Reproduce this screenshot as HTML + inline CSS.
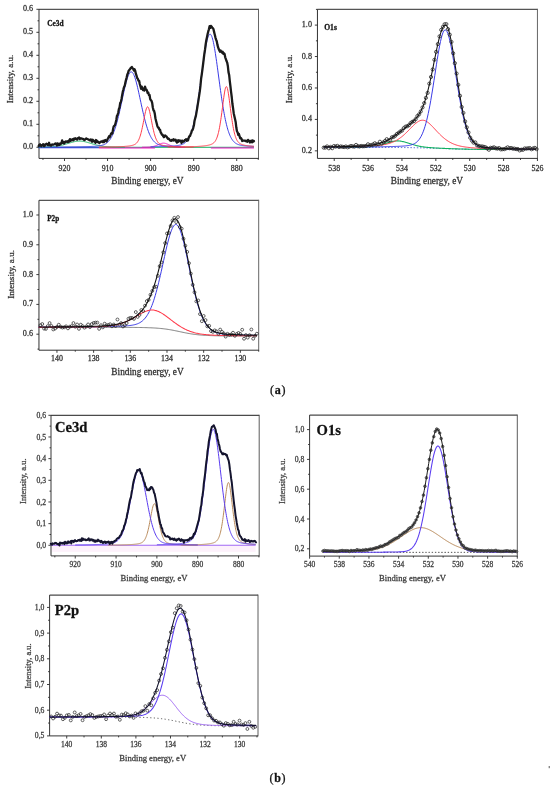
<!DOCTYPE html>
<html><head><meta charset="utf-8"><title>XPS spectra</title>
<style>html,body{margin:0;padding:0;background:#fff}svg{display:block;font-family:"Liberation Serif",serif;filter:blur(0.3px)}text{stroke-width:0.26px;paint-order:stroke}</style></head><body>
<svg width="550" height="791" viewBox="0 0 550 791">
<rect width="550" height="791" fill="#fff"/>
<path d="M39 9.3 H258.5" fill="none" stroke="#555" stroke-width="1.15"/>
<path d="M258.5 8.8 V158.9" fill="none" stroke="#555" stroke-width="0.8999999999999999"/>
<path d="M39 9.3 V158.4 H258.5" fill="none" stroke="#262626" stroke-width="0.95"/>
<text x="64.49" y="170.7" font-size="7.9" fill="#303030" stroke="#303030" text-anchor="middle">920</text>
<text x="107.55" y="170.7" font-size="7.9" fill="#303030" stroke="#303030" text-anchor="middle">910</text>
<text x="150.6" y="170.7" font-size="7.9" fill="#303030" stroke="#303030" text-anchor="middle">900</text>
<text x="193.66" y="170.7" font-size="7.9" fill="#303030" stroke="#303030" text-anchor="middle">890</text>
<text x="236.71" y="170.7" font-size="7.9" fill="#303030" stroke="#303030" text-anchor="middle">880</text>
<path d="M64.49 158.4v2.6M107.55 158.4v2.6M150.6 158.4v2.6M193.66 158.4v2.6M236.71 158.4v2.6M42.96 158.4v1.5M86.02 158.4v1.5M129.07 158.4v1.5M172.13 158.4v1.5M215.19 158.4v1.5M258.24 158.4v1.5" stroke="#262626" stroke-width="0.9" fill="none"/>
<text x="33" y="149.36" font-size="8.1" fill="#303030" stroke="#303030" text-anchor="end">0.0</text>
<text x="33" y="126.37" font-size="8.1" fill="#303030" stroke="#303030" text-anchor="end">0.1</text>
<text x="33" y="103.37" font-size="8.1" fill="#303030" stroke="#303030" text-anchor="end">0.2</text>
<text x="33" y="80.37" font-size="8.1" fill="#303030" stroke="#303030" text-anchor="end">0.3</text>
<text x="33" y="57.37" font-size="8.1" fill="#303030" stroke="#303030" text-anchor="end">0.4</text>
<text x="33" y="34.37" font-size="8.1" fill="#303030" stroke="#303030" text-anchor="end">0.5</text>
<text x="33" y="11.37" font-size="8.1" fill="#303030" stroke="#303030" text-anchor="end">0.6</text>
<path d="M39 147.29h-2.6M39 124.29h-2.6M39 101.29h-2.6M39 78.3h-2.6M39 55.3h-2.6M39 32.3h-2.6M39 9.3h-2.6M39 135.79h-1.5M39 112.79h-1.5M39 89.8h-1.5M39 66.8h-1.5M39 43.8h-1.5M39 20.8h-1.5" stroke="#262626" stroke-width="0.9" fill="none"/>
<path d="M38.66 147.29H253.94" stroke="#10b060" stroke-width="1"/>
<path d="M38.66 147.75H98.93" stroke="#3a3ae6" stroke-width="1"/>
<path d="M98.93 147.98H154.91" stroke="#f010c0" stroke-width="1"/>
<path d="M210.88 147.98H253.94" stroke="#f010c0" stroke-width="1"/>
<path d="M38.66 147.15 L38.99 147.15 L39.32 147.14 L39.65 147.14 L39.98 147.13 L40.31 147.13 L40.64 147.13 L40.97 147.12 L41.31 147.12 L41.64 147.11 L41.97 147.11 L42.3 147.1 L42.63 147.1 L42.96 147.09 L43.29 147.08 L43.62 147.08 L43.95 147.07 L44.29 147.06 L44.62 147.05 L44.95 147.05 L45.28 147.04 L45.61 147.03 L45.94 147.02 L46.27 147.01 L46.6 147 L46.94 146.98 L47.27 146.97 L47.6 146.96 L47.93 146.94 L48.26 146.93 L48.59 146.91 L48.92 146.9 L49.25 146.88 L49.59 146.86 L49.92 146.84 L50.25 146.82 L50.58 146.8 L50.91 146.78 L51.24 146.76 L51.57 146.73 L51.9 146.71 L52.23 146.68 L52.57 146.65 L52.9 146.62 L53.23 146.59 L53.56 146.56 L53.89 146.52 L54.22 146.49 L54.55 146.45 L54.88 146.41 L55.22 146.37 L55.55 146.33 L55.88 146.29 L56.21 146.24 L56.54 146.2 L56.87 146.15 L57.2 146.1 L57.53 146.04 L57.87 145.99 L58.2 145.93 L58.53 145.87 L58.86 145.81 L59.19 145.75 L59.52 145.69 L59.85 145.62 L60.18 145.55 L60.51 145.48 L60.85 145.41 L61.18 145.33 L61.51 145.26 L61.84 145.18 L62.17 145.1 L62.5 145.02 L62.83 144.93 L63.16 144.85 L63.5 144.76 L63.83 144.67 L64.16 144.58 L64.49 144.49 L64.82 144.4 L65.15 144.31 L65.48 144.21 L65.81 144.11 L66.15 144.02 L66.48 143.92 L66.81 143.82 L67.14 143.72 L67.47 143.62 L67.8 143.52 L68.13 143.42 L68.46 143.32 L68.79 143.22 L69.13 143.11 L69.46 143.01 L69.79 142.91 L70.12 142.81 L70.45 142.72 L70.78 142.62 L71.11 142.52 L71.44 142.43 L71.78 142.33 L72.11 142.24 L72.44 142.15 L72.77 142.07 L73.1 141.98 L73.43 141.9 L73.76 141.82 L74.09 141.74 L74.43 141.67 L74.76 141.6 L75.09 141.54 L75.42 141.47 L75.75 141.42 L76.08 141.36 L76.41 141.31 L76.74 141.27 L77.07 141.23 L77.41 141.19 L77.74 141.16 L78.07 141.13 L78.4 141.11 L78.73 141.1 L79.06 141.09 L79.39 141.08 L79.72 141.08 L80.06 141.09 L80.39 141.1 L80.72 141.11 L81.05 141.13 L81.38 141.16 L81.71 141.19 L82.04 141.23 L82.37 141.27 L82.71 141.31 L83.04 141.36 L83.37 141.42 L83.7 141.47 L84.03 141.54 L84.36 141.6 L84.69 141.67 L85.02 141.74 L85.35 141.82 L85.69 141.9 L86.02 141.98 L86.35 142.07 L86.68 142.15 L87.01 142.24 L87.34 142.33 L87.67 142.43 L88 142.52 L88.34 142.62 L88.67 142.72 L89 142.81 L89.33 142.91 L89.66 143.01 L89.99 143.11 L90.32 143.22 L90.65 143.32 L90.99 143.42 L91.32 143.52 L91.65 143.62 L91.98 143.72 L92.31 143.82 L92.64 143.92 L92.97 144.02 L93.3 144.11 L93.63 144.21 L93.97 144.31 L94.3 144.4 L94.63 144.49 L94.96 144.58 L95.29 144.67 L95.62 144.76 L95.95 144.85 L96.28 144.93 L96.62 145.02 L96.95 145.1 L97.28 145.18 L97.61 145.26 L97.94 145.33 L98.27 145.41 L98.6 145.48 L98.93 145.55 L99.27 145.62 L99.6 145.69 L99.93 145.75 L100.26 145.81 L100.59 145.87 L100.92 145.93 L101.25 145.99 L101.58 146.04 L101.91 146.1 L102.25 146.15 L102.58 146.2 L102.91 146.24 L103.24 146.29 L103.57 146.33 L103.9 146.37 L104.23 146.41 L104.56 146.45 L104.9 146.49 L105.23 146.52 L105.56 146.56 L105.89 146.59 L106.22 146.62 L106.55 146.65 L106.88 146.68 L107.21 146.71 L107.55 146.73 L107.88 146.76 L108.21 146.78 L108.54 146.8 L108.87 146.82 L109.2 146.84 L109.53 146.86 L109.86 146.88 L110.19 146.9 L110.53 146.91 L110.86 146.93 L111.19 146.94 L111.52 146.96 L111.85 146.97 L112.18 146.98 L112.51 147 L112.84 147.01 L113.18 147.02 L113.51 147.03 L113.84 147.04 L114.17 147.05 L114.5 147.05 L114.83 147.06 L115.16 147.07 L115.49 147.08 L115.83 147.08 L116.16 147.09 L116.49 147.1 L116.82 147.1 L117.15 147.11 L117.48 147.11 L117.81 147.12 L118.14 147.12 L118.47 147.13 L118.81 147.13 L119.14 147.13 L119.47 147.14 L119.8 147.14 L120.13 147.15 L120.46 147.15 L120.79 147.15 L121.12 147.15 L121.46 147.16 L121.79 147.16 L122.12 147.16 L122.45 147.16 L122.78 147.17 L123.11 147.17 L123.44 147.17 L123.77 147.17 L124.11 147.18 L124.44 147.18 L124.77 147.18" fill="none" stroke="#10b060" stroke-width="1" stroke-linejoin="round" />
<path d="M141.99 147.22 L142.16 147.22 L142.32 147.22 L142.49 147.22 L142.65 147.22 L142.82 147.22 L142.98 147.21 L143.15 147.21 L143.31 147.21 L143.48 147.21 L143.65 147.21 L143.81 147.21 L143.98 147.2 L144.14 147.2 L144.31 147.2 L144.47 147.2 L144.64 147.2 L144.81 147.19 L144.97 147.19 L145.14 147.19 L145.3 147.19 L145.47 147.18 L145.63 147.18 L145.8 147.18 L145.96 147.17 L146.13 147.17 L146.3 147.17 L146.46 147.16 L146.63 147.16 L146.79 147.15 L146.96 147.15 L147.12 147.14 L147.29 147.14 L147.46 147.13 L147.62 147.12 L147.79 147.12 L147.95 147.11 L148.12 147.1 L148.28 147.1 L148.45 147.09 L148.61 147.08 L148.78 147.07 L148.95 147.06 L149.11 147.05 L149.28 147.04 L149.44 147.02 L149.61 147.01 L149.77 147 L149.94 146.98 L150.1 146.97 L150.27 146.95 L150.44 146.94 L150.6 146.92 L150.77 146.9 L150.93 146.88 L151.1 146.86 L151.26 146.84 L151.43 146.82 L151.6 146.79 L151.76 146.77 L151.93 146.74 L152.09 146.71 L152.26 146.68 L152.42 146.65 L152.59 146.62 L152.75 146.59 L152.92 146.56 L153.09 146.52 L153.25 146.48 L153.42 146.44 L153.58 146.4 L153.75 146.36 L153.91 146.32 L154.08 146.27 L154.24 146.23 L154.41 146.18 L154.58 146.13 L154.74 146.08 L154.91 146.03 L155.07 145.97 L155.24 145.92 L155.4 145.86 L155.57 145.8 L155.74 145.74 L155.9 145.68 L156.07 145.62 L156.23 145.56 L156.4 145.49 L156.56 145.43 L156.73 145.36 L156.89 145.29 L157.06 145.22 L157.23 145.15 L157.39 145.08 L157.56 145.01 L157.72 144.94 L157.89 144.87 L158.05 144.79 L158.22 144.72 L158.38 144.65 L158.55 144.57 L158.72 144.5 L158.88 144.43 L159.05 144.36 L159.21 144.28 L159.38 144.21 L159.54 144.14 L159.71 144.08 L159.88 144.01 L160.04 143.94 L160.21 143.88 L160.37 143.81 L160.54 143.75 L160.7 143.69 L160.87 143.64 L161.03 143.58 L161.2 143.53 L161.37 143.48 L161.53 143.43 L161.7 143.39 L161.86 143.35 L162.03 143.31 L162.19 143.28 L162.36 143.25 L162.52 143.22 L162.69 143.2 L162.86 143.18 L163.02 143.17 L163.19 143.16 L163.35 143.15 L163.52 143.15 L163.68 143.15 L163.85 143.16 L164.02 143.17 L164.18 143.18 L164.35 143.2 L164.51 143.22 L164.68 143.25 L164.84 143.28 L165.01 143.31 L165.17 143.35 L165.34 143.39 L165.51 143.43 L165.67 143.48 L165.84 143.53 L166 143.58 L166.17 143.64 L166.33 143.69 L166.5 143.75 L166.66 143.81 L166.83 143.88 L167 143.94 L167.16 144.01 L167.33 144.08 L167.49 144.14 L167.66 144.21 L167.82 144.28 L167.99 144.36 L168.16 144.43 L168.32 144.5 L168.49 144.57 L168.65 144.65 L168.82 144.72 L168.98 144.79 L169.15 144.87 L169.31 144.94 L169.48 145.01 L169.65 145.08 L169.81 145.15 L169.98 145.22 L170.14 145.29 L170.31 145.36 L170.47 145.43 L170.64 145.49 L170.8 145.56 L170.97 145.62 L171.14 145.68 L171.3 145.74 L171.47 145.8 L171.63 145.86 L171.8 145.92 L171.96 145.97 L172.13 146.03 L172.3 146.08 L172.46 146.13 L172.63 146.18 L172.79 146.23 L172.96 146.27 L173.12 146.32 L173.29 146.36 L173.45 146.4 L173.62 146.44 L173.79 146.48 L173.95 146.52 L174.12 146.56 L174.28 146.59 L174.45 146.62 L174.61 146.65 L174.78 146.68 L174.94 146.71 L175.11 146.74 L175.28 146.77 L175.44 146.79 L175.61 146.82 L175.77 146.84 L175.94 146.86 L176.1 146.88 L176.27 146.9 L176.44 146.92 L176.6 146.94 L176.77 146.95 L176.93 146.97 L177.1 146.98 L177.26 147 L177.43 147.01 L177.59 147.02 L177.76 147.04 L177.93 147.05 L178.09 147.06 L178.26 147.07 L178.42 147.08 L178.59 147.09 L178.75 147.1 L178.92 147.1 L179.08 147.11 L179.25 147.12 L179.42 147.12 L179.58 147.13 L179.75 147.14 L179.91 147.14 L180.08 147.15 L180.24 147.15 L180.41 147.16 L180.58 147.16 L180.74 147.17 L180.91 147.17 L181.07 147.17 L181.24 147.18 L181.4 147.18 L181.57 147.18 L181.73 147.19 L181.9 147.19 L182.07 147.19 L182.23 147.19 L182.4 147.2 L182.56 147.2 L182.73 147.2 L182.89 147.2 L183.06 147.2 L183.22 147.21 L183.39 147.21 L183.56 147.21 L183.72 147.21 L183.89 147.21 L184.05 147.21 L184.22 147.22 L184.38 147.22 L184.55 147.22 L184.72 147.22 L184.88 147.22 L185.05 147.22" fill="none" stroke="#f010c0" stroke-width="1" stroke-linejoin="round" />
<path d="M38.66 147.13 L39.2 147.13 L39.75 147.12 L40.29 147.12 L40.84 147.12 L41.39 147.12 L41.93 147.12 L42.48 147.11 L43.03 147.11 L43.57 147.11 L44.12 147.11 L44.67 147.11 L45.21 147.1 L45.76 147.1 L46.31 147.1 L46.85 147.1 L47.4 147.09 L47.95 147.09 L48.49 147.09 L49.04 147.09 L49.59 147.08 L50.13 147.08 L50.68 147.08 L51.22 147.07 L51.77 147.07 L52.32 147.07 L52.86 147.07 L53.41 147.06 L53.96 147.06 L54.5 147.06 L55.05 147.05 L55.6 147.05 L56.14 147.05 L56.69 147.04 L57.24 147.04 L57.78 147.03 L58.33 147.03 L58.88 147.03 L59.42 147.02 L59.97 147.02 L60.51 147.02 L61.06 147.01 L61.61 147.01 L62.15 147 L62.7 147 L63.25 146.99 L63.79 146.99 L64.34 146.98 L64.89 146.98 L65.43 146.97 L65.98 146.97 L66.53 146.96 L67.07 146.96 L67.62 146.95 L68.17 146.95 L68.71 146.94 L69.26 146.93 L69.8 146.93 L70.35 146.92 L70.9 146.92 L71.44 146.91 L71.99 146.9 L72.54 146.89 L73.08 146.89 L73.63 146.88 L74.18 146.87 L74.72 146.86 L75.27 146.86 L75.82 146.85 L76.36 146.84 L76.91 146.83 L77.46 146.82 L78 146.81 L78.55 146.8 L79.1 146.79 L79.64 146.78 L80.19 146.77 L80.73 146.76 L81.28 146.75 L81.83 146.74 L82.37 146.73 L82.92 146.71 L83.47 146.7 L84.01 146.69 L84.56 146.68 L85.11 146.66 L85.65 146.65 L86.2 146.63 L86.75 146.62 L87.29 146.6 L87.84 146.58 L88.39 146.57 L88.93 146.55 L89.48 146.53 L90.02 146.51 L90.57 146.49 L91.12 146.47 L91.66 146.44 L92.21 146.42 L92.76 146.39 L93.3 146.36 L93.85 146.33 L94.4 146.3 L94.94 146.26 L95.49 146.23 L96.04 146.18 L96.58 146.14 L97.13 146.09 L97.68 146.03 L98.22 145.97 L98.77 145.9 L99.31 145.82 L99.86 145.74 L100.41 145.64 L100.95 145.53 L101.5 145.4 L102.05 145.26 L102.59 145.1 L103.14 144.92 L103.69 144.72 L104.23 144.49 L104.78 144.23 L105.33 143.94 L105.87 143.61 L106.42 143.25 L106.97 142.83 L107.51 142.37 L108.06 141.86 L108.61 141.28 L109.15 140.65 L109.7 139.94 L110.24 139.17 L110.79 138.31 L111.34 137.38 L111.88 136.36 L112.43 135.24 L112.98 134.04 L113.52 132.73 L114.07 131.32 L114.62 129.82 L115.16 128.2 L115.71 126.49 L116.26 124.67 L116.8 122.75 L117.35 120.73 L117.9 118.62 L118.44 116.42 L118.99 114.13 L119.53 111.77 L120.08 109.35 L120.63 106.88 L121.17 104.36 L121.72 101.82 L122.27 99.26 L122.81 96.71 L123.36 94.18 L123.91 91.69 L124.45 89.26 L125 86.91 L125.55 84.65 L126.09 82.52 L126.64 80.53 L127.19 78.7 L127.73 77.05 L128.28 75.6 L128.82 74.37 L129.37 73.37 L129.92 72.61 L130.46 72.11 L131.01 71.88 L131.56 71.91 L132.1 72.2 L132.65 72.75 L133.2 73.56 L133.74 74.61 L134.29 75.89 L134.84 77.38 L135.38 79.07 L135.93 80.94 L136.48 82.96 L137.02 85.12 L137.57 87.4 L138.12 89.77 L138.66 92.21 L139.21 94.71 L139.75 97.25 L140.3 99.8 L140.85 102.36 L141.39 104.9 L141.94 107.4 L142.49 109.87 L143.03 112.28 L143.58 114.62 L144.13 116.89 L144.67 119.07 L145.22 121.17 L145.77 123.17 L146.31 125.06 L146.86 126.86 L147.41 128.56 L147.95 130.14 L148.5 131.63 L149.04 133.02 L149.59 134.3 L150.14 135.49 L150.68 136.58 L151.23 137.58 L151.78 138.5 L152.32 139.34 L152.87 140.1 L153.42 140.79 L153.96 141.41 L154.51 141.97 L155.06 142.47 L155.6 142.92 L156.15 143.33 L156.7 143.69 L157.24 144.01 L157.79 144.29 L158.33 144.54 L158.88 144.77 L159.43 144.96 L159.97 145.14 L160.52 145.29 L161.07 145.43 L161.61 145.55 L162.16 145.66 L162.71 145.75 L163.25 145.84 L163.8 145.92 L164.35 145.98 L164.89 146.04 L165.44 146.1 L165.99 146.15 L166.53 146.19 L167.08 146.23 L167.63 146.27 L168.17 146.31 L168.72 146.34 L169.26 146.37 L169.81 146.4 L170.36 146.42 L170.9 146.45 L171.45 146.47 L172 146.49 L172.54 146.51 L173.09 146.53 L173.64 146.55 L174.18 146.57 L174.73 146.59 L175.28 146.6 L175.82 146.62 L176.37 146.64 L176.92 146.65 L177.46 146.66 L178.01 146.68 L178.55 146.69 L179.1 146.7 L179.65 146.72 L180.19 146.73 L180.74 146.74" fill="none" stroke="#3a3ae6" stroke-width="1" stroke-linejoin="round" />
<path d="M150.6 146.77 L151 146.77 L151.4 146.76 L151.79 146.75 L152.19 146.75 L152.59 146.74 L152.99 146.73 L153.38 146.72 L153.78 146.71 L154.18 146.71 L154.58 146.7 L154.97 146.69 L155.37 146.68 L155.77 146.67 L156.17 146.66 L156.56 146.66 L156.96 146.65 L157.36 146.64 L157.76 146.63 L158.15 146.62 L158.55 146.61 L158.95 146.6 L159.35 146.59 L159.74 146.58 L160.14 146.57 L160.54 146.55 L160.93 146.54 L161.33 146.53 L161.73 146.52 L162.13 146.51 L162.52 146.49 L162.92 146.48 L163.32 146.47 L163.72 146.45 L164.11 146.44 L164.51 146.43 L164.91 146.41 L165.31 146.4 L165.7 146.38 L166.1 146.37 L166.5 146.35 L166.9 146.33 L167.29 146.32 L167.69 146.3 L168.09 146.28 L168.49 146.26 L168.88 146.24 L169.28 146.22 L169.68 146.2 L170.08 146.18 L170.47 146.16 L170.87 146.14 L171.27 146.11 L171.67 146.09 L172.06 146.06 L172.46 146.04 L172.86 146.01 L173.26 145.98 L173.65 145.95 L174.05 145.92 L174.45 145.88 L174.85 145.85 L175.24 145.81 L175.64 145.77 L176.04 145.73 L176.44 145.68 L176.83 145.63 L177.23 145.58 L177.63 145.52 L178.02 145.46 L178.42 145.4 L178.82 145.33 L179.22 145.25 L179.61 145.16 L180.01 145.07 L180.41 144.97 L180.81 144.86 L181.2 144.74 L181.6 144.61 L182 144.46 L182.4 144.3 L182.79 144.13 L183.19 143.93 L183.59 143.72 L183.99 143.49 L184.38 143.23 L184.78 142.95 L185.18 142.64 L185.58 142.3 L185.97 141.93 L186.37 141.52 L186.77 141.08 L187.17 140.59 L187.56 140.06 L187.96 139.49 L188.36 138.86 L188.76 138.19 L189.15 137.45 L189.55 136.65 L189.95 135.8 L190.35 134.87 L190.74 133.88 L191.14 132.81 L191.54 131.66 L191.94 130.44 L192.33 129.13 L192.73 127.74 L193.13 126.26 L193.53 124.7 L193.92 123.04 L194.32 121.29 L194.72 119.45 L195.11 117.52 L195.51 115.49 L195.91 113.37 L196.31 111.16 L196.7 108.87 L197.1 106.48 L197.5 104.01 L197.9 101.47 L198.29 98.85 L198.69 96.16 L199.09 93.41 L199.49 90.6 L199.88 87.74 L200.28 84.84 L200.68 81.92 L201.08 78.97 L201.47 76.01 L201.87 73.05 L202.27 70.11 L202.67 67.19 L203.06 64.3 L203.46 61.47 L203.86 58.7 L204.26 56.01 L204.65 53.42 L205.05 50.93 L205.45 48.56 L205.85 46.32 L206.24 44.24 L206.64 42.32 L207.04 40.57 L207.44 39.02 L207.83 37.66 L208.23 36.51 L208.63 35.58 L209.03 34.88 L209.42 34.41 L209.82 34.17 L210.22 34.17 L210.61 34.41 L211.01 34.88 L211.41 35.58 L211.81 36.51 L212.2 37.66 L212.6 39.02 L213 40.57 L213.4 42.32 L213.79 44.24 L214.19 46.32 L214.59 48.56 L214.99 50.93 L215.38 53.42 L215.78 56.01 L216.18 58.7 L216.58 61.47 L216.97 64.3 L217.37 67.19 L217.77 70.11 L218.17 73.05 L218.56 76.01 L218.96 78.97 L219.36 81.92 L219.76 84.84 L220.15 87.74 L220.55 90.6 L220.95 93.41 L221.35 96.16 L221.74 98.85 L222.14 101.47 L222.54 104.01 L222.94 106.48 L223.33 108.87 L223.73 111.16 L224.13 113.37 L224.53 115.49 L224.92 117.52 L225.32 119.45 L225.72 121.29 L226.12 123.04 L226.51 124.7 L226.91 126.26 L227.31 127.74 L227.7 129.13 L228.1 130.44 L228.5 131.66 L228.9 132.81 L229.29 133.88 L229.69 134.87 L230.09 135.8 L230.49 136.65 L230.88 137.45 L231.28 138.19 L231.68 138.86 L232.08 139.49 L232.47 140.06 L232.87 140.59 L233.27 141.08 L233.67 141.52 L234.06 141.93 L234.46 142.3 L234.86 142.64 L235.26 142.95 L235.65 143.23 L236.05 143.49 L236.45 143.72 L236.85 143.93 L237.24 144.13 L237.64 144.3 L238.04 144.46 L238.44 144.61 L238.83 144.74 L239.23 144.86 L239.63 144.97 L240.03 145.07 L240.42 145.16 L240.82 145.25 L241.22 145.33 L241.62 145.4 L242.01 145.46 L242.41 145.52 L242.81 145.58 L243.21 145.63 L243.6 145.68 L244 145.73 L244.4 145.77 L244.79 145.81 L245.19 145.85 L245.59 145.88 L245.99 145.92 L246.38 145.95 L246.78 145.98 L247.18 146.01 L247.58 146.04 L247.97 146.06 L248.37 146.09 L248.77 146.11 L249.17 146.14 L249.56 146.16 L249.96 146.18 L250.36 146.2 L250.76 146.22 L251.15 146.24 L251.55 146.26 L251.95 146.28 L252.35 146.3 L252.74 146.32 L253.14 146.33 L253.54 146.35 L253.94 146.37" fill="none" stroke="#3a3ae6" stroke-width="1" stroke-linejoin="round" />
<path d="M98.93 147.09 L99.3 147.09 L99.66 147.08 L100.03 147.08 L100.39 147.08 L100.76 147.07 L101.12 147.07 L101.48 147.07 L101.85 147.06 L102.21 147.06 L102.58 147.05 L102.94 147.05 L103.31 147.05 L103.67 147.04 L104.03 147.04 L104.4 147.03 L104.76 147.03 L105.13 147.03 L105.49 147.02 L105.86 147.02 L106.22 147.01 L106.58 147.01 L106.95 147 L107.31 147 L107.68 146.99 L108.04 146.99 L108.41 146.98 L108.77 146.97 L109.14 146.97 L109.5 146.96 L109.86 146.96 L110.23 146.95 L110.59 146.94 L110.96 146.94 L111.32 146.93 L111.69 146.92 L112.05 146.91 L112.41 146.91 L112.78 146.9 L113.14 146.89 L113.51 146.88 L113.87 146.87 L114.24 146.86 L114.6 146.86 L114.96 146.85 L115.33 146.84 L115.69 146.83 L116.06 146.82 L116.42 146.8 L116.79 146.79 L117.15 146.78 L117.51 146.77 L117.88 146.76 L118.24 146.74 L118.61 146.73 L118.97 146.72 L119.34 146.7 L119.7 146.69 L120.06 146.67 L120.43 146.66 L120.79 146.64 L121.16 146.62 L121.52 146.6 L121.89 146.58 L122.25 146.56 L122.61 146.54 L122.98 146.52 L123.34 146.5 L123.71 146.48 L124.07 146.45 L124.44 146.43 L124.8 146.4 L125.17 146.37 L125.53 146.34 L125.89 146.31 L126.26 146.28 L126.62 146.25 L126.99 146.21 L127.35 146.18 L127.72 146.14 L128.08 146.1 L128.44 146.05 L128.81 146.01 L129.17 145.96 L129.54 145.91 L129.9 145.85 L130.27 145.79 L130.63 145.73 L130.99 145.66 L131.36 145.59 L131.72 145.51 L132.09 145.43 L132.45 145.33 L132.82 145.23 L133.18 145.11 L133.54 144.99 L133.91 144.84 L134.27 144.68 L134.64 144.5 L135 144.3 L135.37 144.07 L135.73 143.81 L136.09 143.51 L136.46 143.17 L136.82 142.78 L137.19 142.34 L137.55 141.85 L137.92 141.28 L138.28 140.65 L138.65 139.94 L139.01 139.15 L139.37 138.27 L139.74 137.29 L140.1 136.22 L140.47 135.04 L140.83 133.77 L141.2 132.39 L141.56 130.91 L141.92 129.34 L142.29 127.68 L142.65 125.94 L143.02 124.13 L143.38 122.27 L143.75 120.39 L144.11 118.49 L144.47 116.62 L144.84 114.8 L145.2 113.07 L145.57 111.47 L145.93 110.04 L146.3 108.83 L146.66 107.87 L147.02 107.21 L147.39 106.86 L147.75 106.85 L148.12 107.17 L148.48 107.8 L148.85 108.73 L149.21 109.92 L149.57 111.33 L149.94 112.92 L150.3 114.64 L150.67 116.45 L151.03 118.32 L151.4 120.21 L151.76 122.1 L152.12 123.96 L152.49 125.78 L152.85 127.52 L153.22 129.19 L153.58 130.77 L153.95 132.26 L154.31 133.64 L154.68 134.93 L155.04 136.11 L155.4 137.2 L155.77 138.18 L156.13 139.07 L156.5 139.87 L156.86 140.59 L157.23 141.23 L157.59 141.8 L157.95 142.3 L158.32 142.74 L158.68 143.13 L159.05 143.48 L159.41 143.78 L159.78 144.05 L160.14 144.28 L160.5 144.49 L160.87 144.67 L161.23 144.83 L161.6 144.97 L161.96 145.1 L162.33 145.22 L162.69 145.32 L163.05 145.42 L163.42 145.51 L163.78 145.58 L164.15 145.66 L164.51 145.73 L164.88 145.79 L165.24 145.85 L165.6 145.9 L165.97 145.95 L166.33 146 L166.7 146.05 L167.06 146.09 L167.43 146.13 L167.79 146.17 L168.16 146.21 L168.52 146.25 L168.88 146.28 L169.25 146.31 L169.61 146.34 L169.98 146.37 L170.34 146.4 L170.71 146.43 L171.07 146.45 L171.43 146.47 L171.8 146.5 L172.16 146.52 L172.53 146.54 L172.89 146.56 L173.26 146.58 L173.62 146.6 L173.98 146.62 L174.35 146.64 L174.71 146.65 L175.08 146.67 L175.44 146.69 L175.81 146.7 L176.17 146.72 L176.53 146.73 L176.9 146.74 L177.26 146.76 L177.63 146.77 L177.99 146.78 L178.36 146.79 L178.72 146.8 L179.08 146.81 L179.45 146.82 L179.81 146.84 L180.18 146.85 L180.54 146.85 L180.91 146.86 L181.27 146.87 L181.63 146.88 L182 146.89 L182.36 146.9 L182.73 146.91 L183.09 146.91 L183.46 146.92 L183.82 146.93 L184.19 146.94 L184.55 146.94 L184.91 146.95 L185.28 146.96 L185.64 146.96 L186.01 146.97 L186.37 146.97 L186.74 146.98 L187.1 146.99 L187.46 146.99 L187.83 147 L188.19 147 L188.56 147.01 L188.92 147.01 L189.29 147.02 L189.65 147.02 L190.01 147.03 L190.38 147.03 L190.74 147.03 L191.11 147.04 L191.47 147.04 L191.84 147.05 L192.2 147.05 L192.56 147.05 L192.93 147.06 L193.29 147.06 L193.66 147.07" fill="none" stroke="#ff3a4a" stroke-width="1" stroke-linejoin="round" />
<path d="M167.82 147.08 L168.16 147.08 L168.49 147.08 L168.82 147.07 L169.15 147.07 L169.48 147.07 L169.81 147.07 L170.14 147.06 L170.47 147.06 L170.8 147.06 L171.14 147.05 L171.47 147.05 L171.8 147.05 L172.13 147.05 L172.46 147.04 L172.79 147.04 L173.12 147.04 L173.45 147.03 L173.79 147.03 L174.12 147.03 L174.45 147.02 L174.78 147.02 L175.11 147.02 L175.44 147.01 L175.77 147.01 L176.1 147.01 L176.44 147 L176.77 147 L177.1 146.99 L177.43 146.99 L177.76 146.99 L178.09 146.98 L178.42 146.98 L178.75 146.97 L179.08 146.97 L179.42 146.96 L179.75 146.96 L180.08 146.96 L180.41 146.95 L180.74 146.95 L181.07 146.94 L181.4 146.94 L181.73 146.93 L182.07 146.93 L182.4 146.92 L182.73 146.91 L183.06 146.91 L183.39 146.9 L183.72 146.9 L184.05 146.89 L184.38 146.88 L184.72 146.88 L185.05 146.87 L185.38 146.86 L185.71 146.86 L186.04 146.85 L186.37 146.84 L186.7 146.84 L187.03 146.83 L187.36 146.82 L187.7 146.81 L188.03 146.8 L188.36 146.8 L188.69 146.79 L189.02 146.78 L189.35 146.77 L189.68 146.76 L190.01 146.75 L190.35 146.74 L190.68 146.73 L191.01 146.72 L191.34 146.71 L191.67 146.7 L192 146.69 L192.33 146.68 L192.66 146.66 L193 146.65 L193.33 146.64 L193.66 146.63 L193.99 146.61 L194.32 146.6 L194.65 146.59 L194.98 146.57 L195.31 146.56 L195.64 146.54 L195.98 146.52 L196.31 146.51 L196.64 146.49 L196.97 146.47 L197.3 146.46 L197.63 146.44 L197.96 146.42 L198.29 146.4 L198.63 146.38 L198.96 146.36 L199.29 146.33 L199.62 146.31 L199.95 146.29 L200.28 146.26 L200.61 146.24 L200.94 146.21 L201.28 146.18 L201.61 146.15 L201.94 146.12 L202.27 146.09 L202.6 146.06 L202.93 146.03 L203.26 145.99 L203.59 145.96 L203.92 145.92 L204.26 145.88 L204.59 145.84 L204.92 145.79 L205.25 145.75 L205.58 145.7 L205.91 145.65 L206.24 145.6 L206.57 145.55 L206.91 145.49 L207.24 145.43 L207.57 145.37 L207.9 145.31 L208.23 145.24 L208.56 145.16 L208.89 145.09 L209.22 145 L209.56 144.92 L209.89 144.82 L210.22 144.72 L210.55 144.61 L210.88 144.49 L211.21 144.37 L211.54 144.23 L211.87 144.07 L212.2 143.91 L212.54 143.72 L212.87 143.52 L213.2 143.29 L213.53 143.03 L213.86 142.74 L214.19 142.42 L214.52 142.06 L214.85 141.66 L215.19 141.2 L215.52 140.69 L215.85 140.12 L216.18 139.47 L216.51 138.75 L216.84 137.95 L217.17 137.05 L217.5 136.06 L217.84 134.96 L218.17 133.75 L218.5 132.43 L218.83 130.98 L219.16 129.41 L219.49 127.72 L219.82 125.89 L220.15 123.95 L220.48 121.88 L220.82 119.69 L221.15 117.4 L221.48 115.02 L221.81 112.55 L222.14 110.02 L222.47 107.45 L222.8 104.87 L223.13 102.3 L223.47 99.78 L223.8 97.35 L224.13 95.06 L224.46 92.94 L224.79 91.06 L225.12 89.45 L225.45 88.17 L225.78 87.24 L226.12 86.71 L226.45 86.58 L226.78 86.87 L227.11 87.57 L227.44 88.64 L227.77 90.06 L228.1 91.78 L228.43 93.77 L228.76 95.96 L229.1 98.31 L229.43 100.78 L229.76 103.32 L230.09 105.9 L230.42 108.48 L230.75 111.04 L231.08 113.55 L231.41 115.98 L231.75 118.33 L232.08 120.58 L232.41 122.72 L232.74 124.74 L233.07 126.64 L233.4 128.41 L233.73 130.06 L234.06 131.58 L234.4 132.97 L234.73 134.25 L235.06 135.41 L235.39 136.47 L235.72 137.42 L236.05 138.28 L236.38 139.05 L236.71 139.74 L237.04 140.36 L237.38 140.9 L237.71 141.39 L238.04 141.83 L238.37 142.21 L238.7 142.56 L239.03 142.86 L239.36 143.14 L239.69 143.38 L240.03 143.6 L240.36 143.8 L240.69 143.98 L241.02 144.14 L241.35 144.28 L241.68 144.42 L242.01 144.54 L242.34 144.66 L242.68 144.76 L243.01 144.86 L243.34 144.95 L243.67 145.04 L244 145.12 L244.33 145.19 L244.66 145.27 L244.99 145.33 L245.32 145.4 L245.66 145.46 L245.99 145.52 L246.32 145.57 L246.65 145.62 L246.98 145.67 L247.31 145.72 L247.64 145.77 L247.97 145.81 L248.31 145.85 L248.64 145.89 L248.97 145.93 L249.3 145.97 L249.63 146.01 L249.96 146.04 L250.29 146.07 L250.62 146.1 L250.96 146.14 L251.29 146.16 L251.62 146.19 L251.95 146.22 L252.28 146.25 L252.61 146.27 L252.94 146.3 L253.27 146.32 L253.6 146.34 L253.94 146.36" fill="none" stroke="#ff3a4a" stroke-width="1" stroke-linejoin="round" />
<path d="M38.66 146.12 L39.31 144.82 L39.96 144.32 L40.61 145.52 L41.27 146.17 L41.92 145.14 L42.57 144.69 L43.22 144.17 L43.87 146.02 L44.53 146.06 L45.18 144.44 L45.83 144.6 L46.48 143.72 L47.14 144.14 L47.79 144.99 L48.44 145.09 L49.09 142.77 L49.75 145.03 L50.4 145.39 L51.05 145.63 L51.7 144.58 L52.36 144.49 L53.01 144.82 L53.66 144.52 L54.31 144.18 L54.96 143.77 L55.62 143.35 L56.27 143.98 L56.92 145.49 L57.57 143.37 L58.23 144.97 L58.88 143.84 L59.53 144.76 L60.18 143.44 L60.84 143.92 L61.49 142.97 L62.14 140.32 L62.79 142.85 L63.45 141.96 L64.1 143.53 L64.75 142.51 L65.4 141.55 L66.05 141.96 L66.71 141.39 L67.36 141.4 L68.01 142.09 L68.66 140.62 L69.32 141.52 L69.97 139.16 L70.62 140.87 L71.27 139.72 L71.93 140.08 L72.58 139.13 L73.23 140.21 L73.88 138.76 L74.54 139.51 L75.19 138.25 L75.84 138.64 L76.49 138.92 L77.15 139.57 L77.8 138.25 L78.45 138.44 L79.1 137.46 L79.75 139.07 L80.41 138.33 L81.06 138.39 L81.71 138.62 L82.36 138.74 L83.02 138.84 L83.67 139.57 L84.32 140.02 L84.97 139.64 L85.63 138.99 L86.28 138.39 L86.93 138.98 L87.58 139.08 L88.24 139.48 L88.89 139.71 L89.54 140.3 L90.19 140.01 L90.84 139.37 L91.5 141.24 L92.15 141.7 L92.8 139.73 L93.45 141.27 L94.11 140.83 L94.76 141.05 L95.41 142.8 L96.06 140.04 L96.72 140.67 L97.37 142.04 L98.02 141.64 L98.67 142.19 L99.33 143.03 L99.98 142.4 L100.63 141.98 L101.28 141.32 L101.93 141.55 L102.59 141.93 L103.24 140.71 L103.89 142.18 L104.54 140.65 L105.2 140.05 L105.85 140.77 L106.5 141.5 L107.15 140.24 L107.81 138.68 L108.46 137.72 L109.11 136.07 L109.76 137.2 L110.42 135.35 L111.07 133.67 L111.72 133.05 L112.37 133.42 L113.03 129.32 L113.68 126.44 L114.33 125.68 L114.98 125.27 L115.63 122.78 L116.29 120.05 L116.94 115.87 L117.59 114.9 L118.24 112.72 L118.9 108.87 L119.55 107.41 L120.2 102.99 L120.85 102.13 L121.51 99.02 L122.16 95.11 L122.81 91.6 L123.46 89.31 L124.12 86.75 L124.77 85.71 L125.42 82.19 L126.07 79.62 L126.72 77.26 L127.38 74.26 L128.03 73.14 L128.68 70.63 L129.33 69.88 L129.99 69.19 L130.64 68.11 L131.29 67.47 L131.94 67.06 L132.6 68.39 L133.25 68.76 L133.9 70.53 L134.55 69.28 L135.21 70.78 L135.86 73.67 L136.51 75.64 L137.16 78.07 L137.82 78.81 L138.47 80.63 L139.12 80.8 L139.77 83.98 L140.42 86.23 L141.08 88.77 L141.73 86.61 L142.38 88.28 L143.03 90.19 L143.69 89.02 L144.34 90.62 L144.99 86.64 L145.64 88.7 L146.3 89.45 L146.95 90.57 L147.6 92.95 L148.25 92.44 L148.91 95 L149.56 94.97 L150.21 99.11 L150.86 100.24 L151.51 100.79 L152.17 102.81 L152.82 107.52 L153.47 110.32 L154.12 110.95 L154.78 113.62 L155.43 118.27 L156.08 120.98 L156.73 123.54 L157.39 126.15 L158.04 127.62 L158.69 127.68 L159.34 129.51 L160 129.58 L160.65 132.32 L161.3 133.24 L161.95 134.69 L162.6 134.68 L163.26 136.24 L163.91 137.17 L164.56 135.67 L165.21 135.53 L165.87 136.44 L166.52 136.43 L167.17 137.66 L167.82 138.78 L168.48 138.44 L169.13 139.1 L169.78 139.96 L170.43 140.68 L171.09 140.75 L171.74 139.78 L172.39 139.86 L173.04 140.55 L173.7 139.2 L174.35 140.37 L175 140.19 L175.65 139.82 L176.3 141.59 L176.96 142.62 L177.61 140.53 L178.26 141.77 L178.91 140.23 L179.57 141.06 L180.22 140.55 L180.87 140.75 L181.52 143.02 L182.18 140.71 L182.83 141.75 L183.48 141.69 L184.13 141.26 L184.79 140.07 L185.44 139.68 L186.09 139.22 L186.74 140.92 L187.39 139.51 L188.05 140.29 L188.7 137.68 L189.35 136.18 L190 136.19 L190.66 134.12 L191.31 132.67 L191.96 130.37 L192.61 129.94 L193.27 127.8 L193.92 125.33 L194.57 120.62 L195.22 118.18 L195.88 115.9 L196.53 112.07 L197.18 108.32 L197.83 104.12 L198.49 100.07 L199.14 95.54 L199.79 91.43 L200.44 85.9 L201.09 78.88 L201.75 74.5 L202.4 69.57 L203.05 64.5 L203.7 59.06 L204.36 53.76 L205.01 49.71 L205.66 44.48 L206.31 40.24 L206.97 37.26 L207.62 34.01 L208.27 31.44 L208.92 29.33 L209.58 26.22 L210.23 27.92 L210.88 25.95 L211.53 26.55 L212.18 27.43 L212.84 28.23 L213.49 29.19 L214.14 32.16 L214.79 34.7 L215.45 37.56 L216.1 39.68 L216.75 41.28 L217.4 44.6 L218.06 47.24 L218.71 49.08 L219.36 50.38 L220.01 51.72 L220.67 50.54 L221.32 51.72 L221.97 52.62 L222.62 51.61 L223.27 53.74 L223.93 53.2 L224.58 54.06 L225.23 57.28 L225.88 59.12 L226.54 61.03 L227.19 62.59 L227.84 65.91 L228.49 72.13 L229.15 74.96 L229.8 81.15 L230.45 86.46 L231.1 92.01 L231.76 97.25 L232.41 103.77 L233.06 108.2 L233.71 113.17 L234.37 116.2 L235.02 118.91 L235.67 121.94 L236.32 127.52 L236.97 131.31 L237.63 132.51 L238.28 134.83 L238.93 134.02 L239.58 136.4 L240.24 138.44 L240.89 137.89 L241.54 138.82 L242.19 141.02 L242.85 140.5 L243.5 140.53 L244.15 140.53 L244.8 140.6 L245.46 141.09 L246.11 140.76 L246.76 141.46 L247.41 141.77 L248.06 139.88 L248.72 140.85 L249.37 140.82 L250.02 142.49 L250.67 141.38 L251.33 140.61 L251.98 142.34 L252.63 140.44 L253.28 141.67 L253.94 141.05" fill="none" stroke="#1a1a1a" stroke-width="2.3" stroke-linejoin="round" stroke-linecap="round"/>
<text x="47.2" y="26.3" font-size="7.4" font-weight="bold" fill="#111" stroke="#111">Ce3d</text>
<text x="147.4" y="184.4" font-size="9.3" fill="#303030" stroke="#303030" text-anchor="middle">Binding energy, eV</text>
<text transform="translate(12.7 79) rotate(-90)" font-size="9.05" fill="#303030" stroke="#303030" text-anchor="middle">Intensity, a.u.</text>
<path d="M317.45 9.3 H537.45" fill="none" stroke="#555" stroke-width="1.15"/>
<path d="M537.45 8.8 V158.9" fill="none" stroke="#555" stroke-width="0.8999999999999999"/>
<path d="M317.45 9.3 V158.4 H537.45" fill="none" stroke="#262626" stroke-width="0.95"/>
<text x="334.22" y="170.8" font-size="7.9" fill="#303030" stroke="#303030" text-anchor="middle">538</text>
<text x="368.09" y="170.8" font-size="7.9" fill="#303030" stroke="#303030" text-anchor="middle">536</text>
<text x="401.96" y="170.8" font-size="7.9" fill="#303030" stroke="#303030" text-anchor="middle">534</text>
<text x="435.83" y="170.8" font-size="7.9" fill="#303030" stroke="#303030" text-anchor="middle">532</text>
<text x="469.71" y="170.8" font-size="7.9" fill="#303030" stroke="#303030" text-anchor="middle">530</text>
<text x="503.58" y="170.8" font-size="7.9" fill="#303030" stroke="#303030" text-anchor="middle">528</text>
<text x="537.45" y="170.8" font-size="7.9" fill="#303030" stroke="#303030" text-anchor="middle">526</text>
<path d="M334.22 158.4v2.6M368.09 158.4v2.6M401.96 158.4v2.6M435.83 158.4v2.6M469.71 158.4v2.6M503.58 158.4v2.6M537.45 158.4v2.6M351.15 158.4v1.5M385.03 158.4v1.5M418.9 158.4v1.5M452.77 158.4v1.5M486.64 158.4v1.5M520.51 158.4v1.5" stroke="#262626" stroke-width="0.9" fill="none"/>
<text x="311.95" y="152.93" font-size="8.1" fill="#303030" stroke="#303030" text-anchor="end">0.2</text>
<text x="311.95" y="121.49" font-size="8.1" fill="#303030" stroke="#303030" text-anchor="end">0.4</text>
<text x="311.95" y="90.05" font-size="8.1" fill="#303030" stroke="#303030" text-anchor="end">0.6</text>
<text x="311.95" y="58.61" font-size="8.1" fill="#303030" stroke="#303030" text-anchor="end">0.8</text>
<text x="311.95" y="27.17" font-size="8.1" fill="#303030" stroke="#303030" text-anchor="end">1.0</text>
<path d="M317.45 150.85h-2.6M317.45 119.42h-2.6M317.45 87.98h-2.6M317.45 56.54h-2.6M317.45 25.1h-2.6M317.45 135.14h-1.5M317.45 103.7h-1.5M317.45 72.26h-1.5M317.45 40.82h-1.5M317.45 9.38h-1.5" stroke="#262626" stroke-width="0.9" fill="none"/>
<path d="M324.06 147.4 L324.87 147.4 L325.68 147.4 L326.5 147.4 L327.31 147.4 L328.13 147.4 L328.94 147.4 L329.75 147.4 L330.57 147.4 L331.38 147.4 L332.2 147.4 L333.01 147.4 L333.83 147.4 L334.64 147.4 L335.45 147.4 L336.27 147.4 L337.08 147.4 L337.9 147.4 L338.71 147.4 L339.53 147.4 L340.34 147.4 L341.15 147.4 L341.97 147.4 L342.78 147.4 L343.6 147.4 L344.41 147.4 L345.23 147.4 L346.04 147.4 L346.85 147.4 L347.67 147.4 L348.48 147.4 L349.3 147.4 L350.11 147.4 L350.92 147.4 L351.74 147.4 L352.55 147.4 L353.37 147.4 L354.18 147.4 L355 147.4 L355.81 147.4 L356.62 147.4 L357.44 147.4 L358.25 147.41 L359.07 147.41 L359.88 147.41 L360.7 147.41 L361.51 147.41 L362.32 147.41 L363.14 147.41 L363.95 147.41 L364.77 147.41 L365.58 147.41 L366.4 147.41 L367.21 147.41 L368.02 147.41 L368.84 147.41 L369.65 147.42 L370.47 147.42 L371.28 147.42 L372.09 147.42 L372.91 147.42 L373.72 147.42 L374.54 147.42 L375.35 147.42 L376.17 147.43 L376.98 147.43 L377.79 147.43 L378.61 147.43 L379.42 147.43 L380.24 147.43 L381.05 147.44 L381.87 147.44 L382.68 147.44 L383.49 147.44 L384.31 147.45 L385.12 147.45 L385.94 147.45 L386.75 147.45 L387.57 147.46 L388.38 147.46 L389.19 147.46 L390.01 147.47 L390.82 147.47 L391.64 147.47 L392.45 147.48 L393.27 147.48 L394.08 147.49 L394.89 147.49 L395.71 147.5 L396.52 147.5 L397.34 147.51 L398.15 147.51 L398.96 147.52 L399.78 147.53 L400.59 147.53 L401.41 147.54 L402.22 147.55 L403.04 147.56 L403.85 147.56 L404.66 147.57 L405.48 147.58 L406.29 147.59 L407.11 147.6 L407.92 147.61 L408.74 147.62 L409.55 147.63 L410.36 147.64 L411.18 147.65 L411.99 147.67 L412.81 147.68 L413.62 147.69 L414.44 147.71 L415.25 147.72 L416.06 147.74 L416.88 147.75 L417.69 147.77 L418.51 147.79 L419.32 147.8 L420.13 147.82 L420.95 147.84 L421.76 147.86 L422.58 147.88 L423.39 147.9 L424.21 147.92 L425.02 147.94 L425.83 147.96 L426.65 147.99 L427.46 148.01 L428.28 148.03 L429.09 148.06 L429.91 148.08 L430.72 148.11 L431.53 148.14 L432.35 148.16 L433.16 148.19 L433.98 148.22 L434.79 148.24 L435.61 148.27 L436.42 148.3 L437.23 148.33 L438.05 148.36 L438.86 148.39 L439.68 148.42 L440.49 148.44 L441.31 148.47 L442.12 148.5 L442.93 148.53 L443.75 148.56 L444.56 148.59 L445.38 148.62 L446.19 148.65 L447 148.68 L447.82 148.71 L448.63 148.73 L449.45 148.76 L450.26 148.79 L451.08 148.82 L451.89 148.84 L452.7 148.87 L453.52 148.9 L454.33 148.92 L455.15 148.95 L455.96 148.97 L456.78 148.99 L457.59 149.02 L458.4 149.04 L459.22 149.06 L460.03 149.08 L460.85 149.1 L461.66 149.12 L462.48 149.14 L463.29 149.16 L464.1 149.18 L464.92 149.2 L465.73 149.22 L466.55 149.23 L467.36 149.25 L468.17 149.26 L468.99 149.28 L469.8 149.29 L470.62 149.31 L471.43 149.32 L472.25 149.33 L473.06 149.34 L473.87 149.36 L474.69 149.37 L475.5 149.38 L476.32 149.39 L477.13 149.4 L477.95 149.41 L478.76 149.42 L479.57 149.43 L480.39 149.43 L481.2 149.44 L482.02 149.45 L482.83 149.46 L483.65 149.46 L484.46 149.47 L485.27 149.48 L486.09 149.48 L486.9 149.49 L487.72 149.49 L488.53 149.5 L489.34 149.5 L490.16 149.51 L490.97 149.51 L491.79 149.52 L492.6 149.52 L493.42 149.52 L494.23 149.53 L495.04 149.53 L495.86 149.53 L496.67 149.54 L497.49 149.54 L498.3 149.54 L499.12 149.55 L499.93 149.55 L500.74 149.55 L501.56 149.55 L502.37 149.56 L503.19 149.56 L504 149.56 L504.82 149.56 L505.63 149.56 L506.44 149.57 L507.26 149.57 L508.07 149.57 L508.89 149.57 L509.7 149.57 L510.52 149.57 L511.33 149.57 L512.14 149.58 L512.96 149.58 L513.77 149.58 L514.59 149.58 L515.4 149.58 L516.21 149.58 L517.03 149.58 L517.84 149.58 L518.66 149.58 L519.47 149.58 L520.29 149.58 L521.1 149.58 L521.91 149.59 L522.73 149.59 L523.54 149.59 L524.36 149.59 L525.17 149.59 L525.99 149.59 L526.8 149.59 L527.61 149.59 L528.43 149.59 L529.24 149.59 L530.06 149.59 L530.87 149.59 L531.69 149.59 L532.5 149.59 L533.31 149.59 L534.13 149.59 L534.94 149.59 L535.76 149.59" fill="none" stroke="#3050d0" stroke-width="0.9" stroke-linejoin="round" stroke-dasharray="1.4 1.8"/>
<path d="M324.06 147.32 L324.87 147.32 L325.68 147.32 L326.5 147.32 L327.31 147.32 L328.13 147.32 L328.94 147.31 L329.75 147.31 L330.57 147.31 L331.38 147.31 L332.2 147.31 L333.01 147.3 L333.83 147.3 L334.64 147.3 L335.45 147.3 L336.27 147.3 L337.08 147.29 L337.9 147.29 L338.71 147.29 L339.53 147.28 L340.34 147.28 L341.15 147.28 L341.97 147.28 L342.78 147.27 L343.6 147.27 L344.41 147.27 L345.23 147.26 L346.04 147.26 L346.85 147.25 L347.67 147.25 L348.48 147.24 L349.3 147.24 L350.11 147.23 L350.92 147.23 L351.74 147.22 L352.55 147.21 L353.37 147.21 L354.18 147.2 L355 147.19 L355.81 147.18 L356.62 147.17 L357.44 147.16 L358.25 147.15 L359.07 147.13 L359.88 147.12 L360.7 147.1 L361.51 147.08 L362.32 147.06 L363.14 147.03 L363.95 147 L364.77 146.97 L365.58 146.93 L366.4 146.89 L367.21 146.85 L368.02 146.8 L368.84 146.74 L369.65 146.67 L370.47 146.6 L371.28 146.52 L372.09 146.43 L372.91 146.33 L373.72 146.22 L374.54 146.11 L375.35 145.98 L376.17 145.84 L376.98 145.69 L377.79 145.53 L378.61 145.35 L379.42 145.17 L380.24 144.97 L381.05 144.77 L381.87 144.55 L382.68 144.33 L383.49 144.09 L384.31 143.85 L385.12 143.61 L385.94 143.36 L386.75 143.11 L387.57 142.86 L388.38 142.62 L389.19 142.38 L390.01 142.14 L390.82 141.92 L391.64 141.71 L392.45 141.52 L393.27 141.35 L394.08 141.21 L394.89 141.09 L395.71 141 L396.52 140.94 L397.34 140.91 L398.15 140.92 L398.96 140.96 L399.78 141.03 L400.59 141.13 L401.41 141.26 L402.22 141.42 L403.04 141.61 L403.85 141.81 L404.66 142.03 L405.48 142.27 L406.29 142.51 L407.11 142.77 L407.92 143.03 L408.74 143.29 L409.55 143.55 L410.36 143.81 L411.18 144.07 L411.99 144.33 L412.81 144.58 L413.62 144.82 L414.44 145.05 L415.25 145.27 L416.06 145.48 L416.88 145.68 L417.69 145.87 L418.51 146.05 L419.32 146.22 L420.13 146.38 L420.95 146.53 L421.76 146.67 L422.58 146.8 L423.39 146.91 L424.21 147.03 L425.02 147.13 L425.83 147.22 L426.65 147.31 L427.46 147.39 L428.28 147.47 L429.09 147.54 L429.91 147.61 L430.72 147.67 L431.53 147.73 L432.35 147.79 L433.16 147.84 L433.98 147.89 L434.79 147.94 L435.61 147.98 L436.42 148.03 L437.23 148.07 L438.05 148.11 L438.86 148.15 L439.68 148.19 L440.49 148.23 L441.31 148.27 L442.12 148.31 L442.93 148.35 L443.75 148.38 L444.56 148.42 L445.38 148.45 L446.19 148.49 L447 148.52 L447.82 148.55 L448.63 148.59 L449.45 148.62 L450.26 148.65 L451.08 148.68 L451.89 148.71 L452.7 148.74 L453.52 148.77 L454.33 148.8 L455.15 148.83 L455.96 148.86 L456.78 148.88 L457.59 148.91 L458.4 148.93 L459.22 148.96 L460.03 148.98 L460.85 149.01 L461.66 149.03 L462.48 149.05 L463.29 149.07 L464.1 149.09 L464.92 149.11 L465.73 149.13 L466.55 149.15 L467.36 149.17 L468.17 149.18 L468.99 149.2 L469.8 149.22 L470.62 149.23 L471.43 149.25 L472.25 149.26 L473.06 149.27 L473.87 149.29 L474.69 149.3 L475.5 149.31 L476.32 149.32 L477.13 149.34 L477.95 149.35 L478.76 149.36 L479.57 149.37 L480.39 149.38 L481.2 149.38 L482.02 149.39 L482.83 149.4 L483.65 149.41 L484.46 149.42 L485.27 149.42 L486.09 149.43 L486.9 149.44 L487.72 149.44 L488.53 149.45 L489.34 149.46 L490.16 149.46 L490.97 149.47 L491.79 149.47 L492.6 149.48 L493.42 149.48 L494.23 149.48 L495.04 149.49 L495.86 149.49 L496.67 149.5 L497.49 149.5 L498.3 149.5 L499.12 149.51 L499.93 149.51 L500.74 149.51 L501.56 149.52 L502.37 149.52 L503.19 149.52 L504 149.52 L504.82 149.53 L505.63 149.53 L506.44 149.53 L507.26 149.53 L508.07 149.54 L508.89 149.54 L509.7 149.54 L510.52 149.54 L511.33 149.54 L512.14 149.54 L512.96 149.55 L513.77 149.55 L514.59 149.55 L515.4 149.55 L516.21 149.55 L517.03 149.55 L517.84 149.55 L518.66 149.56 L519.47 149.56 L520.29 149.56 L521.1 149.56 L521.91 149.56 L522.73 149.56 L523.54 149.56 L524.36 149.56 L525.17 149.56 L525.99 149.56 L526.8 149.56 L527.61 149.57 L528.43 149.57 L529.24 149.57 L530.06 149.57 L530.87 149.57 L531.69 149.57 L532.5 149.57 L533.31 149.57 L534.13 149.57 L534.94 149.57 L535.76 149.57" fill="none" stroke="#10b060" stroke-width="1.1" stroke-linejoin="round" />
<path d="M324.06 146.98 L324.87 146.97 L325.68 146.96 L326.5 146.96 L327.31 146.95 L328.13 146.94 L328.94 146.93 L329.75 146.93 L330.57 146.92 L331.38 146.91 L332.2 146.9 L333.01 146.89 L333.83 146.88 L334.64 146.88 L335.45 146.87 L336.27 146.86 L337.08 146.85 L337.9 146.84 L338.71 146.83 L339.53 146.82 L340.34 146.8 L341.15 146.79 L341.97 146.78 L342.78 146.77 L343.6 146.76 L344.41 146.74 L345.23 146.73 L346.04 146.72 L346.85 146.7 L347.67 146.69 L348.48 146.68 L349.3 146.66 L350.11 146.64 L350.92 146.63 L351.74 146.61 L352.55 146.6 L353.37 146.58 L354.18 146.56 L355 146.54 L355.81 146.52 L356.62 146.5 L357.44 146.48 L358.25 146.46 L359.07 146.44 L359.88 146.41 L360.7 146.39 L361.51 146.36 L362.32 146.34 L363.14 146.31 L363.95 146.28 L364.77 146.25 L365.58 146.22 L366.4 146.19 L367.21 146.15 L368.02 146.12 L368.84 146.08 L369.65 146.04 L370.47 146 L371.28 145.95 L372.09 145.9 L372.91 145.85 L373.72 145.8 L374.54 145.74 L375.35 145.68 L376.17 145.61 L376.98 145.54 L377.79 145.47 L378.61 145.38 L379.42 145.3 L380.24 145.2 L381.05 145.1 L381.87 144.98 L382.68 144.86 L383.49 144.73 L384.31 144.58 L385.12 144.43 L385.94 144.25 L386.75 144.07 L387.57 143.87 L388.38 143.65 L389.19 143.42 L390.01 143.16 L390.82 142.89 L391.64 142.59 L392.45 142.27 L393.27 141.93 L394.08 141.56 L394.89 141.17 L395.71 140.75 L396.52 140.3 L397.34 139.82 L398.15 139.32 L398.96 138.78 L399.78 138.22 L400.59 137.62 L401.41 137 L402.22 136.35 L403.04 135.66 L403.85 134.96 L404.66 134.22 L405.48 133.46 L406.29 132.68 L407.11 131.88 L407.92 131.07 L408.74 130.24 L409.55 129.4 L410.36 128.56 L411.18 127.72 L411.99 126.89 L412.81 126.07 L413.62 125.27 L414.44 124.5 L415.25 123.76 L416.06 123.08 L416.88 122.44 L417.69 121.87 L418.51 121.37 L419.32 120.95 L420.13 120.62 L420.95 120.39 L421.76 120.25 L422.58 120.21 L423.39 120.28 L424.21 120.45 L425.02 120.71 L425.83 121.07 L426.65 121.52 L427.46 122.05 L428.28 122.65 L429.09 123.32 L429.91 124.04 L430.72 124.81 L431.53 125.62 L432.35 126.46 L433.16 127.31 L433.98 128.19 L434.79 129.06 L435.61 129.95 L436.42 130.82 L437.23 131.69 L438.05 132.55 L438.86 133.39 L439.68 134.21 L440.49 135.01 L441.31 135.78 L442.12 136.53 L442.93 137.25 L443.75 137.95 L444.56 138.61 L445.38 139.25 L446.19 139.85 L447 140.42 L447.82 140.97 L448.63 141.48 L449.45 141.97 L450.26 142.42 L451.08 142.85 L451.89 143.25 L452.7 143.63 L453.52 143.98 L454.33 144.31 L455.15 144.61 L455.96 144.9 L456.78 145.16 L457.59 145.41 L458.4 145.63 L459.22 145.85 L460.03 146.04 L460.85 146.22 L461.66 146.39 L462.48 146.55 L463.29 146.69 L464.1 146.83 L464.92 146.95 L465.73 147.07 L466.55 147.18 L467.36 147.28 L468.17 147.37 L468.99 147.46 L469.8 147.54 L470.62 147.62 L471.43 147.69 L472.25 147.76 L473.06 147.82 L473.87 147.88 L474.69 147.94 L475.5 148 L476.32 148.05 L477.13 148.1 L477.95 148.14 L478.76 148.19 L479.57 148.23 L480.39 148.27 L481.2 148.31 L482.02 148.35 L482.83 148.38 L483.65 148.42 L484.46 148.45 L485.27 148.48 L486.09 148.51 L486.9 148.54 L487.72 148.57 L488.53 148.59 L489.34 148.62 L490.16 148.64 L490.97 148.67 L491.79 148.69 L492.6 148.71 L493.42 148.73 L494.23 148.75 L495.04 148.77 L495.86 148.79 L496.67 148.81 L497.49 148.83 L498.3 148.85 L499.12 148.86 L499.93 148.88 L500.74 148.89 L501.56 148.91 L502.37 148.92 L503.19 148.94 L504 148.95 L504.82 148.97 L505.63 148.98 L506.44 148.99 L507.26 149 L508.07 149.02 L508.89 149.03 L509.7 149.04 L510.52 149.05 L511.33 149.06 L512.14 149.07 L512.96 149.08 L513.77 149.09 L514.59 149.1 L515.4 149.11 L516.21 149.12 L517.03 149.12 L517.84 149.13 L518.66 149.14 L519.47 149.15 L520.29 149.16 L521.1 149.16 L521.91 149.17 L522.73 149.18 L523.54 149.19 L524.36 149.19 L525.17 149.2 L525.99 149.21 L526.8 149.21 L527.61 149.22 L528.43 149.22 L529.24 149.23 L530.06 149.23 L530.87 149.24 L531.69 149.25 L532.5 149.25 L533.31 149.26 L534.13 149.26 L534.94 149.27 L535.76 149.27" fill="none" stroke="#ff3a4a" stroke-width="1" stroke-linejoin="round" />
<path d="M324.06 147.21 L324.87 147.21 L325.68 147.2 L326.5 147.2 L327.31 147.2 L328.13 147.2 L328.94 147.19 L329.75 147.19 L330.57 147.19 L331.38 147.18 L332.2 147.18 L333.01 147.18 L333.83 147.18 L334.64 147.17 L335.45 147.17 L336.27 147.17 L337.08 147.16 L337.9 147.16 L338.71 147.16 L339.53 147.15 L340.34 147.15 L341.15 147.14 L341.97 147.14 L342.78 147.14 L343.6 147.13 L344.41 147.13 L345.23 147.12 L346.04 147.12 L346.85 147.12 L347.67 147.11 L348.48 147.11 L349.3 147.1 L350.11 147.1 L350.92 147.09 L351.74 147.09 L352.55 147.08 L353.37 147.08 L354.18 147.07 L355 147.07 L355.81 147.06 L356.62 147.06 L357.44 147.05 L358.25 147.04 L359.07 147.04 L359.88 147.03 L360.7 147.02 L361.51 147.02 L362.32 147.01 L363.14 147 L363.95 147 L364.77 146.99 L365.58 146.98 L366.4 146.97 L367.21 146.96 L368.02 146.96 L368.84 146.95 L369.65 146.94 L370.47 146.93 L371.28 146.92 L372.09 146.91 L372.91 146.9 L373.72 146.89 L374.54 146.88 L375.35 146.87 L376.17 146.86 L376.98 146.85 L377.79 146.83 L378.61 146.82 L379.42 146.81 L380.24 146.8 L381.05 146.78 L381.87 146.77 L382.68 146.75 L383.49 146.74 L384.31 146.72 L385.12 146.71 L385.94 146.69 L386.75 146.67 L387.57 146.65 L388.38 146.63 L389.19 146.62 L390.01 146.59 L390.82 146.57 L391.64 146.55 L392.45 146.53 L393.27 146.5 L394.08 146.48 L394.89 146.45 L395.71 146.42 L396.52 146.39 L397.34 146.36 L398.15 146.33 L398.96 146.3 L399.78 146.26 L400.59 146.22 L401.41 146.17 L402.22 146.13 L403.04 146.07 L403.85 146.02 L404.66 145.95 L405.48 145.88 L406.29 145.79 L407.11 145.7 L407.92 145.59 L408.74 145.46 L409.55 145.31 L410.36 145.13 L411.18 144.93 L411.99 144.68 L412.81 144.39 L413.62 144.05 L414.44 143.64 L415.25 143.17 L416.06 142.6 L416.88 141.94 L417.69 141.17 L418.51 140.26 L419.32 139.22 L420.13 138.01 L420.95 136.62 L421.76 135.03 L422.58 133.23 L423.39 131.2 L424.21 128.92 L425.02 126.37 L425.83 123.55 L426.65 120.45 L427.46 117.06 L428.28 113.38 L429.09 109.41 L429.91 105.18 L430.72 100.68 L431.53 95.95 L432.35 91.02 L433.16 85.92 L433.98 80.69 L434.79 75.38 L435.61 70.06 L436.42 64.78 L437.23 59.62 L438.05 54.63 L438.86 49.9 L439.68 45.51 L440.49 41.52 L441.31 38.02 L442.12 35.08 L442.93 32.76 L443.75 31.1 L444.56 30.16 L445.38 29.95 L446.19 30.44 L447 31.62 L447.82 33.45 L448.63 35.9 L449.45 38.92 L450.26 42.44 L451.08 46.41 L451.89 50.75 L452.7 55.4 L453.52 60.28 L454.33 65.34 L455.15 70.49 L455.96 75.69 L456.78 80.87 L457.59 85.99 L458.4 91 L459.22 95.86 L460.03 100.52 L460.85 104.98 L461.66 109.2 L462.48 113.16 L463.29 116.86 L464.1 120.29 L464.92 123.45 L465.73 126.34 L466.55 128.97 L467.36 131.35 L468.17 133.48 L468.99 135.39 L469.8 137.08 L470.62 138.58 L471.43 139.89 L472.25 141.05 L473.06 142.05 L473.87 142.92 L474.69 143.68 L475.5 144.33 L476.32 144.89 L477.13 145.37 L477.95 145.78 L478.76 146.13 L479.57 146.43 L480.39 146.69 L481.2 146.91 L482.02 147.11 L482.83 147.27 L483.65 147.42 L484.46 147.54 L485.27 147.65 L486.09 147.75 L486.9 147.84 L487.72 147.92 L488.53 147.99 L489.34 148.06 L490.16 148.12 L490.97 148.17 L491.79 148.22 L492.6 148.27 L493.42 148.32 L494.23 148.36 L495.04 148.4 L495.86 148.44 L496.67 148.47 L497.49 148.51 L498.3 148.54 L499.12 148.57 L499.93 148.6 L500.74 148.63 L501.56 148.66 L502.37 148.69 L503.19 148.71 L504 148.73 L504.82 148.76 L505.63 148.78 L506.44 148.8 L507.26 148.82 L508.07 148.84 L508.89 148.86 L509.7 148.88 L510.52 148.9 L511.33 148.92 L512.14 148.93 L512.96 148.95 L513.77 148.96 L514.59 148.98 L515.4 148.99 L516.21 149.01 L517.03 149.02 L517.84 149.03 L518.66 149.05 L519.47 149.06 L520.29 149.07 L521.1 149.08 L521.91 149.09 L522.73 149.1 L523.54 149.11 L524.36 149.12 L525.17 149.13 L525.99 149.14 L526.8 149.15 L527.61 149.16 L528.43 149.17 L529.24 149.18 L530.06 149.18 L530.87 149.19 L531.69 149.2 L532.5 149.21 L533.31 149.21 L534.13 149.22 L534.94 149.23 L535.76 149.24" fill="none" stroke="#3a3ae6" stroke-width="1" stroke-linejoin="round" />
<g fill="none" stroke="#2a2a2a" stroke-width="0.8">
<circle cx="323.72" cy="147.63" r="1.6"/>
<circle cx="325.42" cy="147.59" r="1.6"/>
<circle cx="327.12" cy="146.43" r="1.6"/>
<circle cx="328.83" cy="148.27" r="1.6"/>
<circle cx="330.53" cy="146.9" r="1.6"/>
<circle cx="332.23" cy="148.21" r="1.6"/>
<circle cx="333.93" cy="146.08" r="1.6"/>
<circle cx="335.64" cy="146.62" r="1.6"/>
<circle cx="337.34" cy="145.87" r="1.6"/>
<circle cx="339.04" cy="147.02" r="1.6"/>
<circle cx="340.75" cy="146.42" r="1.6"/>
<circle cx="342.45" cy="146.82" r="1.6"/>
<circle cx="344.15" cy="147.08" r="1.6"/>
<circle cx="345.86" cy="146.49" r="1.6"/>
<circle cx="347.56" cy="147.33" r="1.6"/>
<circle cx="349.26" cy="146.73" r="1.6"/>
<circle cx="350.97" cy="146.02" r="1.6"/>
<circle cx="352.67" cy="146.38" r="1.6"/>
<circle cx="354.37" cy="146.62" r="1.6"/>
<circle cx="356.08" cy="144.92" r="1.6"/>
<circle cx="357.78" cy="146.2" r="1.6"/>
<circle cx="359.48" cy="146.53" r="1.6"/>
<circle cx="361.18" cy="145.97" r="1.6"/>
<circle cx="362.89" cy="146.3" r="1.6"/>
<circle cx="364.59" cy="146.1" r="1.6"/>
<circle cx="366.29" cy="145.94" r="1.6"/>
<circle cx="368" cy="144.28" r="1.6"/>
<circle cx="369.7" cy="145.35" r="1.6"/>
<circle cx="371.4" cy="145.03" r="1.6"/>
<circle cx="373.11" cy="144.45" r="1.6"/>
<circle cx="374.81" cy="143.29" r="1.6"/>
<circle cx="376.51" cy="144.34" r="1.6"/>
<circle cx="378.22" cy="144.17" r="1.6"/>
<circle cx="379.92" cy="141.74" r="1.6"/>
<circle cx="381.62" cy="143.66" r="1.6"/>
<circle cx="383.32" cy="142.35" r="1.6"/>
<circle cx="385.03" cy="140.99" r="1.6"/>
<circle cx="386.73" cy="139.18" r="1.6"/>
<circle cx="388.43" cy="140.34" r="1.6"/>
<circle cx="390.14" cy="140.31" r="1.6"/>
<circle cx="391.84" cy="137.33" r="1.6"/>
<circle cx="393.54" cy="136.97" r="1.6"/>
<circle cx="395.25" cy="135.7" r="1.6"/>
<circle cx="396.95" cy="133.94" r="1.6"/>
<circle cx="398.65" cy="132.81" r="1.6"/>
<circle cx="400.36" cy="131.45" r="1.6"/>
<circle cx="402.06" cy="130.57" r="1.6"/>
<circle cx="403.76" cy="128.14" r="1.6"/>
<circle cx="405.46" cy="126.66" r="1.6"/>
<circle cx="407.17" cy="126.24" r="1.6"/>
<circle cx="408.87" cy="125.19" r="1.6"/>
<circle cx="410.57" cy="123.07" r="1.6"/>
<circle cx="412.28" cy="121.78" r="1.6"/>
<circle cx="413.98" cy="121.18" r="1.6"/>
<circle cx="415.68" cy="119.05" r="1.6"/>
<circle cx="417.39" cy="116.05" r="1.6"/>
<circle cx="419.09" cy="114.29" r="1.6"/>
<circle cx="420.79" cy="111.43" r="1.6"/>
<circle cx="422.5" cy="107.41" r="1.6"/>
<circle cx="424.2" cy="103.12" r="1.6"/>
<circle cx="425.9" cy="97.83" r="1.6"/>
<circle cx="427.61" cy="92.9" r="1.6"/>
<circle cx="429.31" cy="83.64" r="1.6"/>
<circle cx="431.01" cy="76.95" r="1.6"/>
<circle cx="432.71" cy="69.44" r="1.6"/>
<circle cx="434.42" cy="59.82" r="1.6"/>
<circle cx="436.12" cy="51.86" r="1.6"/>
<circle cx="437.82" cy="44.1" r="1.6"/>
<circle cx="439.53" cy="36.38" r="1.6"/>
<circle cx="441.23" cy="29.85" r="1.6"/>
<circle cx="442.93" cy="26.87" r="1.6"/>
<circle cx="444.64" cy="24.21" r="1.6"/>
<circle cx="446.34" cy="24.11" r="1.6"/>
<circle cx="448.04" cy="29.16" r="1.6"/>
<circle cx="449.75" cy="34.65" r="1.6"/>
<circle cx="451.45" cy="41.93" r="1.6"/>
<circle cx="453.15" cy="53.29" r="1.6"/>
<circle cx="454.85" cy="63.23" r="1.6"/>
<circle cx="456.56" cy="73.54" r="1.6"/>
<circle cx="458.26" cy="84.87" r="1.6"/>
<circle cx="459.96" cy="95.76" r="1.6"/>
<circle cx="461.67" cy="107.01" r="1.6"/>
<circle cx="463.37" cy="112.91" r="1.6"/>
<circle cx="465.07" cy="121.38" r="1.6"/>
<circle cx="466.78" cy="127.35" r="1.6"/>
<circle cx="468.48" cy="132.46" r="1.6"/>
<circle cx="470.18" cy="137.74" r="1.6"/>
<circle cx="471.89" cy="140.56" r="1.6"/>
<circle cx="473.59" cy="142.69" r="1.6"/>
<circle cx="475.29" cy="142.39" r="1.6"/>
<circle cx="476.99" cy="145.33" r="1.6"/>
<circle cx="478.7" cy="145.85" r="1.6"/>
<circle cx="480.4" cy="146.49" r="1.6"/>
<circle cx="482.1" cy="146.43" r="1.6"/>
<circle cx="483.81" cy="146.82" r="1.6"/>
<circle cx="485.51" cy="147.22" r="1.6"/>
<circle cx="487.21" cy="148.39" r="1.6"/>
<circle cx="488.92" cy="149.73" r="1.6"/>
<circle cx="490.62" cy="147.79" r="1.6"/>
<circle cx="492.32" cy="147.84" r="1.6"/>
<circle cx="494.03" cy="147.33" r="1.6"/>
<circle cx="495.73" cy="148.26" r="1.6"/>
<circle cx="497.43" cy="148.66" r="1.6"/>
<circle cx="499.14" cy="148.09" r="1.6"/>
<circle cx="500.84" cy="149.4" r="1.6"/>
<circle cx="502.54" cy="149.14" r="1.6"/>
<circle cx="504.24" cy="149.17" r="1.6"/>
<circle cx="505.95" cy="148.41" r="1.6"/>
<circle cx="507.65" cy="147.33" r="1.6"/>
<circle cx="509.35" cy="148.21" r="1.6"/>
<circle cx="511.06" cy="148.01" r="1.6"/>
<circle cx="512.76" cy="148.62" r="1.6"/>
<circle cx="514.46" cy="148.63" r="1.6"/>
<circle cx="516.17" cy="149.12" r="1.6"/>
<circle cx="517.87" cy="149.05" r="1.6"/>
<circle cx="519.57" cy="150.43" r="1.6"/>
<circle cx="521.28" cy="149.69" r="1.6"/>
<circle cx="522.98" cy="149.77" r="1.6"/>
<circle cx="524.68" cy="148.45" r="1.6"/>
<circle cx="526.38" cy="148.59" r="1.6"/>
<circle cx="528.09" cy="148.31" r="1.6"/>
<circle cx="529.79" cy="148.07" r="1.6"/>
<circle cx="531.49" cy="149.26" r="1.6"/>
<circle cx="533.2" cy="148.42" r="1.6"/>
<circle cx="534.9" cy="147.87" r="1.6"/>
<circle cx="536.6" cy="149.13" r="1.6"/>
</g>
<path d="M323.21 146.89 L324.03 146.88 L324.85 146.87 L325.67 146.87 L326.49 146.86 L327.31 146.85 L328.13 146.84 L328.95 146.83 L329.77 146.82 L330.6 146.81 L331.42 146.8 L332.24 146.79 L333.06 146.78 L333.88 146.77 L334.7 146.76 L335.52 146.75 L336.34 146.74 L337.16 146.73 L337.98 146.71 L338.8 146.7 L339.62 146.69 L340.44 146.68 L341.26 146.66 L342.09 146.65 L342.91 146.63 L343.73 146.62 L344.55 146.6 L345.37 146.59 L346.19 146.57 L347.01 146.55 L347.83 146.54 L348.65 146.52 L349.47 146.5 L350.29 146.48 L351.11 146.46 L351.93 146.43 L352.76 146.41 L353.58 146.39 L354.4 146.36 L355.22 146.33 L356.04 146.3 L356.86 146.27 L357.68 146.24 L358.5 146.2 L359.32 146.17 L360.14 146.13 L360.96 146.08 L361.78 146.04 L362.6 145.99 L363.43 145.94 L364.25 145.88 L365.07 145.82 L365.89 145.75 L366.71 145.68 L367.53 145.6 L368.35 145.52 L369.17 145.42 L369.99 145.33 L370.81 145.22 L371.63 145.1 L372.45 144.98 L373.27 144.84 L374.09 144.7 L374.92 144.54 L375.74 144.37 L376.56 144.19 L377.38 144 L378.2 143.79 L379.02 143.56 L379.84 143.32 L380.66 143.07 L381.48 142.79 L382.3 142.5 L383.12 142.19 L383.94 141.87 L384.76 141.52 L385.59 141.16 L386.41 140.77 L387.23 140.37 L388.05 139.95 L388.87 139.5 L389.69 139.04 L390.51 138.56 L391.33 138.07 L392.15 137.55 L392.97 137.02 L393.79 136.47 L394.61 135.9 L395.43 135.33 L396.25 134.74 L397.08 134.13 L397.9 133.52 L398.72 132.9 L399.54 132.27 L400.36 131.63 L401.18 130.99 L402 130.34 L402.82 129.7 L403.64 129.05 L404.46 128.4 L405.28 127.75 L406.1 127.1 L406.92 126.45 L407.75 125.8 L408.57 125.15 L409.39 124.49 L410.21 123.83 L411.03 123.15 L411.85 122.46 L412.67 121.74 L413.49 120.99 L414.31 120.2 L415.13 119.36 L415.95 118.46 L416.77 117.49 L417.59 116.43 L418.42 115.27 L419.24 114 L420.06 112.6 L420.88 111.05 L421.7 109.35 L422.52 107.49 L423.34 105.44 L424.16 103.21 L424.98 100.78 L425.8 98.16 L426.62 95.33 L427.44 92.31 L428.26 89.09 L429.08 85.69 L429.91 82.12 L430.73 78.4 L431.55 74.55 L432.37 70.59 L433.19 66.55 L434.01 62.47 L434.83 58.39 L435.65 54.34 L436.47 50.36 L437.29 46.51 L438.11 42.83 L438.93 39.37 L439.75 36.18 L440.58 33.31 L441.4 30.79 L442.22 28.69 L443.04 27.03 L443.86 25.85 L444.68 25.18 L445.5 25.03 L446.32 25.45 L447.14 26.54 L447.96 28.31 L448.78 30.73 L449.6 33.75 L450.42 37.31 L451.25 41.35 L452.07 45.81 L452.89 50.61 L453.71 55.67 L454.53 60.93 L455.35 66.32 L456.17 71.77 L456.99 77.22 L457.81 82.61 L458.63 87.89 L459.45 93.02 L460.27 97.96 L461.09 102.67 L461.91 107.14 L462.74 111.33 L463.56 115.25 L464.38 118.88 L465.2 122.21 L466.02 125.26 L466.84 128.03 L467.66 130.53 L468.48 132.77 L469.3 134.77 L470.12 136.54 L470.94 138.1 L471.76 139.47 L472.58 140.67 L473.41 141.71 L474.23 142.61 L475.05 143.38 L475.87 144.05 L476.69 144.62 L477.51 145.11 L478.33 145.53 L479.15 145.88 L479.97 146.19 L480.79 146.45 L481.61 146.67 L482.43 146.87 L483.25 147.03 L484.08 147.18 L484.9 147.31 L485.72 147.42 L486.54 147.52 L487.36 147.61 L488.18 147.69 L489 147.76 L489.82 147.83 L490.64 147.89 L491.46 147.95 L492.28 148 L493.1 148.05 L493.92 148.1 L494.74 148.15 L495.57 148.19 L496.39 148.23 L497.21 148.27 L498.03 148.31 L498.85 148.34 L499.67 148.37 L500.49 148.41 L501.31 148.44 L502.13 148.47 L502.95 148.5 L503.77 148.52 L504.59 148.55 L505.41 148.58 L506.24 148.6 L507.06 148.62 L507.88 148.65 L508.7 148.67 L509.52 148.69 L510.34 148.71 L511.16 148.73 L511.98 148.75 L512.8 148.77 L513.62 148.79 L514.44 148.8 L515.26 148.82 L516.08 148.84 L516.91 148.85 L517.73 148.87 L518.55 148.88 L519.37 148.9 L520.19 148.91 L521.01 148.93 L521.83 148.94 L522.65 148.95 L523.47 148.96 L524.29 148.98 L525.11 148.99 L525.93 149 L526.75 149.01 L527.57 149.02 L528.4 149.03 L529.22 149.04 L530.04 149.05 L530.86 149.06 L531.68 149.07 L532.5 149.08 L533.32 149.09 L534.14 149.1 L534.96 149.1 L535.78 149.11 L536.6 149.12" fill="none" stroke="#111" stroke-width="1.05" stroke-linejoin="round" />
<text x="324.2" y="30.1" font-size="7.6" font-weight="bold" fill="#111" stroke="#111">O1s</text>
<text x="426.9" y="184.2" font-size="9.3" fill="#303030" stroke="#303030" text-anchor="middle">Binding energy, eV</text>
<text transform="translate(291.5 78.9) rotate(-90)" font-size="9.05" fill="#303030" stroke="#303030" text-anchor="middle">Intensity, a.u.</text>
<path d="M38.96 200.3 H258.7" fill="none" stroke="#555" stroke-width="1.15"/>
<path d="M258.7 199.8 V350.7" fill="none" stroke="#555" stroke-width="0.8999999999999999"/>
<path d="M38.96 200.3 V350.2 H258.7" fill="none" stroke="#262626" stroke-width="0.95"/>
<text x="56.94" y="361.3" font-size="7.9" fill="#303030" stroke="#303030" text-anchor="middle">140</text>
<text x="93.62" y="361.3" font-size="7.9" fill="#303030" stroke="#303030" text-anchor="middle">138</text>
<text x="130.3" y="361.3" font-size="7.9" fill="#303030" stroke="#303030" text-anchor="middle">136</text>
<text x="166.99" y="361.3" font-size="7.9" fill="#303030" stroke="#303030" text-anchor="middle">134</text>
<text x="203.67" y="361.3" font-size="7.9" fill="#303030" stroke="#303030" text-anchor="middle">132</text>
<text x="240.36" y="361.3" font-size="7.9" fill="#303030" stroke="#303030" text-anchor="middle">130</text>
<path d="M56.94 350.2v2.6M93.62 350.2v2.6M130.3 350.2v2.6M166.99 350.2v2.6M203.67 350.2v2.6M240.36 350.2v2.6M75.28 350.2v1.5M111.96 350.2v1.5M148.65 350.2v1.5M185.33 350.2v1.5M222.02 350.2v1.5M258.7 350.2v1.5" stroke="#262626" stroke-width="0.9" fill="none"/>
<text x="32.96" y="336.27" font-size="8.1" fill="#303030" stroke="#303030" text-anchor="end">0.6</text>
<text x="32.96" y="306.47" font-size="8.1" fill="#303030" stroke="#303030" text-anchor="end">0.7</text>
<text x="32.96" y="276.67" font-size="8.1" fill="#303030" stroke="#303030" text-anchor="end">0.8</text>
<text x="32.96" y="246.87" font-size="8.1" fill="#303030" stroke="#303030" text-anchor="end">0.9</text>
<text x="32.96" y="217.06" font-size="8.1" fill="#303030" stroke="#303030" text-anchor="end">1.0</text>
<path d="M38.96 334.2h-2.6M38.96 304.4h-2.6M38.96 274.59h-2.6M38.96 244.79h-2.6M38.96 214.99h-2.6M38.96 349.1h-1.5M38.96 319.3h-1.5M38.96 289.49h-1.5M38.96 259.69h-1.5M38.96 229.89h-1.5" stroke="#262626" stroke-width="0.9" fill="none"/>
<path d="M38.59 327.34 L39.43 327.34 L40.27 327.34 L41.11 327.34 L41.95 327.34 L42.79 327.34 L43.63 327.34 L44.47 327.34 L45.31 327.34 L46.15 327.34 L46.99 327.34 L47.83 327.34 L48.67 327.34 L49.51 327.34 L50.35 327.34 L51.19 327.34 L52.03 327.34 L52.86 327.34 L53.7 327.34 L54.54 327.34 L55.38 327.34 L56.22 327.34 L57.06 327.34 L57.9 327.34 L58.74 327.34 L59.58 327.34 L60.42 327.34 L61.26 327.34 L62.1 327.34 L62.94 327.34 L63.78 327.34 L64.62 327.34 L65.46 327.34 L66.3 327.34 L67.14 327.34 L67.98 327.34 L68.82 327.34 L69.66 327.34 L70.49 327.34 L71.33 327.34 L72.17 327.34 L73.01 327.34 L73.85 327.34 L74.69 327.34 L75.53 327.34 L76.37 327.34 L77.21 327.34 L78.05 327.34 L78.89 327.34 L79.73 327.34 L80.57 327.34 L81.41 327.34 L82.25 327.34 L83.09 327.34 L83.93 327.34 L84.77 327.34 L85.61 327.34 L86.45 327.34 L87.28 327.34 L88.12 327.34 L88.96 327.34 L89.8 327.34 L90.64 327.34 L91.48 327.34 L92.32 327.34 L93.16 327.34 L94 327.34 L94.84 327.34 L95.68 327.34 L96.52 327.34 L97.36 327.34 L98.2 327.35 L99.04 327.35 L99.88 327.35 L100.72 327.35 L101.56 327.35 L102.4 327.35 L103.24 327.35 L104.07 327.35 L104.91 327.35 L105.75 327.35 L106.59 327.35 L107.43 327.35 L108.27 327.35 L109.11 327.35 L109.95 327.35 L110.79 327.35 L111.63 327.35 L112.47 327.35 L113.31 327.35 L114.15 327.36 L114.99 327.36 L115.83 327.36 L116.67 327.36 L117.51 327.36 L118.35 327.36 L119.19 327.36 L120.03 327.37 L120.87 327.37 L121.7 327.37 L122.54 327.37 L123.38 327.37 L124.22 327.38 L125.06 327.38 L125.9 327.38 L126.74 327.39 L127.58 327.39 L128.42 327.4 L129.26 327.4 L130.1 327.4 L130.94 327.41 L131.78 327.42 L132.62 327.42 L133.46 327.43 L134.3 327.44 L135.14 327.44 L135.98 327.45 L136.82 327.46 L137.66 327.47 L138.49 327.48 L139.33 327.5 L140.17 327.51 L141.01 327.52 L141.85 327.54 L142.69 327.55 L143.53 327.57 L144.37 327.59 L145.21 327.61 L146.05 327.64 L146.89 327.66 L147.73 327.69 L148.57 327.72 L149.41 327.75 L150.25 327.78 L151.09 327.82 L151.93 327.85 L152.77 327.9 L153.61 327.94 L154.45 327.99 L155.29 328.04 L156.12 328.1 L156.96 328.15 L157.8 328.22 L158.64 328.29 L159.48 328.36 L160.32 328.43 L161.16 328.52 L162 328.6 L162.84 328.7 L163.68 328.79 L164.52 328.9 L165.36 329.01 L166.2 329.12 L167.04 329.24 L167.88 329.37 L168.72 329.5 L169.56 329.64 L170.4 329.78 L171.24 329.93 L172.08 330.08 L172.91 330.24 L173.75 330.4 L174.59 330.57 L175.43 330.74 L176.27 330.91 L177.11 331.09 L177.95 331.26 L178.79 331.44 L179.63 331.62 L180.47 331.8 L181.31 331.98 L182.15 332.16 L182.99 332.34 L183.83 332.51 L184.67 332.68 L185.51 332.85 L186.35 333.01 L187.19 333.17 L188.03 333.33 L188.87 333.48 L189.7 333.62 L190.54 333.76 L191.38 333.9 L192.22 334.03 L193.06 334.15 L193.9 334.27 L194.74 334.38 L195.58 334.49 L196.42 334.59 L197.26 334.68 L198.1 334.77 L198.94 334.85 L199.78 334.93 L200.62 335.01 L201.46 335.08 L202.3 335.14 L203.14 335.2 L203.98 335.26 L204.82 335.32 L205.66 335.36 L206.5 335.41 L207.33 335.45 L208.17 335.49 L209.01 335.53 L209.85 335.57 L210.69 335.6 L211.53 335.63 L212.37 335.65 L213.21 335.68 L214.05 335.7 L214.89 335.73 L215.73 335.75 L216.57 335.76 L217.41 335.78 L218.25 335.8 L219.09 335.81 L219.93 335.83 L220.77 335.84 L221.61 335.85 L222.45 335.86 L223.29 335.87 L224.12 335.88 L224.96 335.89 L225.8 335.9 L226.64 335.9 L227.48 335.91 L228.32 335.91 L229.16 335.92 L230 335.93 L230.84 335.93 L231.68 335.93 L232.52 335.94 L233.36 335.94 L234.2 335.95 L235.04 335.95 L235.88 335.95 L236.72 335.95 L237.56 335.96 L238.4 335.96 L239.24 335.96 L240.08 335.96 L240.92 335.96 L241.75 335.97 L242.59 335.97 L243.43 335.97 L244.27 335.97 L245.11 335.97 L245.95 335.97 L246.79 335.97 L247.63 335.97 L248.47 335.98 L249.31 335.98 L250.15 335.98 L250.99 335.98 L251.83 335.98 L252.67 335.98 L253.51 335.98 L254.35 335.98 L255.19 335.98 L256.03 335.98 L256.87 335.98" fill="none" stroke="#7a7a7a" stroke-width="1" stroke-linejoin="round" />
<path d="M38.59 327.14 L39.43 327.13 L40.27 327.13 L41.11 327.13 L41.95 327.13 L42.79 327.12 L43.63 327.12 L44.47 327.12 L45.31 327.11 L46.15 327.11 L46.99 327.11 L47.83 327.1 L48.67 327.1 L49.51 327.1 L50.35 327.1 L51.19 327.09 L52.03 327.09 L52.86 327.09 L53.7 327.08 L54.54 327.08 L55.38 327.07 L56.22 327.07 L57.06 327.07 L57.9 327.06 L58.74 327.06 L59.58 327.06 L60.42 327.05 L61.26 327.05 L62.1 327.04 L62.94 327.04 L63.78 327.03 L64.62 327.03 L65.46 327.03 L66.3 327.02 L67.14 327.02 L67.98 327.01 L68.82 327.01 L69.66 327 L70.49 326.99 L71.33 326.99 L72.17 326.98 L73.01 326.98 L73.85 326.97 L74.69 326.97 L75.53 326.96 L76.37 326.95 L77.21 326.95 L78.05 326.94 L78.89 326.93 L79.73 326.93 L80.57 326.92 L81.41 326.91 L82.25 326.91 L83.09 326.9 L83.93 326.89 L84.77 326.88 L85.61 326.87 L86.45 326.86 L87.28 326.86 L88.12 326.85 L88.96 326.84 L89.8 326.83 L90.64 326.82 L91.48 326.81 L92.32 326.8 L93.16 326.79 L94 326.78 L94.84 326.77 L95.68 326.75 L96.52 326.74 L97.36 326.73 L98.2 326.72 L99.04 326.7 L99.88 326.69 L100.72 326.68 L101.56 326.66 L102.4 326.65 L103.24 326.63 L104.07 326.62 L104.91 326.6 L105.75 326.59 L106.59 326.57 L107.43 326.55 L108.27 326.53 L109.11 326.51 L109.95 326.49 L110.79 326.47 L111.63 326.45 L112.47 326.43 L113.31 326.41 L114.15 326.38 L114.99 326.36 L115.83 326.33 L116.67 326.31 L117.51 326.28 L118.35 326.25 L119.19 326.22 L120.03 326.18 L120.87 326.15 L121.7 326.11 L122.54 326.07 L123.38 326.03 L124.22 325.98 L125.06 325.93 L125.9 325.87 L126.74 325.81 L127.58 325.74 L128.42 325.67 L129.26 325.58 L130.1 325.48 L130.94 325.37 L131.78 325.25 L132.62 325.11 L133.46 324.95 L134.3 324.77 L135.14 324.56 L135.98 324.32 L136.82 324.04 L137.66 323.72 L138.49 323.36 L139.33 322.95 L140.17 322.48 L141.01 321.95 L141.85 321.35 L142.69 320.66 L143.53 319.89 L144.37 319.02 L145.21 318.05 L146.05 316.96 L146.89 315.75 L147.73 314.41 L148.57 312.94 L149.41 311.31 L150.25 309.53 L151.09 307.59 L151.93 305.49 L152.77 303.22 L153.61 300.77 L154.45 298.16 L155.29 295.38 L156.12 292.43 L156.96 289.32 L157.8 286.07 L158.64 282.67 L159.48 279.15 L160.32 275.52 L161.16 271.81 L162 268.03 L162.84 264.21 L163.68 260.38 L164.52 256.56 L165.36 252.8 L166.2 249.12 L167.04 245.56 L167.88 242.15 L168.72 238.95 L169.56 235.97 L170.4 233.26 L171.24 230.86 L172.08 228.8 L172.91 227.11 L173.75 225.82 L174.59 224.95 L175.43 224.51 L176.27 224.52 L177.11 224.98 L177.95 225.88 L178.79 227.21 L179.63 228.95 L180.47 231.08 L181.31 233.57 L182.15 236.38 L182.99 239.48 L183.83 242.83 L184.67 246.4 L185.51 250.14 L186.35 254.02 L187.19 258 L188.03 262.05 L188.87 266.12 L189.7 270.19 L190.54 274.24 L191.38 278.22 L192.22 282.12 L193.06 285.92 L193.9 289.6 L194.74 293.14 L195.58 296.52 L196.42 299.74 L197.26 302.8 L198.1 305.68 L198.94 308.37 L199.78 310.89 L200.62 313.24 L201.46 315.4 L202.3 317.4 L203.14 319.23 L203.98 320.9 L204.82 322.42 L205.66 323.8 L206.5 325.05 L207.33 326.17 L208.17 327.17 L209.01 328.07 L209.85 328.87 L210.69 329.58 L211.53 330.21 L212.37 330.77 L213.21 331.26 L214.05 331.69 L214.89 332.07 L215.73 332.4 L216.57 332.7 L217.41 332.95 L218.25 333.18 L219.09 333.38 L219.93 333.56 L220.77 333.71 L221.61 333.85 L222.45 333.97 L223.29 334.08 L224.12 334.17 L224.96 334.26 L225.8 334.34 L226.64 334.41 L227.48 334.47 L228.32 334.53 L229.16 334.59 L230 334.64 L230.84 334.68 L231.68 334.73 L232.52 334.77 L233.36 334.8 L234.2 334.84 L235.04 334.87 L235.88 334.91 L236.72 334.94 L237.56 334.97 L238.4 334.99 L239.24 335.02 L240.08 335.05 L240.92 335.07 L241.75 335.09 L242.59 335.12 L243.43 335.14 L244.27 335.16 L245.11 335.18 L245.95 335.2 L246.79 335.22 L247.63 335.23 L248.47 335.25 L249.31 335.27 L250.15 335.28 L250.99 335.3 L251.83 335.31 L252.67 335.33 L253.51 335.34 L254.35 335.36 L255.19 335.37 L256.03 335.38 L256.87 335.39" fill="none" stroke="#3a3ae6" stroke-width="1" stroke-linejoin="round" />
<path d="M38.59 327.18 L39.43 327.18 L40.27 327.18 L41.11 327.17 L41.95 327.17 L42.79 327.17 L43.63 327.16 L44.47 327.16 L45.31 327.16 L46.15 327.16 L46.99 327.15 L47.83 327.15 L48.67 327.15 L49.51 327.14 L50.35 327.14 L51.19 327.14 L52.03 327.14 L52.86 327.13 L53.7 327.13 L54.54 327.12 L55.38 327.12 L56.22 327.12 L57.06 327.11 L57.9 327.11 L58.74 327.11 L59.58 327.1 L60.42 327.1 L61.26 327.09 L62.1 327.09 L62.94 327.08 L63.78 327.08 L64.62 327.08 L65.46 327.07 L66.3 327.07 L67.14 327.06 L67.98 327.05 L68.82 327.05 L69.66 327.04 L70.49 327.04 L71.33 327.03 L72.17 327.03 L73.01 327.02 L73.85 327.01 L74.69 327.01 L75.53 327 L76.37 326.99 L77.21 326.98 L78.05 326.98 L78.89 326.97 L79.73 326.96 L80.57 326.95 L81.41 326.94 L82.25 326.93 L83.09 326.92 L83.93 326.91 L84.77 326.9 L85.61 326.89 L86.45 326.88 L87.28 326.87 L88.12 326.86 L88.96 326.84 L89.8 326.83 L90.64 326.81 L91.48 326.8 L92.32 326.78 L93.16 326.76 L94 326.74 L94.84 326.72 L95.68 326.7 L96.52 326.67 L97.36 326.65 L98.2 326.62 L99.04 326.59 L99.88 326.55 L100.72 326.52 L101.56 326.48 L102.4 326.43 L103.24 326.39 L104.07 326.33 L104.91 326.28 L105.75 326.22 L106.59 326.15 L107.43 326.08 L108.27 326 L109.11 325.91 L109.95 325.81 L110.79 325.71 L111.63 325.6 L112.47 325.48 L113.31 325.34 L114.15 325.2 L114.99 325.05 L115.83 324.88 L116.67 324.7 L117.51 324.51 L118.35 324.3 L119.19 324.08 L120.03 323.85 L120.87 323.6 L121.7 323.33 L122.54 323.05 L123.38 322.75 L124.22 322.43 L125.06 322.1 L125.9 321.75 L126.74 321.38 L127.58 321 L128.42 320.61 L129.26 320.2 L130.1 319.77 L130.94 319.33 L131.78 318.88 L132.62 318.42 L133.46 317.95 L134.3 317.47 L135.14 316.98 L135.98 316.49 L136.82 315.99 L137.66 315.5 L138.49 315.01 L139.33 314.52 L140.17 314.04 L141.01 313.58 L141.85 313.12 L142.69 312.69 L143.53 312.27 L144.37 311.88 L145.21 311.51 L146.05 311.18 L146.89 310.88 L147.73 310.62 L148.57 310.4 L149.41 310.23 L150.25 310.1 L151.09 310.02 L151.93 309.99 L152.77 310.02 L153.61 310.09 L154.45 310.21 L155.29 310.39 L156.12 310.62 L156.96 310.89 L157.8 311.21 L158.64 311.57 L159.48 311.97 L160.32 312.41 L161.16 312.88 L162 313.39 L162.84 313.92 L163.68 314.47 L164.52 315.05 L165.36 315.64 L166.2 316.25 L167.04 316.87 L167.88 317.5 L168.72 318.13 L169.56 318.77 L170.4 319.41 L171.24 320.06 L172.08 320.69 L172.91 321.33 L173.75 321.96 L174.59 322.58 L175.43 323.19 L176.27 323.79 L177.11 324.38 L177.95 324.95 L178.79 325.52 L179.63 326.06 L180.47 326.59 L181.31 327.1 L182.15 327.59 L182.99 328.07 L183.83 328.52 L184.67 328.96 L185.51 329.38 L186.35 329.78 L187.19 330.16 L188.03 330.52 L188.87 330.86 L189.7 331.18 L190.54 331.49 L191.38 331.78 L192.22 332.05 L193.06 332.3 L193.9 332.54 L194.74 332.76 L195.58 332.97 L196.42 333.16 L197.26 333.34 L198.1 333.51 L198.94 333.67 L199.78 333.82 L200.62 333.95 L201.46 334.08 L202.3 334.19 L203.14 334.3 L203.98 334.4 L204.82 334.49 L205.66 334.58 L206.5 334.66 L207.33 334.73 L208.17 334.8 L209.01 334.86 L209.85 334.92 L210.69 334.98 L211.53 335.03 L212.37 335.08 L213.21 335.12 L214.05 335.16 L214.89 335.2 L215.73 335.23 L216.57 335.27 L217.41 335.3 L218.25 335.32 L219.09 335.35 L219.93 335.38 L220.77 335.4 L221.61 335.42 L222.45 335.44 L223.29 335.46 L224.12 335.48 L224.96 335.5 L225.8 335.51 L226.64 335.53 L227.48 335.54 L228.32 335.56 L229.16 335.57 L230 335.58 L230.84 335.59 L231.68 335.61 L232.52 335.62 L233.36 335.63 L234.2 335.64 L235.04 335.64 L235.88 335.65 L236.72 335.66 L237.56 335.67 L238.4 335.68 L239.24 335.68 L240.08 335.69 L240.92 335.7 L241.75 335.7 L242.59 335.71 L243.43 335.72 L244.27 335.72 L245.11 335.73 L245.95 335.73 L246.79 335.74 L247.63 335.74 L248.47 335.75 L249.31 335.75 L250.15 335.76 L250.99 335.76 L251.83 335.76 L252.67 335.77 L253.51 335.77 L254.35 335.78 L255.19 335.78 L256.03 335.78 L256.87 335.79" fill="none" stroke="#ff3a4a" stroke-width="1.05" stroke-linejoin="round" />
<g fill="none" stroke="#222" stroke-width="0.7">
<circle cx="40.43" cy="325.26" r="1.45"/>
<circle cx="42.26" cy="324.05" r="1.45"/>
<circle cx="44.1" cy="328.67" r="1.45"/>
<circle cx="45.93" cy="328.89" r="1.45"/>
<circle cx="47.76" cy="326.12" r="1.45"/>
<circle cx="49.6" cy="323.08" r="1.45"/>
<circle cx="51.43" cy="325.99" r="1.45"/>
<circle cx="53.27" cy="329.43" r="1.45"/>
<circle cx="55.1" cy="328.55" r="1.45"/>
<circle cx="56.94" cy="326.95" r="1.45"/>
<circle cx="58.77" cy="324.73" r="1.45"/>
<circle cx="60.6" cy="326.82" r="1.45"/>
<circle cx="62.44" cy="327.58" r="1.45"/>
<circle cx="64.27" cy="327.27" r="1.45"/>
<circle cx="66.11" cy="326.37" r="1.45"/>
<circle cx="67.94" cy="328.36" r="1.45"/>
<circle cx="69.77" cy="326.7" r="1.45"/>
<circle cx="71.61" cy="326.1" r="1.45"/>
<circle cx="73.44" cy="323.07" r="1.45"/>
<circle cx="75.28" cy="326.76" r="1.45"/>
<circle cx="77.11" cy="324.49" r="1.45"/>
<circle cx="78.95" cy="328.84" r="1.45"/>
<circle cx="80.78" cy="324.67" r="1.45"/>
<circle cx="82.61" cy="326.17" r="1.45"/>
<circle cx="84.45" cy="327.67" r="1.45"/>
<circle cx="86.28" cy="326.5" r="1.45"/>
<circle cx="88.12" cy="324.44" r="1.45"/>
<circle cx="89.95" cy="327.07" r="1.45"/>
<circle cx="91.79" cy="324.07" r="1.45"/>
<circle cx="93.62" cy="322.93" r="1.45"/>
<circle cx="95.45" cy="322.65" r="1.45"/>
<circle cx="97.29" cy="322.59" r="1.45"/>
<circle cx="99.12" cy="328.84" r="1.45"/>
<circle cx="100.96" cy="325.22" r="1.45"/>
<circle cx="102.79" cy="327.36" r="1.45"/>
<circle cx="104.63" cy="323.67" r="1.45"/>
<circle cx="106.46" cy="325.44" r="1.45"/>
<circle cx="108.29" cy="324.95" r="1.45"/>
<circle cx="110.13" cy="324.23" r="1.45"/>
<circle cx="111.96" cy="326.31" r="1.45"/>
<circle cx="113.8" cy="324.54" r="1.45"/>
<circle cx="115.63" cy="326.01" r="1.45"/>
<circle cx="117.46" cy="319.5" r="1.45"/>
<circle cx="119.3" cy="324.65" r="1.45"/>
<circle cx="121.13" cy="323.13" r="1.45"/>
<circle cx="122.97" cy="326.48" r="1.45"/>
<circle cx="124.8" cy="325.22" r="1.45"/>
<circle cx="126.64" cy="323.11" r="1.45"/>
<circle cx="128.47" cy="318.73" r="1.45"/>
<circle cx="130.3" cy="317.88" r="1.45"/>
<circle cx="132.14" cy="317.95" r="1.45"/>
<circle cx="133.97" cy="318.83" r="1.45"/>
<circle cx="135.81" cy="312.08" r="1.45"/>
<circle cx="137.64" cy="316.93" r="1.45"/>
<circle cx="139.48" cy="314.88" r="1.45"/>
<circle cx="141.31" cy="310.01" r="1.45"/>
<circle cx="143.14" cy="311.03" r="1.45"/>
<circle cx="144.98" cy="305.67" r="1.45"/>
<circle cx="146.81" cy="301.1" r="1.45"/>
<circle cx="148.65" cy="299.86" r="1.45"/>
<circle cx="150.48" cy="294.75" r="1.45"/>
<circle cx="152.32" cy="290.89" r="1.45"/>
<circle cx="154.15" cy="287.15" r="1.45"/>
<circle cx="155.98" cy="286.69" r="1.45"/>
<circle cx="157.82" cy="275.85" r="1.45"/>
<circle cx="159.65" cy="266.13" r="1.45"/>
<circle cx="161.49" cy="262.28" r="1.45"/>
<circle cx="163.32" cy="252.29" r="1.45"/>
<circle cx="165.15" cy="243.06" r="1.45"/>
<circle cx="166.99" cy="233.45" r="1.45"/>
<circle cx="168.82" cy="233" r="1.45"/>
<circle cx="170.66" cy="225.91" r="1.45"/>
<circle cx="172.49" cy="220.48" r="1.45"/>
<circle cx="174.33" cy="217.84" r="1.45"/>
<circle cx="176.16" cy="222.07" r="1.45"/>
<circle cx="177.99" cy="217.05" r="1.45"/>
<circle cx="179.83" cy="227.03" r="1.45"/>
<circle cx="181.66" cy="228.68" r="1.45"/>
<circle cx="183.5" cy="238.77" r="1.45"/>
<circle cx="185.33" cy="245.73" r="1.45"/>
<circle cx="187.17" cy="251.88" r="1.45"/>
<circle cx="189" cy="263.19" r="1.45"/>
<circle cx="190.83" cy="273.58" r="1.45"/>
<circle cx="192.67" cy="284.85" r="1.45"/>
<circle cx="194.5" cy="292.27" r="1.45"/>
<circle cx="196.34" cy="301.42" r="1.45"/>
<circle cx="198.17" cy="300.44" r="1.45"/>
<circle cx="200" cy="314.06" r="1.45"/>
<circle cx="201.84" cy="321.2" r="1.45"/>
<circle cx="203.67" cy="315.95" r="1.45"/>
<circle cx="205.51" cy="320.08" r="1.45"/>
<circle cx="207.34" cy="326.35" r="1.45"/>
<circle cx="209.18" cy="325.81" r="1.45"/>
<circle cx="211.01" cy="331.11" r="1.45"/>
<circle cx="212.84" cy="331.82" r="1.45"/>
<circle cx="214.68" cy="330.39" r="1.45"/>
<circle cx="216.51" cy="331.36" r="1.45"/>
<circle cx="218.35" cy="333.79" r="1.45"/>
<circle cx="220.18" cy="329.6" r="1.45"/>
<circle cx="222.02" cy="331.88" r="1.45"/>
<circle cx="223.85" cy="333.46" r="1.45"/>
<circle cx="225.68" cy="336.58" r="1.45"/>
<circle cx="227.52" cy="333.82" r="1.45"/>
<circle cx="229.35" cy="334.96" r="1.45"/>
<circle cx="231.19" cy="334.54" r="1.45"/>
<circle cx="233.02" cy="332.7" r="1.45"/>
<circle cx="234.86" cy="335.83" r="1.45"/>
<circle cx="236.69" cy="334.05" r="1.45"/>
<circle cx="238.52" cy="332.95" r="1.45"/>
<circle cx="240.36" cy="333.99" r="1.45"/>
<circle cx="242.19" cy="329.75" r="1.45"/>
<circle cx="244.03" cy="338.75" r="1.45"/>
<circle cx="245.86" cy="335.08" r="1.45"/>
<circle cx="247.69" cy="337.61" r="1.45"/>
<circle cx="249.53" cy="335.18" r="1.45"/>
<circle cx="251.36" cy="329.5" r="1.45"/>
<circle cx="253.2" cy="338.74" r="1.45"/>
<circle cx="255.03" cy="335.79" r="1.45"/>
<circle cx="256.87" cy="333.73" r="1.45"/>
</g>
<path d="M38.59 327.01 L39.43 327.01 L40.27 327 L41.11 327 L41.95 327 L42.79 326.99 L43.63 326.99 L44.47 326.98 L45.31 326.98 L46.15 326.97 L46.99 326.97 L47.83 326.96 L48.67 326.96 L49.51 326.95 L50.35 326.94 L51.19 326.94 L52.03 326.93 L52.86 326.93 L53.7 326.92 L54.54 326.92 L55.38 326.91 L56.22 326.9 L57.06 326.9 L57.9 326.89 L58.74 326.88 L59.58 326.88 L60.42 326.87 L61.26 326.86 L62.1 326.85 L62.94 326.85 L63.78 326.84 L64.62 326.83 L65.46 326.82 L66.3 326.81 L67.14 326.8 L67.98 326.79 L68.82 326.79 L69.66 326.78 L70.49 326.77 L71.33 326.76 L72.17 326.75 L73.01 326.74 L73.85 326.72 L74.69 326.71 L75.53 326.7 L76.37 326.69 L77.21 326.68 L78.05 326.67 L78.89 326.65 L79.73 326.64 L80.57 326.63 L81.41 326.61 L82.25 326.6 L83.09 326.58 L83.93 326.57 L84.77 326.55 L85.61 326.54 L86.45 326.52 L87.28 326.5 L88.12 326.48 L88.96 326.46 L89.8 326.44 L90.64 326.42 L91.48 326.4 L92.32 326.37 L93.16 326.35 L94 326.32 L94.84 326.3 L95.68 326.27 L96.52 326.24 L97.36 326.21 L98.2 326.17 L99.04 326.14 L99.88 326.1 L100.72 326.06 L101.56 326.01 L102.4 325.96 L103.24 325.91 L104.07 325.86 L104.91 325.8 L105.75 325.74 L106.59 325.67 L107.43 325.6 L108.27 325.52 L109.11 325.43 L109.95 325.34 L110.79 325.24 L111.63 325.14 L112.47 325.02 L113.31 324.9 L114.15 324.77 L114.99 324.63 L115.83 324.48 L116.67 324.31 L117.51 324.14 L118.35 323.95 L119.19 323.76 L120.03 323.54 L120.87 323.32 L121.7 323.08 L122.54 322.83 L123.38 322.56 L124.22 322.27 L125.06 321.97 L125.9 321.65 L126.74 321.31 L127.58 320.95 L128.42 320.58 L129.26 320.18 L130.1 319.76 L130.94 319.32 L131.78 318.85 L132.62 318.36 L133.46 317.84 L134.3 317.29 L135.14 316.71 L135.98 316.09 L136.82 315.44 L137.66 314.75 L138.49 314.01 L139.33 313.22 L140.17 312.39 L141.01 311.49 L141.85 310.53 L142.69 309.51 L143.53 308.41 L144.37 307.24 L145.21 305.97 L146.05 304.62 L146.89 303.17 L147.73 301.62 L148.57 299.95 L149.41 298.17 L150.25 296.27 L151.09 294.25 L151.93 292.09 L152.77 289.81 L153.61 287.39 L154.45 284.83 L155.29 282.14 L156.12 279.32 L156.96 276.37 L157.8 273.31 L158.64 270.13 L159.48 266.86 L160.32 263.51 L161.16 260.08 L162 256.62 L162.84 253.13 L163.68 249.64 L164.52 246.18 L165.36 242.77 L166.2 239.46 L167.04 236.28 L167.88 233.25 L168.72 230.42 L169.56 227.82 L170.4 225.49 L171.24 223.46 L172.08 221.76 L172.91 220.43 L173.75 219.49 L174.59 218.96 L175.43 218.85 L176.27 219.18 L177.11 219.95 L177.95 221.15 L178.79 222.77 L179.63 224.78 L180.47 227.17 L181.31 229.91 L182.15 232.95 L182.99 236.28 L183.83 239.84 L184.67 243.61 L185.51 247.54 L186.35 251.6 L187.19 255.74 L188.03 259.94 L188.87 264.16 L189.7 268.36 L190.54 272.53 L191.38 276.63 L192.22 280.64 L193.06 284.53 L193.9 288.3 L194.74 291.92 L195.58 295.38 L196.42 298.68 L197.26 301.79 L198.1 304.73 L198.94 307.49 L199.78 310.06 L200.62 312.44 L201.46 314.65 L202.3 316.69 L203.14 318.55 L203.98 320.26 L204.82 321.81 L205.66 323.21 L206.5 324.48 L207.33 325.63 L208.17 326.65 L209.01 327.57 L209.85 328.39 L210.69 329.11 L211.53 329.76 L212.37 330.33 L213.21 330.84 L214.05 331.28 L214.89 331.67 L215.73 332.02 L216.57 332.32 L217.41 332.59 L218.25 332.83 L219.09 333.04 L219.93 333.22 L220.77 333.38 L221.61 333.53 L222.45 333.66 L223.29 333.77 L224.12 333.87 L224.96 333.97 L225.8 334.05 L226.64 334.13 L227.48 334.2 L228.32 334.26 L229.16 334.32 L230 334.38 L230.84 334.43 L231.68 334.48 L232.52 334.52 L233.36 334.57 L234.2 334.61 L235.04 334.65 L235.88 334.68 L236.72 334.72 L237.56 334.75 L238.4 334.78 L239.24 334.81 L240.08 334.84 L240.92 334.87 L241.75 334.9 L242.59 334.92 L243.43 334.95 L244.27 334.97 L245.11 334.99 L245.95 335.02 L246.79 335.04 L247.63 335.06 L248.47 335.08 L249.31 335.1 L250.15 335.12 L250.99 335.14 L251.83 335.15 L252.67 335.17 L253.51 335.19 L254.35 335.2 L255.19 335.22 L256.03 335.23 L256.87 335.25" fill="none" stroke="#111" stroke-width="1.1" stroke-linejoin="round" />
<text x="47.2" y="220.7" font-size="7.2" font-weight="bold" fill="#111" stroke="#111">P2p</text>
<text x="147.5" y="375.4" font-size="9.3" fill="#303030" stroke="#303030" text-anchor="middle">Binding energy, eV</text>
<text transform="translate(13.8 274.4) rotate(-90)" font-size="9.05" fill="#303030" stroke="#303030" text-anchor="middle">Intensity, a.u.</text>
<text x="269.9" y="394.4" font-size="12" letter-spacing="0.75" fill="#111" stroke="#111">(<tspan font-weight="bold">a</tspan>)</text>
<rect x="52" y="545.3" width="203.65" height="6.5" fill="#fdf1fb"/>
<path d="M51 415.3 H259.2" fill="none" stroke="#4a4a4a" stroke-width="1.15"/>
<path d="M259.2 414.8 V556.4" fill="none" stroke="#4a4a4a" stroke-width="0.8999999999999999"/>
<path d="M51 415.3 V555.9 H259.2" fill="none" stroke="#2a2a2a" stroke-width="0.95"/>
<text x="75.24" y="566.9" font-size="7.5" fill="#3c3c3c" stroke="#3c3c3c" text-anchor="middle">920</text>
<text x="116.06" y="566.9" font-size="7.5" fill="#3c3c3c" stroke="#3c3c3c" text-anchor="middle">910</text>
<text x="156.88" y="566.9" font-size="7.5" fill="#3c3c3c" stroke="#3c3c3c" text-anchor="middle">900</text>
<text x="197.69" y="566.9" font-size="7.5" fill="#3c3c3c" stroke="#3c3c3c" text-anchor="middle">890</text>
<text x="238.51" y="566.9" font-size="7.5" fill="#3c3c3c" stroke="#3c3c3c" text-anchor="middle">880</text>
<path d="M75.24 555.9v2.6M116.06 555.9v2.6M156.88 555.9v2.6M197.69 555.9v2.6M238.51 555.9v2.6M54.84 555.9v1.5M95.65 555.9v1.5M136.47 555.9v1.5M177.28 555.9v1.5M218.1 555.9v1.5M258.91 555.9v1.5" stroke="#2a2a2a" stroke-width="0.9" fill="none"/>
<text x="46.1" y="547.85" font-size="7.7" fill="#3c3c3c" stroke="#3c3c3c" text-anchor="end">0,0</text>
<text x="46.1" y="526.18" font-size="7.7" fill="#3c3c3c" stroke="#3c3c3c" text-anchor="end">0,1</text>
<text x="46.1" y="504.51" font-size="7.7" fill="#3c3c3c" stroke="#3c3c3c" text-anchor="end">0,2</text>
<text x="46.1" y="482.84" font-size="7.7" fill="#3c3c3c" stroke="#3c3c3c" text-anchor="end">0,3</text>
<text x="46.1" y="461.18" font-size="7.7" fill="#3c3c3c" stroke="#3c3c3c" text-anchor="end">0,4</text>
<text x="46.1" y="439.51" font-size="7.7" fill="#3c3c3c" stroke="#3c3c3c" text-anchor="end">0,5</text>
<text x="46.1" y="417.84" font-size="7.7" fill="#3c3c3c" stroke="#3c3c3c" text-anchor="end">0,6</text>
<path d="M51 545.3h-2.6M51 523.64h-2.6M51 501.97h-2.6M51 480.3h-2.6M51 458.63h-2.6M51 436.97h-2.6M51 415.3h-2.6M51 534.47h-1.5M51 512.8h-1.5M51 491.14h-1.5M51 469.47h-1.5M51 447.8h-1.5M51 426.13h-1.5" stroke="#2a2a2a" stroke-width="0.9" fill="none"/>
<path d="M50.76 545.3H255.65" stroke="#a068f5" stroke-width="1.1"/>
<path d="M107.9 545.11 L108.24 545.1 L108.59 545.1 L108.93 545.1 L109.28 545.09 L109.62 545.09 L109.97 545.09 L110.31 545.08 L110.66 545.08 L111.01 545.08 L111.35 545.07 L111.7 545.07 L112.04 545.07 L112.39 545.06 L112.73 545.06 L113.08 545.06 L113.42 545.05 L113.77 545.05 L114.11 545.04 L114.46 545.04 L114.8 545.03 L115.15 545.03 L115.49 545.02 L115.84 545.02 L116.19 545.01 L116.53 545.01 L116.88 545 L117.22 545 L117.57 544.99 L117.91 544.99 L118.26 544.98 L118.6 544.97 L118.95 544.97 L119.29 544.96 L119.64 544.95 L119.98 544.95 L120.33 544.94 L120.68 544.93 L121.02 544.93 L121.37 544.92 L121.71 544.91 L122.06 544.9 L122.4 544.89 L122.75 544.88 L123.09 544.87 L123.44 544.87 L123.78 544.86 L124.13 544.85 L124.47 544.84 L124.82 544.82 L125.16 544.81 L125.51 544.8 L125.86 544.79 L126.2 544.78 L126.55 544.77 L126.89 544.75 L127.24 544.74 L127.58 544.72 L127.93 544.71 L128.27 544.69 L128.62 544.68 L128.96 544.66 L129.31 544.65 L129.65 544.63 L130 544.61 L130.35 544.59 L130.69 544.57 L131.04 544.55 L131.38 544.53 L131.73 544.5 L132.07 544.48 L132.42 544.46 L132.76 544.43 L133.11 544.4 L133.45 544.37 L133.8 544.35 L134.14 544.31 L134.49 544.28 L134.84 544.25 L135.18 544.21 L135.53 544.17 L135.87 544.13 L136.22 544.09 L136.56 544.04 L136.91 544 L137.25 543.95 L137.6 543.89 L137.94 543.83 L138.29 543.77 L138.63 543.7 L138.98 543.62 L139.32 543.54 L139.67 543.45 L140.02 543.35 L140.36 543.24 L140.71 543.12 L141.05 542.98 L141.4 542.82 L141.74 542.64 L142.09 542.44 L142.43 542.21 L142.78 541.95 L143.12 541.66 L143.47 541.32 L143.81 540.94 L144.16 540.5 L144.51 540.01 L144.85 539.45 L145.2 538.83 L145.54 538.13 L145.89 537.35 L146.23 536.48 L146.58 535.52 L146.92 534.47 L147.27 533.32 L147.61 532.07 L147.96 530.73 L148.3 529.28 L148.65 527.75 L148.99 526.13 L149.34 524.42 L149.69 522.66 L150.03 520.83 L150.38 518.97 L150.72 517.09 L151.07 515.22 L151.41 513.37 L151.76 511.59 L152.1 509.9 L152.45 508.35 L152.79 506.96 L153.14 505.78 L153.48 504.83 L153.83 504.16 L154.18 503.79 L154.52 503.71 L154.87 503.95 L155.21 504.49 L155.56 505.32 L155.9 506.39 L156.25 507.69 L156.59 509.18 L156.94 510.81 L157.28 512.55 L157.63 514.37 L157.97 516.24 L158.32 518.12 L158.67 519.99 L159.01 521.83 L159.36 523.63 L159.7 525.36 L160.05 527.02 L160.39 528.6 L160.74 530.08 L161.08 531.47 L161.43 532.77 L161.77 533.96 L162.12 535.06 L162.46 536.06 L162.81 536.96 L163.15 537.78 L163.5 538.52 L163.85 539.18 L164.19 539.77 L164.54 540.29 L164.88 540.75 L165.23 541.15 L165.57 541.51 L165.92 541.82 L166.26 542.1 L166.61 542.34 L166.95 542.55 L167.3 542.74 L167.64 542.91 L167.99 543.06 L168.34 543.19 L168.68 543.3 L169.03 543.41 L169.37 543.5 L169.72 543.59 L170.06 543.67 L170.41 543.74 L170.75 543.8 L171.1 543.86 L171.44 543.92 L171.79 543.97 L172.13 544.02 L172.48 544.07 L172.82 544.11 L173.17 544.15 L173.52 544.19 L173.86 544.23 L174.21 544.27 L174.55 544.3 L174.9 544.33 L175.24 544.36 L175.59 544.39 L175.93 544.42 L176.28 544.44 L176.62 544.47 L176.97 544.49 L177.31 544.52 L177.66 544.54 L178.01 544.56 L178.35 544.58 L178.7 544.6 L179.04 544.62 L179.39 544.64 L179.73 544.65 L180.08 544.67 L180.42 544.69 L180.77 544.7 L181.11 544.72 L181.46 544.73 L181.8 544.75 L182.15 544.76 L182.5 544.77 L182.84 544.78 L183.19 544.8 L183.53 544.81 L183.88 544.82 L184.22 544.83 L184.57 544.84 L184.91 544.85 L185.26 544.86 L185.6 544.87 L185.95 544.88 L186.29 544.89 L186.64 544.9 L186.98 544.91 L187.33 544.91 L187.68 544.92 L188.02 544.93 L188.37 544.94 L188.71 544.94 L189.06 544.95 L189.4 544.96 L189.75 544.96 L190.09 544.97 L190.44 544.98 L190.78 544.98 L191.13 544.99 L191.47 544.99 L191.82 545 L192.17 545.01 L192.51 545.01 L192.86 545.02 L193.2 545.02 L193.55 545.03 L193.89 545.03 L194.24 545.04 L194.58 545.04 L194.93 545.04 L195.27 545.05 L195.62 545.05 L195.96 545.06 L196.31 545.06 L196.65 545.07 L197 545.07 L197.35 545.07 L197.69 545.08" fill="none" stroke="#b98a5a" stroke-width="1" stroke-linejoin="round" />
<path d="M181.36 545.04 L181.65 545.03 L181.94 545.03 L182.22 545.03 L182.51 545.02 L182.79 545.02 L183.08 545.01 L183.36 545.01 L183.65 545.01 L183.94 545 L184.22 545 L184.51 545 L184.79 544.99 L185.08 544.99 L185.36 544.98 L185.65 544.98 L185.94 544.98 L186.22 544.97 L186.51 544.97 L186.79 544.96 L187.08 544.96 L187.36 544.95 L187.65 544.95 L187.94 544.94 L188.22 544.94 L188.51 544.93 L188.79 544.93 L189.08 544.92 L189.36 544.92 L189.65 544.91 L189.94 544.9 L190.22 544.9 L190.51 544.89 L190.79 544.89 L191.08 544.88 L191.36 544.87 L191.65 544.87 L191.94 544.86 L192.22 544.85 L192.51 544.85 L192.79 544.84 L193.08 544.83 L193.36 544.82 L193.65 544.82 L193.94 544.81 L194.22 544.8 L194.51 544.79 L194.79 544.78 L195.08 544.77 L195.36 544.76 L195.65 544.76 L195.94 544.75 L196.22 544.74 L196.51 544.73 L196.79 544.72 L197.08 544.71 L197.36 544.69 L197.65 544.68 L197.94 544.67 L198.22 544.66 L198.51 544.65 L198.79 544.64 L199.08 544.62 L199.36 544.61 L199.65 544.6 L199.94 544.58 L200.22 544.57 L200.51 544.55 L200.79 544.54 L201.08 544.52 L201.36 544.51 L201.65 544.49 L201.94 544.47 L202.22 544.46 L202.51 544.44 L202.79 544.42 L203.08 544.4 L203.36 544.38 L203.65 544.36 L203.94 544.34 L204.22 544.32 L204.51 544.29 L204.79 544.27 L205.08 544.25 L205.36 544.22 L205.65 544.19 L205.94 544.17 L206.22 544.14 L206.51 544.11 L206.79 544.08 L207.08 544.05 L207.36 544.01 L207.65 543.98 L207.94 543.95 L208.22 543.91 L208.51 543.87 L208.79 543.83 L209.08 543.79 L209.36 543.75 L209.65 543.7 L209.94 543.65 L210.22 543.61 L210.51 543.55 L210.79 543.5 L211.08 543.44 L211.36 543.38 L211.65 543.32 L211.94 543.25 L212.22 543.18 L212.51 543.11 L212.79 543.03 L213.08 542.94 L213.36 542.85 L213.65 542.75 L213.94 542.64 L214.22 542.52 L214.51 542.4 L214.79 542.26 L215.08 542.1 L215.36 541.93 L215.65 541.75 L215.94 541.54 L216.22 541.31 L216.51 541.05 L216.79 540.76 L217.08 540.44 L217.36 540.09 L217.65 539.68 L217.94 539.24 L218.22 538.74 L218.51 538.18 L218.79 537.56 L219.08 536.87 L219.36 536.11 L219.65 535.26 L219.94 534.33 L220.22 533.31 L220.51 532.19 L220.79 530.97 L221.08 529.65 L221.36 528.21 L221.65 526.67 L221.94 525.02 L222.22 523.26 L222.51 521.38 L222.79 519.41 L223.08 517.33 L223.36 515.16 L223.65 512.91 L223.94 510.59 L224.22 508.21 L224.51 505.79 L224.79 503.34 L225.08 500.89 L225.36 498.47 L225.65 496.1 L225.94 493.81 L226.22 491.64 L226.51 489.61 L226.79 487.78 L227.08 486.16 L227.36 484.8 L227.65 483.73 L227.94 482.98 L228.22 482.56 L228.51 482.48 L228.79 482.76 L229.08 483.37 L229.36 484.31 L229.65 485.55 L229.94 487.06 L230.22 488.8 L230.51 490.75 L230.79 492.86 L231.08 495.11 L231.36 497.45 L231.65 499.85 L231.94 502.29 L232.22 504.74 L232.51 507.17 L232.79 509.57 L233.08 511.92 L233.36 514.21 L233.65 516.41 L233.94 518.53 L234.22 520.55 L234.51 522.47 L234.79 524.28 L235.08 525.98 L235.36 527.57 L235.65 529.04 L235.94 530.42 L236.22 531.68 L236.51 532.84 L236.79 533.9 L237.08 534.87 L237.36 535.75 L237.65 536.55 L237.94 537.27 L238.22 537.92 L238.51 538.51 L238.79 539.03 L239.08 539.5 L239.36 539.92 L239.65 540.29 L239.94 540.63 L240.22 540.93 L240.51 541.2 L240.79 541.44 L241.08 541.66 L241.36 541.86 L241.65 542.03 L241.94 542.19 L242.22 542.34 L242.51 542.47 L242.79 542.59 L243.08 542.7 L243.36 542.81 L243.65 542.9 L243.93 542.99 L244.22 543.07 L244.51 543.15 L244.79 543.22 L245.08 543.29 L245.36 543.36 L245.65 543.42 L245.93 543.48 L246.22 543.53 L246.51 543.58 L246.79 543.63 L247.08 543.68 L247.36 543.73 L247.65 543.77 L247.93 543.81 L248.22 543.85 L248.51 543.89 L248.79 543.93 L249.08 543.97 L249.36 544 L249.65 544.03 L249.93 544.07 L250.22 544.1 L250.51 544.13 L250.79 544.15 L251.08 544.18 L251.36 544.21 L251.65 544.23 L251.93 544.26 L252.22 544.28 L252.51 544.31 L252.79 544.33 L253.08 544.35 L253.36 544.37 L253.65 544.39 L253.93 544.41 L254.22 544.43 L254.51 544.45 L254.79 544.47 L255.08 544.48 L255.36 544.5 L255.65 544.52" fill="none" stroke="#b98a5a" stroke-width="1" stroke-linejoin="round" />
<path d="M75.24 544.97 L75.72 544.96 L76.19 544.96 L76.66 544.95 L77.13 544.95 L77.6 544.94 L78.07 544.94 L78.54 544.93 L79.01 544.93 L79.48 544.92 L79.95 544.92 L80.42 544.91 L80.9 544.9 L81.37 544.9 L81.84 544.89 L82.31 544.88 L82.78 544.88 L83.25 544.87 L83.72 544.86 L84.19 544.85 L84.66 544.85 L85.13 544.84 L85.61 544.83 L86.08 544.82 L86.55 544.81 L87.02 544.81 L87.49 544.8 L87.96 544.79 L88.43 544.78 L88.9 544.77 L89.37 544.76 L89.84 544.75 L90.31 544.74 L90.79 544.73 L91.26 544.72 L91.73 544.7 L92.2 544.69 L92.67 544.68 L93.14 544.67 L93.61 544.66 L94.08 544.64 L94.55 544.63 L95.02 544.62 L95.5 544.6 L95.97 544.59 L96.44 544.57 L96.91 544.55 L97.38 544.54 L97.85 544.52 L98.32 544.5 L98.79 544.49 L99.26 544.47 L99.73 544.45 L100.2 544.43 L100.68 544.41 L101.15 544.39 L101.62 544.36 L102.09 544.34 L102.56 544.32 L103.03 544.29 L103.5 544.26 L103.97 544.24 L104.44 544.21 L104.91 544.18 L105.39 544.14 L105.86 544.11 L106.33 544.07 L106.8 544.03 L107.27 543.99 L107.74 543.95 L108.21 543.9 L108.68 543.85 L109.15 543.79 L109.62 543.73 L110.09 543.67 L110.57 543.59 L111.04 543.51 L111.51 543.42 L111.98 543.32 L112.45 543.21 L112.92 543.08 L113.39 542.94 L113.86 542.79 L114.33 542.61 L114.8 542.42 L115.28 542.2 L115.75 541.95 L116.22 541.67 L116.69 541.36 L117.16 541.02 L117.63 540.63 L118.1 540.19 L118.57 539.71 L119.04 539.17 L119.51 538.58 L119.98 537.92 L120.46 537.19 L120.93 536.39 L121.4 535.52 L121.87 534.56 L122.34 533.52 L122.81 532.38 L123.28 531.15 L123.75 529.83 L124.22 528.4 L124.69 526.88 L125.16 525.25 L125.64 523.52 L126.11 521.69 L126.58 519.76 L127.05 517.74 L127.52 515.62 L127.99 513.42 L128.46 511.13 L128.93 508.78 L129.4 506.36 L129.87 503.9 L130.35 501.4 L130.82 498.87 L131.29 496.34 L131.76 493.82 L132.23 491.32 L132.7 488.86 L133.17 486.48 L133.64 484.17 L134.11 481.98 L134.58 479.91 L135.05 477.99 L135.53 476.24 L136 474.69 L136.47 473.35 L136.94 472.24 L137.41 471.37 L137.88 470.76 L138.35 470.42 L138.82 470.34 L139.29 470.54 L139.76 471.01 L140.24 471.74 L140.71 472.73 L141.18 473.95 L141.65 475.39 L142.12 477.04 L142.59 478.86 L143.06 480.86 L143.53 482.99 L144 485.23 L144.47 487.58 L144.94 490 L145.42 492.48 L145.89 494.99 L146.36 497.52 L146.83 500.05 L147.3 502.57 L147.77 505.06 L148.24 507.5 L148.71 509.89 L149.18 512.21 L149.65 514.45 L150.13 516.62 L150.6 518.69 L151.07 520.68 L151.54 522.56 L152.01 524.34 L152.48 526.02 L152.95 527.6 L153.42 529.08 L153.89 530.46 L154.36 531.74 L154.83 532.92 L155.31 534.01 L155.78 535.02 L156.25 535.94 L156.72 536.78 L157.19 537.54 L157.66 538.24 L158.13 538.86 L158.6 539.43 L159.07 539.94 L159.54 540.4 L160.02 540.81 L160.49 541.18 L160.96 541.51 L161.43 541.81 L161.9 542.07 L162.37 542.3 L162.84 542.51 L163.31 542.7 L163.78 542.86 L164.25 543.01 L164.72 543.14 L165.2 543.26 L165.67 543.37 L166.14 543.46 L166.61 543.55 L167.08 543.63 L167.55 543.7 L168.02 543.76 L168.49 543.82 L168.96 543.87 L169.43 543.92 L169.91 543.97 L170.38 544.01 L170.85 544.05 L171.32 544.09 L171.79 544.13 L172.26 544.16 L172.73 544.19 L173.2 544.22 L173.67 544.25 L174.14 544.28 L174.61 544.3 L175.09 544.33 L175.56 544.35 L176.03 544.37 L176.5 544.4 L176.97 544.42 L177.44 544.44 L177.91 544.46 L178.38 544.48 L178.85 544.49 L179.32 544.51 L179.79 544.53 L180.27 544.55 L180.74 544.56 L181.21 544.58 L181.68 544.59 L182.15 544.61 L182.62 544.62 L183.09 544.64 L183.56 544.65 L184.03 544.66 L184.5 544.67 L184.98 544.69 L185.45 544.7 L185.92 544.71 L186.39 544.72 L186.86 544.73 L187.33 544.74 L187.8 544.75 L188.27 544.76 L188.74 544.77 L189.21 544.78 L189.68 544.79 L190.16 544.8 L190.63 544.81 L191.1 544.82 L191.57 544.83 L192.04 544.83 L192.51 544.84 L192.98 544.85 L193.45 544.86 L193.92 544.87 L194.39 544.87 L194.87 544.88 L195.34 544.89 L195.81 544.89 L196.28 544.9 L196.75 544.91 L197.22 544.91 L197.69 544.92" fill="none" stroke="#5a3cf0" stroke-width="1" stroke-linejoin="round" />
<path d="M156.88 544.7 L157.26 544.7 L157.64 544.69 L158.02 544.68 L158.4 544.67 L158.77 544.66 L159.15 544.65 L159.53 544.65 L159.91 544.64 L160.29 544.63 L160.67 544.62 L161.05 544.61 L161.43 544.6 L161.81 544.59 L162.19 544.58 L162.57 544.57 L162.95 544.56 L163.33 544.54 L163.71 544.53 L164.09 544.52 L164.47 544.51 L164.85 544.5 L165.23 544.48 L165.61 544.47 L165.99 544.46 L166.37 544.45 L166.75 544.43 L167.13 544.42 L167.51 544.4 L167.89 544.39 L168.27 544.37 L168.65 544.36 L169.03 544.34 L169.41 544.33 L169.79 544.31 L170.17 544.29 L170.55 544.28 L170.93 544.26 L171.31 544.24 L171.69 544.22 L172.07 544.2 L172.45 544.18 L172.83 544.16 L173.21 544.14 L173.59 544.12 L173.97 544.1 L174.35 544.08 L174.73 544.05 L175.11 544.03 L175.49 544.01 L175.87 543.98 L176.25 543.95 L176.63 543.93 L177.01 543.9 L177.39 543.87 L177.77 543.84 L178.15 543.81 L178.53 543.78 L178.91 543.75 L179.29 543.71 L179.67 543.68 L180.05 543.64 L180.43 543.6 L180.81 543.56 L181.19 543.52 L181.57 543.48 L181.95 543.43 L182.33 543.38 L182.71 543.33 L183.09 543.28 L183.47 543.22 L183.85 543.16 L184.23 543.09 L184.61 543.02 L184.99 542.95 L185.37 542.87 L185.75 542.78 L186.13 542.69 L186.51 542.59 L186.89 542.47 L187.27 542.35 L187.65 542.22 L188.03 542.07 L188.41 541.91 L188.79 541.74 L189.17 541.55 L189.55 541.33 L189.93 541.1 L190.31 540.84 L190.69 540.56 L191.07 540.25 L191.45 539.9 L191.83 539.52 L192.21 539.1 L192.59 538.64 L192.97 538.14 L193.35 537.59 L193.73 536.98 L194.11 536.32 L194.49 535.59 L194.87 534.8 L195.25 533.94 L195.63 533.01 L196.01 532 L196.38 530.9 L196.76 529.72 L197.14 528.45 L197.52 527.08 L197.9 525.61 L198.28 524.04 L198.66 522.36 L199.04 520.58 L199.42 518.68 L199.8 516.68 L200.18 514.56 L200.56 512.33 L200.94 509.99 L201.32 507.54 L201.7 504.98 L202.08 502.32 L202.46 499.56 L202.84 496.7 L203.22 493.76 L203.6 490.73 L203.98 487.63 L204.36 484.47 L204.74 481.25 L205.12 477.99 L205.5 474.71 L205.88 471.41 L206.26 468.11 L206.64 464.83 L207.02 461.58 L207.4 458.39 L207.78 455.26 L208.16 452.22 L208.54 449.28 L208.92 446.48 L209.3 443.82 L209.68 441.33 L210.06 439.03 L210.44 436.93 L210.82 435.06 L211.2 433.43 L211.58 432.06 L211.96 430.96 L212.34 430.15 L212.72 429.62 L213.1 429.39 L213.48 429.46 L213.86 429.83 L214.24 430.5 L214.62 431.45 L215 432.67 L215.38 434.17 L215.76 435.91 L216.14 437.89 L216.52 440.09 L216.9 442.48 L217.28 445.05 L217.66 447.78 L218.04 450.65 L218.42 453.64 L218.8 456.72 L219.18 459.89 L219.56 463.11 L219.94 466.38 L220.32 469.67 L220.7 472.97 L221.08 476.26 L221.46 479.53 L221.84 482.77 L222.22 485.96 L222.6 489.1 L222.98 492.16 L223.36 495.15 L223.74 498.06 L224.12 500.87 L224.5 503.59 L224.88 506.2 L225.26 508.71 L225.64 511.11 L226.02 513.4 L226.4 515.57 L226.78 517.64 L227.16 519.59 L227.54 521.43 L227.92 523.16 L228.3 524.79 L228.68 526.31 L229.06 527.73 L229.44 529.06 L229.82 530.29 L230.2 531.43 L230.58 532.48 L230.96 533.46 L231.34 534.36 L231.72 535.18 L232.1 535.94 L232.48 536.64 L232.86 537.27 L233.24 537.85 L233.61 538.38 L233.99 538.87 L234.37 539.31 L234.75 539.71 L235.13 540.07 L235.51 540.4 L235.89 540.7 L236.27 540.97 L236.65 541.21 L237.03 541.44 L237.41 541.64 L237.79 541.82 L238.17 541.99 L238.55 542.14 L238.93 542.28 L239.31 542.41 L239.69 542.53 L240.07 542.63 L240.45 542.73 L240.83 542.82 L241.21 542.91 L241.59 542.99 L241.97 543.06 L242.35 543.13 L242.73 543.19 L243.11 543.25 L243.49 543.3 L243.87 543.36 L244.25 543.41 L244.63 543.45 L245.01 543.5 L245.39 543.54 L245.77 543.58 L246.15 543.62 L246.53 543.66 L246.91 543.69 L247.29 543.73 L247.67 543.76 L248.05 543.79 L248.43 543.83 L248.81 543.86 L249.19 543.89 L249.57 543.91 L249.95 543.94 L250.33 543.97 L250.71 543.99 L251.09 544.02 L251.47 544.04 L251.85 544.07 L252.23 544.09 L252.61 544.11 L252.99 544.13 L253.37 544.15 L253.75 544.17 L254.13 544.19 L254.51 544.21 L254.89 544.23 L255.27 544.25 L255.65 544.27" fill="none" stroke="#5a3cf0" stroke-width="1" stroke-linejoin="round" />
<path d="M50.76 543.73 L51.38 544.01 L52 544.79 L52.62 543.39 L53.24 543.78 L53.87 543.71 L54.49 543.81 L55.11 542.82 L55.73 543.24 L56.35 542.99 L56.98 544 L57.6 544.08 L58.22 544.43 L58.84 543.85 L59.46 545.5 L60.09 542.46 L60.71 543.43 L61.33 543.41 L61.95 542.8 L62.58 543.59 L63.2 543.09 L63.82 542.65 L64.44 544.19 L65.06 541.82 L65.69 542.83 L66.31 542.41 L66.93 543.45 L67.55 543.06 L68.17 541.34 L68.8 542.77 L69.42 542.57 L70.04 541.83 L70.66 541.05 L71.29 543.6 L71.91 540.76 L72.53 541.46 L73.15 540.89 L73.77 542.09 L74.4 541.03 L75.02 539.99 L75.64 541.04 L76.26 541.28 L76.88 541.02 L77.51 540.96 L78.13 539.91 L78.75 540.21 L79.37 540.58 L80 539.58 L80.62 540.79 L81.24 540.94 L81.86 538.15 L82.48 540.24 L83.11 538.6 L83.73 539.75 L84.35 539.8 L84.97 539.26 L85.59 540.21 L86.22 540.2 L86.84 539.77 L87.46 539.92 L88.08 539.18 L88.7 538.37 L89.33 540.6 L89.95 540.45 L90.57 539.39 L91.19 539.64 L91.82 539.31 L92.44 540.7 L93.06 539.87 L93.68 540.42 L94.3 541.63 L94.93 540.29 L95.55 541.8 L96.17 540.45 L96.79 541.25 L97.41 541.18 L98.04 539.66 L98.66 540.2 L99.28 541.07 L99.9 541.19 L100.53 542.11 L101.15 540.79 L101.77 541.32 L102.39 542.44 L103.01 543.07 L103.64 541.99 L104.26 542.17 L104.88 541.51 L105.5 542.88 L106.12 542.82 L106.75 541.94 L107.37 542.2 L107.99 541.61 L108.61 541.49 L109.24 542.88 L109.86 543.88 L110.48 542.14 L111.1 542.62 L111.72 541.86 L112.35 543.8 L112.97 541.84 L113.59 541.53 L114.21 541.77 L114.83 540.76 L115.46 540.73 L116.08 540.27 L116.7 539.09 L117.32 538.58 L117.94 538.05 L118.57 537.94 L119.19 537.31 L119.81 536.11 L120.43 535.26 L121.06 534.83 L121.68 532.74 L122.3 530.92 L122.92 530.23 L123.54 528.93 L124.17 525.82 L124.79 524.63 L125.41 522.85 L126.03 519.53 L126.65 517.76 L127.28 513.74 L127.9 511.43 L128.52 507.99 L129.14 504.13 L129.77 500.95 L130.39 498.56 L131.01 496.81 L131.63 492.34 L132.25 489.65 L132.88 485.15 L133.5 481.76 L134.12 479.62 L134.74 477.16 L135.36 474.99 L135.99 472.99 L136.61 472.16 L137.23 470.09 L137.85 470.16 L138.48 470.4 L139.1 469.63 L139.72 469.04 L140.34 471.17 L140.96 473.52 L141.59 472.99 L142.21 475.51 L142.83 477.3 L143.45 480.12 L144.07 481.58 L144.7 482.85 L145.32 486.29 L145.94 486.97 L146.56 488.46 L147.18 490.17 L147.81 489.89 L148.43 489.64 L149.05 490.33 L149.67 488.37 L150.3 489.29 L150.92 487.1 L151.54 487.09 L152.16 487.37 L152.78 488.67 L153.41 489.9 L154.03 492.79 L154.65 493.79 L155.27 496.9 L155.89 499.84 L156.52 503.14 L157.14 507.38 L157.76 511.33 L158.38 513.8 L159.01 517.61 L159.63 520.45 L160.25 523.8 L160.87 524.55 L161.49 528.07 L162.12 528.22 L162.74 531.75 L163.36 532.77 L163.98 533.4 L164.6 534.79 L165.23 536 L165.85 536.35 L166.47 536.61 L167.09 536.61 L167.72 536.13 L168.34 536.68 L168.96 537.21 L169.58 537.14 L170.2 539.46 L170.83 538.61 L171.45 538.78 L172.07 539.31 L172.69 538.45 L173.31 539.41 L173.94 539.89 L174.56 538.66 L175.18 539.87 L175.8 539.72 L176.42 540.72 L177.05 539.16 L177.67 539.86 L178.29 538.99 L178.91 538.55 L179.54 539.7 L180.16 540.48 L180.78 540.84 L181.4 539.21 L182.02 540.52 L182.65 539.98 L183.27 540.26 L183.89 542.76 L184.51 540.32 L185.13 540.29 L185.76 540.21 L186.38 540.37 L187 540.01 L187.62 540.73 L188.25 539.44 L188.87 539.99 L189.49 539.24 L190.11 537.87 L190.73 538.44 L191.36 538.79 L191.98 537.21 L192.6 537.74 L193.22 535.75 L193.84 533.88 L194.47 534.38 L195.09 532.37 L195.71 531.27 L196.33 528.71 L196.96 526.52 L197.58 524.26 L198.2 521.93 L198.82 520.11 L199.44 516.17 L200.07 512.28 L200.69 507.54 L201.31 505.3 L201.93 498.69 L202.55 495.22 L203.18 490.86 L203.8 483.51 L204.42 478.91 L205.04 474.33 L205.66 467.98 L206.29 462.24 L206.91 458.23 L207.53 451.11 L208.15 447.58 L208.78 441.77 L209.4 438.47 L210.02 435.42 L210.64 431.56 L211.26 428.96 L211.89 426.65 L212.51 426.73 L213.13 425.84 L213.75 425.21 L214.37 426.62 L215 428.24 L215.62 429.61 L216.24 433.26 L216.86 433.7 L217.49 438.46 L218.11 440.61 L218.73 443.8 L219.35 445.64 L219.97 448.97 L220.6 451.19 L221.22 452.08 L221.84 453.01 L222.46 454.31 L223.08 453.24 L223.71 454.29 L224.33 453.87 L224.95 453.92 L225.57 454.18 L226.2 455.35 L226.82 454.86 L227.44 457.48 L228.06 459.01 L228.68 460.68 L229.31 464.21 L229.93 469.45 L230.55 473.36 L231.17 478.66 L231.79 482.51 L232.42 489 L233.04 494.27 L233.66 500.21 L234.28 505.37 L234.9 509.56 L235.53 515.33 L236.15 518.82 L236.77 522.95 L237.39 526.16 L238.02 529.62 L238.64 530.37 L239.26 534.26 L239.88 535.64 L240.5 536.43 L241.13 537.16 L241.75 538.56 L242.37 539.81 L242.99 539.53 L243.61 540.28 L244.24 540.36 L244.86 539.04 L245.48 541.7 L246.1 540.46 L246.73 540.3 L247.35 540.93 L247.97 540.97 L248.59 540.07 L249.21 540.99 L249.84 542.07 L250.46 541.2 L251.08 540.74 L251.7 541.29 L252.32 541.46 L252.95 540.98 L253.57 541.47 L254.19 541.09 L254.81 540.77 L255.44 541.66 L256.06 542.33" fill="none" stroke="#14142e" stroke-width="2.0" stroke-linejoin="round" stroke-linecap="round"/>
<text x="55.0" y="431.9" font-size="14.6" font-weight="bold" fill="#111" stroke="#111">Ce3d</text>
<text x="154" y="581" font-size="8.6" fill="#3c3c3c" stroke="#3c3c3c" text-anchor="middle">Binding energy, eV</text>
<text transform="translate(26.4 481.2) rotate(-90)" font-size="8.45" fill="#3c3c3c" stroke="#3c3c3c" text-anchor="middle">Intensity, a.u.</text>
<path d="M309.6 415.1 H517.3" fill="none" stroke="#4a4a4a" stroke-width="1.15"/>
<path d="M517.3 414.6 V556.6" fill="none" stroke="#4a4a4a" stroke-width="0.8999999999999999"/>
<path d="M309.6 415.1 V556.1 H517.3" fill="none" stroke="#2a2a2a" stroke-width="0.95"/>
<text x="309.6" y="566.9" font-size="7.5" fill="#3c3c3c" stroke="#3c3c3c" text-anchor="middle">540</text>
<text x="339.27" y="566.9" font-size="7.5" fill="#3c3c3c" stroke="#3c3c3c" text-anchor="middle">538</text>
<text x="368.94" y="566.9" font-size="7.5" fill="#3c3c3c" stroke="#3c3c3c" text-anchor="middle">536</text>
<text x="398.61" y="566.9" font-size="7.5" fill="#3c3c3c" stroke="#3c3c3c" text-anchor="middle">534</text>
<text x="428.29" y="566.9" font-size="7.5" fill="#3c3c3c" stroke="#3c3c3c" text-anchor="middle">532</text>
<text x="457.96" y="566.9" font-size="7.5" fill="#3c3c3c" stroke="#3c3c3c" text-anchor="middle">530</text>
<text x="487.63" y="566.9" font-size="7.5" fill="#3c3c3c" stroke="#3c3c3c" text-anchor="middle">528</text>
<text x="517.3" y="566.9" font-size="7.5" fill="#3c3c3c" stroke="#3c3c3c" text-anchor="middle">526</text>
<path d="M309.6 556.1v2.6M339.27 556.1v2.6M368.94 556.1v2.6M398.61 556.1v2.6M428.29 556.1v2.6M457.96 556.1v2.6M487.63 556.1v2.6M517.3 556.1v2.6M324.44 556.1v1.5M354.11 556.1v1.5M383.78 556.1v1.5M413.45 556.1v1.5M443.12 556.1v1.5M472.79 556.1v1.5M502.46 556.1v1.5" stroke="#2a2a2a" stroke-width="0.9" fill="none"/>
<text x="304.3" y="551.34" font-size="7.7" fill="#3c3c3c" stroke="#3c3c3c" text-anchor="end">0,2</text>
<text x="304.3" y="521.54" font-size="7.7" fill="#3c3c3c" stroke="#3c3c3c" text-anchor="end">0,4</text>
<text x="304.3" y="491.74" font-size="7.7" fill="#3c3c3c" stroke="#3c3c3c" text-anchor="end">0,6</text>
<text x="304.3" y="461.94" font-size="7.7" fill="#3c3c3c" stroke="#3c3c3c" text-anchor="end">0,8</text>
<text x="304.3" y="432.14" font-size="7.7" fill="#3c3c3c" stroke="#3c3c3c" text-anchor="end">1,0</text>
<path d="M309.6 548.8h-2.6M309.6 519h-2.6M309.6 489.2h-2.6M309.6 459.4h-2.6M309.6 429.6h-2.6M309.6 533.9h-1.5M309.6 504.1h-1.5M309.6 474.3h-1.5M309.6 444.5h-1.5" stroke="#2a2a2a" stroke-width="0.9" fill="none"/>
<path d="M322.95 552.37 L323.7 552.37 L324.44 552.37 L325.19 552.37 L325.93 552.37 L326.68 552.37 L327.42 552.37 L328.16 552.37 L328.91 552.37 L329.65 552.37 L330.4 552.37 L331.14 552.37 L331.89 552.37 L332.63 552.37 L333.38 552.37 L334.12 552.37 L334.87 552.37 L335.61 552.37 L336.36 552.37 L337.1 552.37 L337.84 552.37 L338.59 552.37 L339.33 552.37 L340.08 552.37 L340.82 552.37 L341.57 552.37 L342.31 552.37 L343.06 552.37 L343.8 552.37 L344.55 552.37 L345.29 552.37 L346.04 552.37 L346.78 552.37 L347.53 552.37 L348.27 552.37 L349.01 552.37 L349.76 552.37 L350.5 552.37 L351.25 552.37 L351.99 552.37 L352.74 552.37 L353.48 552.37 L354.23 552.37 L354.97 552.37 L355.72 552.37 L356.46 552.37 L357.21 552.37 L357.95 552.37 L358.69 552.37 L359.44 552.37 L360.18 552.37 L360.93 552.37 L361.67 552.37 L362.42 552.37 L363.16 552.37 L363.91 552.37 L364.65 552.37 L365.4 552.37 L366.14 552.37 L366.89 552.37 L367.63 552.37 L368.38 552.37 L369.12 552.37 L369.86 552.37 L370.61 552.37 L371.35 552.37 L372.1 552.37 L372.84 552.37 L373.59 552.37 L374.33 552.37 L375.08 552.37 L375.82 552.37 L376.57 552.37 L377.31 552.37 L378.06 552.37 L378.8 552.37 L379.54 552.37 L380.29 552.37 L381.03 552.37 L381.78 552.37 L382.52 552.37 L383.27 552.37 L384.01 552.37 L384.76 552.37 L385.5 552.37 L386.25 552.37 L386.99 552.37 L387.74 552.37 L388.48 552.37 L389.22 552.37 L389.97 552.37 L390.71 552.37 L391.46 552.37 L392.2 552.37 L392.95 552.37 L393.69 552.37 L394.44 552.37 L395.18 552.37 L395.93 552.37 L396.67 552.37 L397.42 552.37 L398.16 552.37 L398.91 552.37 L399.65 552.37 L400.39 552.37 L401.14 552.37 L401.88 552.37 L402.63 552.37 L403.37 552.37 L404.12 552.37 L404.86 552.37 L405.61 552.37 L406.35 552.37 L407.1 552.37 L407.84 552.37 L408.59 552.37 L409.33 552.37 L410.07 552.37 L410.82 552.37 L411.56 552.37 L412.31 552.37 L413.05 552.37 L413.8 552.37 L414.54 552.37 L415.29 552.37 L416.03 552.37 L416.78 552.37 L417.52 552.37 L418.27 552.37 L419.01 552.37 L419.76 552.37 L420.5 552.37 L421.24 552.37 L421.99 552.37 L422.73 552.37 L423.48 552.37 L424.22 552.37 L424.97 552.37 L425.71 552.37 L426.46 552.37 L427.2 552.37 L427.95 552.37 L428.69 552.37 L429.44 552.37 L430.18 552.37 L430.92 552.37 L431.67 552.37 L432.41 552.37 L433.16 552.37 L433.9 552.37 L434.65 552.37 L435.39 552.37 L436.14 552.37 L436.88 552.37 L437.63 552.37 L438.37 552.37 L439.12 552.37 L439.86 552.37 L440.61 552.37 L441.35 552.37 L442.09 552.37 L442.84 552.37 L443.58 552.37 L444.33 552.37 L445.07 552.37 L445.82 552.37 L446.56 552.37 L447.31 552.37 L448.05 552.37 L448.8 552.37 L449.54 552.37 L450.29 552.37 L451.03 552.37 L451.77 552.37 L452.52 552.37 L453.26 552.37 L454.01 552.37 L454.75 552.37 L455.5 552.37 L456.24 552.37 L456.99 552.37 L457.73 552.37 L458.48 552.37 L459.22 552.37 L459.97 552.37 L460.71 552.37 L461.45 552.37 L462.2 552.37 L462.94 552.37 L463.69 552.37 L464.43 552.37 L465.18 552.37 L465.92 552.37 L466.67 552.37 L467.41 552.37 L468.16 552.37 L468.9 552.37 L469.65 552.37 L470.39 552.37 L471.14 552.37 L471.88 552.37 L472.62 552.37 L473.37 552.37 L474.11 552.37 L474.86 552.37 L475.6 552.37 L476.35 552.37 L477.09 552.37 L477.84 552.37 L478.58 552.37 L479.33 552.37 L480.07 552.37 L480.82 552.37 L481.56 552.37 L482.3 552.37 L483.05 552.37 L483.79 552.37 L484.54 552.37 L485.28 552.37 L486.03 552.37 L486.77 552.37 L487.52 552.37 L488.26 552.37 L489.01 552.37 L489.75 552.37 L490.5 552.37 L491.24 552.37 L491.99 552.37 L492.73 552.37 L493.47 552.37 L494.22 552.37 L494.96 552.37 L495.71 552.37 L496.45 552.37 L497.2 552.37 L497.94 552.37 L498.69 552.37 L499.43 552.37 L500.18 552.37 L500.92 552.37 L501.67 552.37 L502.41 552.37 L503.15 552.37 L503.9 552.37 L504.64 552.37 L505.39 552.37 L506.13 552.37 L506.88 552.37 L507.62 552.37 L508.37 552.37 L509.11 552.37 L509.86 552.37 L510.6 552.37 L511.35 552.37 L512.09 552.37 L512.84 552.37 L513.58 552.37 L514.32 552.37 L515.07 552.37 L515.81 552.37 L516.56 552.37" fill="none" stroke="#333" stroke-width="1.0" stroke-linejoin="round" stroke-dasharray="1.3 1.9"/>
<path d="M322.95 552.01 L323.7 552.01 L324.44 552 L325.19 551.99 L325.93 551.99 L326.68 551.98 L327.42 551.98 L328.16 551.97 L328.91 551.96 L329.65 551.96 L330.4 551.95 L331.14 551.94 L331.89 551.94 L332.63 551.93 L333.38 551.92 L334.12 551.92 L334.87 551.91 L335.61 551.9 L336.36 551.89 L337.1 551.88 L337.84 551.87 L338.59 551.86 L339.33 551.86 L340.08 551.85 L340.82 551.83 L341.57 551.82 L342.31 551.81 L343.06 551.8 L343.8 551.79 L344.55 551.78 L345.29 551.76 L346.04 551.75 L346.78 551.73 L347.53 551.72 L348.27 551.7 L349.01 551.68 L349.76 551.67 L350.5 551.65 L351.25 551.63 L351.99 551.6 L352.74 551.58 L353.48 551.56 L354.23 551.53 L354.97 551.5 L355.72 551.47 L356.46 551.44 L357.21 551.41 L357.95 551.37 L358.69 551.33 L359.44 551.29 L360.18 551.25 L360.93 551.2 L361.67 551.15 L362.42 551.1 L363.16 551.04 L363.91 550.98 L364.65 550.91 L365.4 550.84 L366.14 550.76 L366.89 550.68 L367.63 550.6 L368.38 550.5 L369.12 550.41 L369.86 550.3 L370.61 550.19 L371.35 550.07 L372.1 549.95 L372.84 549.81 L373.59 549.67 L374.33 549.52 L375.08 549.36 L375.82 549.19 L376.57 549.01 L377.31 548.82 L378.06 548.63 L378.8 548.42 L379.54 548.2 L380.29 547.96 L381.03 547.72 L381.78 547.47 L382.52 547.2 L383.27 546.92 L384.01 546.63 L384.76 546.32 L385.5 546.01 L386.25 545.68 L386.99 545.34 L387.74 544.98 L388.48 544.61 L389.22 544.23 L389.97 543.84 L390.71 543.44 L391.46 543.02 L392.2 542.6 L392.95 542.16 L393.69 541.71 L394.44 541.25 L395.18 540.78 L395.93 540.31 L396.67 539.82 L397.42 539.33 L398.16 538.83 L398.91 538.33 L399.65 537.82 L400.39 537.31 L401.14 536.8 L401.88 536.29 L402.63 535.77 L403.37 535.26 L404.12 534.75 L404.86 534.25 L405.61 533.75 L406.35 533.26 L407.1 532.78 L407.84 532.31 L408.59 531.85 L409.33 531.41 L410.07 530.99 L410.82 530.58 L411.56 530.19 L412.31 529.82 L413.05 529.48 L413.8 529.16 L414.54 528.87 L415.29 528.6 L416.03 528.37 L416.78 528.16 L417.52 527.99 L418.27 527.85 L419.01 527.75 L419.76 527.68 L420.5 527.65 L421.24 527.65 L421.99 527.68 L422.73 527.75 L423.48 527.86 L424.22 527.99 L424.97 528.17 L425.71 528.37 L426.46 528.61 L427.2 528.87 L427.95 529.16 L428.69 529.48 L429.44 529.83 L430.18 530.19 L430.92 530.58 L431.67 530.99 L432.41 531.42 L433.16 531.86 L433.9 532.32 L434.65 532.79 L435.39 533.27 L436.14 533.76 L436.88 534.26 L437.63 534.76 L438.37 535.27 L439.12 535.78 L439.86 536.29 L440.61 536.81 L441.35 537.32 L442.09 537.83 L442.84 538.34 L443.58 538.84 L444.33 539.34 L445.07 539.83 L445.82 540.31 L446.56 540.79 L447.31 541.26 L448.05 541.72 L448.8 542.16 L449.54 542.6 L450.29 543.03 L451.03 543.44 L451.77 543.85 L452.52 544.24 L453.26 544.62 L454.01 544.99 L454.75 545.34 L455.5 545.68 L456.24 546.01 L456.99 546.33 L457.73 546.63 L458.48 546.92 L459.22 547.2 L459.97 547.47 L460.71 547.72 L461.45 547.97 L462.2 548.2 L462.94 548.42 L463.69 548.63 L464.43 548.83 L465.18 549.01 L465.92 549.19 L466.67 549.36 L467.41 549.52 L468.16 549.67 L468.9 549.81 L469.65 549.95 L470.39 550.07 L471.14 550.19 L471.88 550.3 L472.62 550.41 L473.37 550.51 L474.11 550.6 L474.86 550.68 L475.6 550.76 L476.35 550.84 L477.09 550.91 L477.84 550.98 L478.58 551.04 L479.33 551.1 L480.07 551.15 L480.82 551.2 L481.56 551.25 L482.3 551.29 L483.05 551.33 L483.79 551.37 L484.54 551.41 L485.28 551.44 L486.03 551.47 L486.77 551.5 L487.52 551.53 L488.26 551.56 L489.01 551.58 L489.75 551.6 L490.5 551.63 L491.24 551.65 L491.99 551.67 L492.73 551.68 L493.47 551.7 L494.22 551.72 L494.96 551.73 L495.71 551.75 L496.45 551.76 L497.2 551.78 L497.94 551.79 L498.69 551.8 L499.43 551.81 L500.18 551.82 L500.92 551.84 L501.67 551.85 L502.41 551.86 L503.15 551.86 L503.9 551.87 L504.64 551.88 L505.39 551.89 L506.13 551.9 L506.88 551.91 L507.62 551.92 L508.37 551.92 L509.11 551.93 L509.86 551.94 L510.6 551.94 L511.35 551.95 L512.09 551.96 L512.84 551.96 L513.58 551.97 L514.32 551.98 L515.07 551.98 L515.81 551.99 L516.56 551.99" fill="none" stroke="#b98a5a" stroke-width="1" stroke-linejoin="round" />
<path d="M322.95 552.32 L323.7 552.32 L324.44 552.32 L325.19 552.32 L325.93 552.32 L326.68 552.32 L327.42 552.32 L328.16 552.32 L328.91 552.31 L329.65 552.31 L330.4 552.31 L331.14 552.31 L331.89 552.31 L332.63 552.31 L333.38 552.31 L334.12 552.31 L334.87 552.31 L335.61 552.31 L336.36 552.31 L337.1 552.3 L337.84 552.3 L338.59 552.3 L339.33 552.3 L340.08 552.3 L340.82 552.3 L341.57 552.3 L342.31 552.3 L343.06 552.3 L343.8 552.29 L344.55 552.29 L345.29 552.29 L346.04 552.29 L346.78 552.29 L347.53 552.29 L348.27 552.29 L349.01 552.28 L349.76 552.28 L350.5 552.28 L351.25 552.28 L351.99 552.28 L352.74 552.28 L353.48 552.27 L354.23 552.27 L354.97 552.27 L355.72 552.27 L356.46 552.27 L357.21 552.27 L357.95 552.26 L358.69 552.26 L359.44 552.26 L360.18 552.26 L360.93 552.25 L361.67 552.25 L362.42 552.25 L363.16 552.25 L363.91 552.24 L364.65 552.24 L365.4 552.24 L366.14 552.24 L366.89 552.23 L367.63 552.23 L368.38 552.23 L369.12 552.22 L369.86 552.22 L370.61 552.22 L371.35 552.22 L372.1 552.21 L372.84 552.21 L373.59 552.2 L374.33 552.2 L375.08 552.2 L375.82 552.19 L376.57 552.19 L377.31 552.18 L378.06 552.18 L378.8 552.17 L379.54 552.17 L380.29 552.16 L381.03 552.16 L381.78 552.15 L382.52 552.15 L383.27 552.14 L384.01 552.13 L384.76 552.13 L385.5 552.12 L386.25 552.11 L386.99 552.11 L387.74 552.1 L388.48 552.09 L389.22 552.08 L389.97 552.07 L390.71 552.06 L391.46 552.05 L392.2 552.04 L392.95 552.03 L393.69 552.02 L394.44 552.01 L395.18 551.99 L395.93 551.98 L396.67 551.96 L397.42 551.94 L398.16 551.92 L398.91 551.89 L399.65 551.86 L400.39 551.82 L401.14 551.78 L401.88 551.72 L402.63 551.66 L403.37 551.58 L404.12 551.49 L404.86 551.38 L405.61 551.24 L406.35 551.07 L407.1 550.87 L407.84 550.63 L408.59 550.33 L409.33 549.98 L410.07 549.56 L410.82 549.06 L411.56 548.47 L412.31 547.77 L413.05 546.96 L413.8 546.01 L414.54 544.91 L415.29 543.64 L416.03 542.2 L416.78 540.55 L417.52 538.7 L418.27 536.62 L419.01 534.29 L419.76 531.72 L420.5 528.9 L421.24 525.81 L421.99 522.47 L422.73 518.87 L423.48 515.03 L424.22 510.96 L424.97 506.69 L425.71 502.23 L426.46 497.64 L427.2 492.93 L427.95 488.17 L428.69 483.39 L429.44 478.66 L430.18 474.02 L430.92 469.55 L431.67 465.3 L432.41 461.33 L433.16 457.71 L433.9 454.49 L434.65 451.72 L435.39 449.45 L436.14 447.73 L436.88 446.59 L437.63 446.04 L438.37 446.1 L439.12 446.76 L439.86 448.01 L440.61 449.84 L441.35 452.2 L442.09 455.06 L442.84 458.36 L443.58 462.05 L444.33 466.08 L445.07 470.38 L445.82 474.88 L446.56 479.54 L447.31 484.29 L448.05 489.06 L448.8 493.82 L449.54 498.51 L450.29 503.08 L451.03 507.5 L451.77 511.74 L452.52 515.77 L453.26 519.56 L454.01 523.11 L454.75 526.41 L455.5 529.45 L456.24 532.22 L456.99 534.75 L457.73 537.02 L458.48 539.06 L459.22 540.88 L459.97 542.48 L460.71 543.9 L461.45 545.13 L462.2 546.2 L462.94 547.12 L463.69 547.91 L464.43 548.59 L465.18 549.16 L465.92 549.64 L466.67 550.05 L467.41 550.39 L468.16 550.67 L468.9 550.91 L469.65 551.1 L470.39 551.27 L471.14 551.4 L471.88 551.51 L472.62 551.6 L473.37 551.67 L474.11 551.73 L474.86 551.78 L475.6 551.83 L476.35 551.86 L477.09 551.89 L477.84 551.92 L478.58 551.94 L479.33 551.96 L480.07 551.98 L480.82 552 L481.56 552.01 L482.3 552.02 L483.05 552.04 L483.79 552.05 L484.54 552.06 L485.28 552.07 L486.03 552.08 L486.77 552.08 L487.52 552.09 L488.26 552.1 L489.01 552.11 L489.75 552.12 L490.5 552.12 L491.24 552.13 L491.99 552.14 L492.73 552.14 L493.47 552.15 L494.22 552.15 L494.96 552.16 L495.71 552.16 L496.45 552.17 L497.2 552.17 L497.94 552.18 L498.69 552.18 L499.43 552.19 L500.18 552.19 L500.92 552.2 L501.67 552.2 L502.41 552.2 L503.15 552.21 L503.9 552.21 L504.64 552.22 L505.39 552.22 L506.13 552.22 L506.88 552.23 L507.62 552.23 L508.37 552.23 L509.11 552.23 L509.86 552.24 L510.6 552.24 L511.35 552.24 L512.09 552.25 L512.84 552.25 L513.58 552.25 L514.32 552.25 L515.07 552.25 L515.81 552.26 L516.56 552.26" fill="none" stroke="#5a3cf0" stroke-width="1.05" stroke-linejoin="round" />
<g fill="#7a7a7a" stroke="#303030" stroke-width="0.65">
<circle cx="322.95" cy="551.09" r="1.3"/>
<circle cx="324.43" cy="550.44" r="1.3"/>
<circle cx="325.91" cy="550.86" r="1.3"/>
<circle cx="327.39" cy="550.84" r="1.3"/>
<circle cx="328.86" cy="550.97" r="1.3"/>
<circle cx="330.34" cy="551.04" r="1.3"/>
<circle cx="331.82" cy="550.94" r="1.3"/>
<circle cx="333.3" cy="551.13" r="1.3"/>
<circle cx="334.78" cy="551.33" r="1.3"/>
<circle cx="336.25" cy="551.36" r="1.3"/>
<circle cx="337.73" cy="551.42" r="1.3"/>
<circle cx="339.21" cy="550.97" r="1.3"/>
<circle cx="340.69" cy="550.86" r="1.3"/>
<circle cx="342.16" cy="550.51" r="1.3"/>
<circle cx="343.64" cy="550.83" r="1.3"/>
<circle cx="345.12" cy="550.88" r="1.3"/>
<circle cx="346.6" cy="550.74" r="1.3"/>
<circle cx="348.08" cy="550.91" r="1.3"/>
<circle cx="349.55" cy="551.44" r="1.3"/>
<circle cx="351.03" cy="550.52" r="1.3"/>
<circle cx="352.51" cy="550.93" r="1.3"/>
<circle cx="353.99" cy="550.68" r="1.3"/>
<circle cx="355.47" cy="550.77" r="1.3"/>
<circle cx="356.94" cy="549.73" r="1.3"/>
<circle cx="358.42" cy="550.2" r="1.3"/>
<circle cx="359.9" cy="550.33" r="1.3"/>
<circle cx="361.38" cy="550.7" r="1.3"/>
<circle cx="362.86" cy="549.96" r="1.3"/>
<circle cx="364.33" cy="550.37" r="1.3"/>
<circle cx="365.81" cy="549.59" r="1.3"/>
<circle cx="367.29" cy="550.23" r="1.3"/>
<circle cx="368.77" cy="549.58" r="1.3"/>
<circle cx="370.25" cy="549.03" r="1.3"/>
<circle cx="371.72" cy="549.32" r="1.3"/>
<circle cx="373.2" cy="548.72" r="1.3"/>
<circle cx="374.68" cy="548.36" r="1.3"/>
<circle cx="376.16" cy="547.74" r="1.3"/>
<circle cx="377.63" cy="547.75" r="1.3"/>
<circle cx="379.11" cy="546.91" r="1.3"/>
<circle cx="380.59" cy="545.97" r="1.3"/>
<circle cx="382.07" cy="546.49" r="1.3"/>
<circle cx="383.55" cy="545.68" r="1.3"/>
<circle cx="385.02" cy="544.59" r="1.3"/>
<circle cx="386.5" cy="544.21" r="1.3"/>
<circle cx="387.98" cy="543.65" r="1.3"/>
<circle cx="389.46" cy="541.97" r="1.3"/>
<circle cx="390.94" cy="541.24" r="1.3"/>
<circle cx="392.41" cy="540.28" r="1.3"/>
<circle cx="393.89" cy="539.34" r="1.3"/>
<circle cx="395.37" cy="538.47" r="1.3"/>
<circle cx="396.85" cy="537.95" r="1.3"/>
<circle cx="398.33" cy="537.41" r="1.3"/>
<circle cx="399.8" cy="535.49" r="1.3"/>
<circle cx="401.28" cy="534.94" r="1.3"/>
<circle cx="402.76" cy="533.55" r="1.3"/>
<circle cx="404.24" cy="532.41" r="1.3"/>
<circle cx="405.72" cy="531.86" r="1.3"/>
<circle cx="407.19" cy="530.49" r="1.3"/>
<circle cx="408.67" cy="528.71" r="1.3"/>
<circle cx="410.15" cy="527.76" r="1.3"/>
<circle cx="411.63" cy="527.07" r="1.3"/>
<circle cx="413.1" cy="524.93" r="1.3"/>
<circle cx="414.58" cy="522.78" r="1.3"/>
<circle cx="416.06" cy="519.99" r="1.3"/>
<circle cx="417.54" cy="516.67" r="1.3"/>
<circle cx="419.02" cy="512.84" r="1.3"/>
<circle cx="420.49" cy="507.87" r="1.3"/>
<circle cx="421.97" cy="501.48" r="1.3"/>
<circle cx="423.45" cy="495.12" r="1.3"/>
<circle cx="424.93" cy="486.29" r="1.3"/>
<circle cx="426.41" cy="477.74" r="1.3"/>
<circle cx="427.88" cy="468.72" r="1.3"/>
<circle cx="429.36" cy="459.4" r="1.3"/>
<circle cx="430.84" cy="450.24" r="1.3"/>
<circle cx="432.32" cy="442.83" r="1.3"/>
<circle cx="433.8" cy="436.68" r="1.3"/>
<circle cx="435.27" cy="431.41" r="1.3"/>
<circle cx="436.75" cy="429.01" r="1.3"/>
<circle cx="438.23" cy="430.01" r="1.3"/>
<circle cx="439.71" cy="433.04" r="1.3"/>
<circle cx="441.18" cy="438.59" r="1.3"/>
<circle cx="442.66" cy="446.52" r="1.3"/>
<circle cx="444.14" cy="455.38" r="1.3"/>
<circle cx="445.62" cy="465.65" r="1.3"/>
<circle cx="447.1" cy="476.82" r="1.3"/>
<circle cx="448.57" cy="487.49" r="1.3"/>
<circle cx="450.05" cy="498.56" r="1.3"/>
<circle cx="451.53" cy="507.83" r="1.3"/>
<circle cx="453.01" cy="516.73" r="1.3"/>
<circle cx="454.49" cy="524.06" r="1.3"/>
<circle cx="455.96" cy="530.02" r="1.3"/>
<circle cx="457.44" cy="535.08" r="1.3"/>
<circle cx="458.92" cy="538.84" r="1.3"/>
<circle cx="460.4" cy="541.98" r="1.3"/>
<circle cx="461.88" cy="544.87" r="1.3"/>
<circle cx="463.35" cy="545.82" r="1.3"/>
<circle cx="464.83" cy="547.96" r="1.3"/>
<circle cx="466.31" cy="548.41" r="1.3"/>
<circle cx="467.79" cy="548.94" r="1.3"/>
<circle cx="469.27" cy="549.52" r="1.3"/>
<circle cx="470.74" cy="549.68" r="1.3"/>
<circle cx="472.22" cy="550.07" r="1.3"/>
<circle cx="473.7" cy="550.57" r="1.3"/>
<circle cx="475.18" cy="550.16" r="1.3"/>
<circle cx="476.65" cy="550.54" r="1.3"/>
<circle cx="478.13" cy="550.9" r="1.3"/>
<circle cx="479.61" cy="550.67" r="1.3"/>
<circle cx="481.09" cy="550.76" r="1.3"/>
<circle cx="482.57" cy="550.71" r="1.3"/>
<circle cx="484.04" cy="551.03" r="1.3"/>
<circle cx="485.52" cy="550.84" r="1.3"/>
<circle cx="487" cy="550.99" r="1.3"/>
<circle cx="488.48" cy="550.47" r="1.3"/>
<circle cx="489.96" cy="551.1" r="1.3"/>
<circle cx="491.43" cy="550.62" r="1.3"/>
<circle cx="492.91" cy="551.06" r="1.3"/>
<circle cx="494.39" cy="550.71" r="1.3"/>
<circle cx="495.87" cy="550.36" r="1.3"/>
<circle cx="497.35" cy="551.2" r="1.3"/>
<circle cx="498.82" cy="551.06" r="1.3"/>
<circle cx="500.3" cy="551.39" r="1.3"/>
<circle cx="501.78" cy="551.34" r="1.3"/>
<circle cx="503.26" cy="551.31" r="1.3"/>
<circle cx="504.73" cy="551.12" r="1.3"/>
<circle cx="506.21" cy="550.88" r="1.3"/>
<circle cx="507.69" cy="550.9" r="1.3"/>
<circle cx="509.17" cy="551.33" r="1.3"/>
<circle cx="510.65" cy="551.14" r="1.3"/>
<circle cx="512.12" cy="551.64" r="1.3"/>
<circle cx="513.6" cy="551.03" r="1.3"/>
<circle cx="515.08" cy="551.29" r="1.3"/>
<circle cx="516.56" cy="551.55" r="1.3"/>
</g>
<path d="M322.95 551.2 L323.7 551.2 L324.44 551.19 L325.19 551.19 L325.93 551.18 L326.68 551.18 L327.42 551.17 L328.16 551.17 L328.91 551.16 L329.65 551.16 L330.4 551.15 L331.14 551.15 L331.89 551.14 L332.63 551.14 L333.38 551.13 L334.12 551.12 L334.87 551.12 L335.61 551.11 L336.36 551.1 L337.1 551.1 L337.84 551.09 L338.59 551.08 L339.33 551.07 L340.08 551.06 L340.82 551.06 L341.57 551.05 L342.31 551.04 L343.06 551.03 L343.8 551.02 L344.55 551 L345.29 550.99 L346.04 550.98 L346.78 550.97 L347.53 550.95 L348.27 550.94 L349.01 550.92 L349.76 550.9 L350.5 550.88 L351.25 550.86 L351.99 550.84 L352.74 550.82 L353.48 550.79 L354.23 550.77 L354.97 550.74 L355.72 550.71 L356.46 550.68 L357.21 550.64 L357.95 550.6 L358.69 550.56 L359.44 550.52 L360.18 550.47 L360.93 550.42 L361.67 550.37 L362.42 550.31 L363.16 550.24 L363.91 550.17 L364.65 550.1 L365.4 550.02 L366.14 549.94 L366.89 549.85 L367.63 549.75 L368.38 549.65 L369.12 549.54 L369.86 549.42 L370.61 549.29 L371.35 549.16 L372.1 549.01 L372.84 548.86 L373.59 548.7 L374.33 548.53 L375.08 548.34 L375.82 548.15 L376.57 547.95 L377.31 547.73 L378.06 547.51 L378.8 547.27 L379.54 547.02 L380.29 546.75 L381.03 546.48 L381.78 546.19 L382.52 545.88 L383.27 545.57 L384.01 545.24 L384.76 544.9 L385.5 544.54 L386.25 544.18 L386.99 543.8 L387.74 543.4 L388.48 543 L389.22 542.58 L389.97 542.15 L390.71 541.71 L391.46 541.26 L392.2 540.79 L392.95 540.32 L393.69 539.84 L394.44 539.36 L395.18 538.86 L395.93 538.36 L396.67 537.85 L397.42 537.34 L398.16 536.83 L398.91 536.31 L399.65 535.79 L400.39 535.27 L401.14 534.75 L401.88 534.22 L402.63 533.7 L403.37 533.18 L404.12 532.65 L404.86 532.12 L405.61 531.59 L406.35 531.05 L407.1 530.5 L407.84 529.94 L408.59 529.36 L409.33 528.75 L410.07 528.1 L410.82 527.41 L411.56 526.67 L412.31 525.86 L413.05 524.97 L413.8 523.98 L414.54 522.88 L415.29 521.65 L416.03 520.27 L416.78 518.72 L417.52 516.98 L418.27 515.04 L419.01 512.87 L419.76 510.47 L420.5 507.81 L421.24 504.9 L421.99 501.72 L422.73 498.27 L423.48 494.57 L424.22 490.63 L424.97 486.46 L425.71 482.09 L426.46 477.56 L427.2 472.92 L427.95 468.2 L428.69 463.48 L429.44 458.8 L430.18 454.24 L430.92 449.86 L431.67 445.74 L432.41 441.94 L433.16 438.54 L433.9 435.6 L434.65 433.17 L435.39 431.3 L436.14 430.05 L436.88 429.43 L437.63 429.47 L438.37 430.18 L439.12 431.54 L439.86 433.55 L440.61 436.17 L441.35 439.37 L442.09 443.09 L442.84 447.28 L443.58 451.88 L444.33 456.81 L445.07 462 L445.82 467.38 L446.56 472.88 L447.31 478.43 L448.05 483.95 L448.8 489.4 L449.54 494.72 L450.29 499.86 L451.03 504.77 L451.77 509.43 L452.52 513.81 L453.26 517.89 L454.01 521.67 L454.75 525.14 L455.5 528.3 L456.24 531.15 L456.99 533.72 L457.73 536.01 L458.48 538.04 L459.22 539.82 L459.97 541.39 L460.71 542.75 L461.45 543.93 L462.2 544.94 L462.94 545.81 L463.69 546.56 L464.43 547.19 L465.18 547.73 L465.92 548.19 L466.67 548.57 L467.41 548.9 L468.16 549.17 L468.9 549.41 L469.65 549.61 L470.39 549.77 L471.14 549.92 L471.88 550.04 L472.62 550.15 L473.37 550.24 L474.11 550.32 L474.86 550.39 L475.6 550.45 L476.35 550.51 L477.09 550.56 L477.84 550.6 L478.58 550.65 L479.33 550.68 L480.07 550.72 L480.82 550.75 L481.56 550.78 L482.3 550.8 L483.05 550.83 L483.79 550.85 L484.54 550.87 L485.28 550.89 L486.03 550.91 L486.77 550.93 L487.52 550.94 L488.26 550.96 L489.01 550.97 L489.75 550.98 L490.5 551 L491.24 551.01 L491.99 551.02 L492.73 551.03 L493.47 551.04 L494.22 551.05 L494.96 551.06 L495.71 551.07 L496.45 551.08 L497.2 551.08 L497.94 551.09 L498.69 551.1 L499.43 551.11 L500.18 551.11 L500.92 551.12 L501.67 551.13 L502.41 551.13 L503.15 551.14 L503.9 551.14 L504.64 551.15 L505.39 551.16 L506.13 551.16 L506.88 551.17 L507.62 551.17 L508.37 551.18 L509.11 551.18 L509.86 551.19 L510.6 551.19 L511.35 551.19 L512.09 551.2 L512.84 551.2 L513.58 551.21 L514.32 551.21 L515.07 551.21 L515.81 551.22 L516.56 551.22" fill="none" stroke="#1a1a1a" stroke-width="1.0" stroke-linejoin="round" />
<text x="316.6" y="435.0" font-size="14.6" font-weight="bold" fill="#111" stroke="#111">O1s</text>
<text x="412.5" y="580.6" font-size="8.6" fill="#3c3c3c" stroke="#3c3c3c" text-anchor="middle">Binding energy, eV</text>
<text transform="translate(285.3 481.2) rotate(-90)" font-size="8.45" fill="#3c3c3c" stroke="#3c3c3c" text-anchor="middle">Intensity, a.u.</text>
<path d="M49.6 595.1 H258" fill="none" stroke="#4a4a4a" stroke-width="1.15"/>
<path d="M258 594.6 V736.4" fill="none" stroke="#4a4a4a" stroke-width="0.8999999999999999"/>
<path d="M49.6 595.1 V735.9 H258" fill="none" stroke="#2a2a2a" stroke-width="0.95"/>
<text x="66.72" y="746.7" font-size="7.5" fill="#3c3c3c" stroke="#3c3c3c" text-anchor="middle">140</text>
<text x="101.31" y="746.7" font-size="7.5" fill="#3c3c3c" stroke="#3c3c3c" text-anchor="middle">138</text>
<text x="135.9" y="746.7" font-size="7.5" fill="#3c3c3c" stroke="#3c3c3c" text-anchor="middle">136</text>
<text x="170.49" y="746.7" font-size="7.5" fill="#3c3c3c" stroke="#3c3c3c" text-anchor="middle">134</text>
<text x="205.08" y="746.7" font-size="7.5" fill="#3c3c3c" stroke="#3c3c3c" text-anchor="middle">132</text>
<text x="239.67" y="746.7" font-size="7.5" fill="#3c3c3c" stroke="#3c3c3c" text-anchor="middle">130</text>
<path d="M66.72 735.9v2.6M101.31 735.9v2.6M135.9 735.9v2.6M170.49 735.9v2.6M205.08 735.9v2.6M239.67 735.9v2.6M84.02 735.9v1.5M118.61 735.9v1.5M153.19 735.9v1.5M187.78 735.9v1.5M222.37 735.9v1.5M256.96 735.9v1.5" stroke="#2a2a2a" stroke-width="0.9" fill="none"/>
<text x="44.4" y="738.44" font-size="7.7" fill="#3c3c3c" stroke="#3c3c3c" text-anchor="end">0,5</text>
<text x="44.4" y="712.74" font-size="7.7" fill="#3c3c3c" stroke="#3c3c3c" text-anchor="end">0,6</text>
<text x="44.4" y="687.04" font-size="7.7" fill="#3c3c3c" stroke="#3c3c3c" text-anchor="end">0,7</text>
<text x="44.4" y="661.35" font-size="7.7" fill="#3c3c3c" stroke="#3c3c3c" text-anchor="end">0,8</text>
<text x="44.4" y="635.65" font-size="7.7" fill="#3c3c3c" stroke="#3c3c3c" text-anchor="end">0,9</text>
<text x="44.4" y="609.95" font-size="7.7" fill="#3c3c3c" stroke="#3c3c3c" text-anchor="end">1,0</text>
<path d="M49.6 735.9h-2.6M49.6 710.2h-2.6M49.6 684.5h-2.6M49.6 658.81h-2.6M49.6 633.11h-2.6M49.6 607.41h-2.6M49.6 723.05h-1.5M49.6 697.35h-1.5M49.6 671.65h-1.5M49.6 645.96h-1.5M49.6 620.26h-1.5" stroke="#2a2a2a" stroke-width="0.9" fill="none"/>
<path d="M49.43 717.14 L50.22 717.14 L51.02 717.14 L51.81 717.14 L52.61 717.14 L53.4 717.14 L54.2 717.14 L54.99 717.14 L55.79 717.14 L56.58 717.14 L57.38 717.14 L58.17 717.14 L58.97 717.14 L59.76 717.14 L60.56 717.14 L61.35 717.14 L62.15 717.14 L62.94 717.14 L63.74 717.14 L64.53 717.14 L65.32 717.14 L66.12 717.14 L66.91 717.14 L67.71 717.14 L68.5 717.14 L69.3 717.14 L70.09 717.14 L70.89 717.14 L71.68 717.14 L72.48 717.14 L73.27 717.14 L74.07 717.14 L74.86 717.14 L75.66 717.14 L76.45 717.14 L77.25 717.14 L78.04 717.14 L78.84 717.14 L79.63 717.14 L80.43 717.14 L81.22 717.14 L82.02 717.14 L82.81 717.14 L83.61 717.14 L84.4 717.14 L85.2 717.14 L85.99 717.14 L86.79 717.14 L87.58 717.14 L88.38 717.14 L89.17 717.14 L89.97 717.14 L90.76 717.14 L91.56 717.14 L92.35 717.14 L93.15 717.14 L93.94 717.14 L94.74 717.14 L95.53 717.14 L96.33 717.14 L97.12 717.14 L97.92 717.14 L98.71 717.14 L99.5 717.15 L100.3 717.15 L101.09 717.15 L101.89 717.15 L102.68 717.15 L103.48 717.15 L104.27 717.15 L105.07 717.15 L105.86 717.15 L106.66 717.15 L107.45 717.15 L108.25 717.15 L109.04 717.15 L109.84 717.15 L110.63 717.15 L111.43 717.16 L112.22 717.16 L113.02 717.16 L113.81 717.16 L114.61 717.16 L115.4 717.16 L116.2 717.16 L116.99 717.17 L117.79 717.17 L118.58 717.17 L119.38 717.17 L120.17 717.18 L120.97 717.18 L121.76 717.18 L122.56 717.18 L123.35 717.19 L124.15 717.19 L124.94 717.2 L125.74 717.2 L126.53 717.2 L127.33 717.21 L128.12 717.22 L128.92 717.22 L129.71 717.23 L130.51 717.23 L131.3 717.24 L132.1 717.25 L132.89 717.26 L133.69 717.27 L134.48 717.28 L135.27 717.29 L136.07 717.3 L136.86 717.31 L137.66 717.33 L138.45 717.34 L139.25 717.36 L140.04 717.37 L140.84 717.39 L141.63 717.41 L142.43 717.43 L143.22 717.45 L144.02 717.48 L144.81 717.5 L145.61 717.53 L146.4 717.56 L147.2 717.59 L147.99 717.63 L148.79 717.66 L149.58 717.7 L150.38 717.74 L151.17 717.79 L151.97 717.83 L152.76 717.88 L153.56 717.94 L154.35 717.99 L155.15 718.06 L155.94 718.12 L156.74 718.19 L157.53 718.26 L158.33 718.34 L159.12 718.42 L159.92 718.51 L160.71 718.6 L161.51 718.69 L162.3 718.79 L163.1 718.9 L163.89 719.01 L164.69 719.12 L165.48 719.24 L166.28 719.37 L167.07 719.5 L167.87 719.63 L168.66 719.77 L169.45 719.91 L170.25 720.06 L171.04 720.21 L171.84 720.36 L172.63 720.52 L173.43 720.68 L174.22 720.84 L175.02 721.01 L175.81 721.17 L176.61 721.34 L177.4 721.51 L178.2 721.68 L178.99 721.84 L179.79 722.01 L180.58 722.17 L181.38 722.33 L182.17 722.5 L182.97 722.65 L183.76 722.81 L184.56 722.96 L185.35 723.1 L186.15 723.25 L186.94 723.39 L187.74 723.52 L188.53 723.65 L189.33 723.77 L190.12 723.89 L190.92 724.01 L191.71 724.12 L192.51 724.22 L193.3 724.32 L194.1 724.42 L194.89 724.51 L195.69 724.6 L196.48 724.68 L197.28 724.76 L198.07 724.83 L198.87 724.9 L199.66 724.96 L200.46 725.02 L201.25 725.08 L202.05 725.13 L202.84 725.18 L203.64 725.23 L204.43 725.28 L205.22 725.32 L206.02 725.36 L206.81 725.39 L207.61 725.43 L208.4 725.46 L209.2 725.49 L209.99 725.52 L210.79 725.54 L211.58 725.57 L212.38 725.59 L213.17 725.61 L213.97 725.63 L214.76 725.65 L215.56 725.66 L216.35 725.68 L217.15 725.69 L217.94 725.71 L218.74 725.72 L219.53 725.73 L220.33 725.74 L221.12 725.75 L221.92 725.76 L222.71 725.77 L223.51 725.78 L224.3 725.78 L225.1 725.79 L225.89 725.8 L226.69 725.8 L227.48 725.81 L228.28 725.81 L229.07 725.82 L229.87 725.82 L230.66 725.83 L231.46 725.83 L232.25 725.83 L233.05 725.84 L233.84 725.84 L234.64 725.84 L235.43 725.85 L236.23 725.85 L237.02 725.85 L237.82 725.85 L238.61 725.85 L239.4 725.86 L240.2 725.86 L240.99 725.86 L241.79 725.86 L242.58 725.86 L243.38 725.86 L244.17 725.86 L244.97 725.86 L245.76 725.87 L246.56 725.87 L247.35 725.87 L248.15 725.87 L248.94 725.87 L249.74 725.87 L250.53 725.87 L251.33 725.87 L252.12 725.87 L252.92 725.87 L253.71 725.87 L254.51 725.87 L255.3 725.87 L256.1 725.87" fill="none" stroke="#555" stroke-width="1.0" stroke-linejoin="round" stroke-dasharray="1.2 2.4"/>
<path d="M49.43 717.08 L50.22 717.08 L51.02 717.08 L51.81 717.08 L52.61 717.08 L53.4 717.07 L54.2 717.07 L54.99 717.07 L55.79 717.07 L56.58 717.07 L57.38 717.07 L58.17 717.07 L58.97 717.07 L59.76 717.07 L60.56 717.07 L61.35 717.06 L62.15 717.06 L62.94 717.06 L63.74 717.06 L64.53 717.06 L65.32 717.06 L66.12 717.06 L66.91 717.06 L67.71 717.05 L68.5 717.05 L69.3 717.05 L70.09 717.05 L70.89 717.05 L71.68 717.05 L72.48 717.04 L73.27 717.04 L74.07 717.04 L74.86 717.04 L75.66 717.04 L76.45 717.04 L77.25 717.03 L78.04 717.03 L78.84 717.03 L79.63 717.03 L80.43 717.03 L81.22 717.02 L82.02 717.02 L82.81 717.02 L83.61 717.02 L84.4 717.02 L85.2 717.01 L85.99 717.01 L86.79 717.01 L87.58 717.01 L88.38 717 L89.17 717 L89.97 717 L90.76 716.99 L91.56 716.99 L92.35 716.99 L93.15 716.98 L93.94 716.98 L94.74 716.98 L95.53 716.97 L96.33 716.97 L97.12 716.97 L97.92 716.96 L98.71 716.96 L99.5 716.96 L100.3 716.95 L101.09 716.95 L101.89 716.94 L102.68 716.94 L103.48 716.93 L104.27 716.93 L105.07 716.92 L105.86 716.92 L106.66 716.91 L107.45 716.91 L108.25 716.9 L109.04 716.89 L109.84 716.89 L110.63 716.88 L111.43 716.87 L112.22 716.86 L113.02 716.85 L113.81 716.84 L114.61 716.83 L115.4 716.82 L116.2 716.81 L116.99 716.79 L117.79 716.78 L118.58 716.76 L119.38 716.74 L120.17 716.71 L120.97 716.68 L121.76 716.65 L122.56 716.62 L123.35 716.58 L124.15 716.53 L124.94 716.48 L125.74 716.42 L126.53 716.35 L127.33 716.27 L128.12 716.18 L128.92 716.07 L129.71 715.96 L130.51 715.82 L131.3 715.67 L132.1 715.5 L132.89 715.31 L133.69 715.1 L134.48 714.86 L135.27 714.6 L136.07 714.3 L136.86 713.98 L137.66 713.63 L138.45 713.24 L139.25 712.82 L140.04 712.36 L140.84 711.87 L141.63 711.34 L142.43 710.78 L143.22 710.18 L144.02 709.54 L144.81 708.87 L145.61 708.17 L146.4 707.44 L147.2 706.68 L147.99 705.91 L148.79 705.11 L149.58 704.3 L150.38 703.49 L151.17 702.67 L151.97 701.86 L152.76 701.06 L153.56 700.28 L154.35 699.52 L155.15 698.8 L155.94 698.13 L156.74 697.5 L157.53 696.94 L158.33 696.44 L159.12 696.02 L159.92 695.68 L160.71 695.43 L161.51 695.27 L162.3 695.22 L163.1 695.26 L163.89 695.4 L164.69 695.64 L165.48 695.98 L166.28 696.42 L167.07 696.95 L167.87 697.56 L168.66 698.25 L169.45 699.01 L170.25 699.83 L171.04 700.71 L171.84 701.63 L172.63 702.59 L173.43 703.58 L174.22 704.59 L175.02 705.61 L175.81 706.64 L176.61 707.67 L177.4 708.68 L178.2 709.69 L178.99 710.67 L179.79 711.63 L180.58 712.57 L181.38 713.47 L182.17 714.33 L182.97 715.16 L183.76 715.95 L184.56 716.7 L185.35 717.41 L186.15 718.07 L186.94 718.7 L187.74 719.28 L188.53 719.82 L189.33 720.33 L190.12 720.79 L190.92 721.22 L191.71 721.62 L192.51 721.98 L193.3 722.31 L194.1 722.61 L194.89 722.89 L195.69 723.14 L196.48 723.36 L197.28 723.57 L198.07 723.76 L198.87 723.93 L199.66 724.08 L200.46 724.22 L201.25 724.34 L202.05 724.46 L202.84 724.56 L203.64 724.65 L204.43 724.74 L205.22 724.81 L206.02 724.88 L206.81 724.95 L207.61 725.01 L208.4 725.06 L209.2 725.11 L209.99 725.15 L210.79 725.19 L211.58 725.23 L212.38 725.27 L213.17 725.3 L213.97 725.33 L214.76 725.36 L215.56 725.38 L216.35 725.41 L217.15 725.43 L217.94 725.45 L218.74 725.47 L219.53 725.49 L220.33 725.51 L221.12 725.52 L221.92 725.54 L222.71 725.55 L223.51 725.57 L224.3 725.58 L225.1 725.59 L225.89 725.6 L226.69 725.61 L227.48 725.62 L228.28 725.63 L229.07 725.64 L229.87 725.65 L230.66 725.66 L231.46 725.66 L232.25 725.67 L233.05 725.68 L233.84 725.68 L234.64 725.69 L235.43 725.7 L236.23 725.7 L237.02 725.71 L237.82 725.71 L238.61 725.72 L239.4 725.72 L240.2 725.73 L240.99 725.73 L241.79 725.73 L242.58 725.74 L243.38 725.74 L244.17 725.74 L244.97 725.75 L245.76 725.75 L246.56 725.75 L247.35 725.76 L248.15 725.76 L248.94 725.76 L249.74 725.76 L250.53 725.77 L251.33 725.77 L252.12 725.77 L252.92 725.77 L253.71 725.78 L254.51 725.78 L255.3 725.78 L256.1 725.78" fill="none" stroke="#a068f5" stroke-width="1" stroke-linejoin="round" />
<path d="M49.43 717 L50.22 717 L51.02 717 L51.81 717 L52.61 717 L53.4 717 L54.2 716.99 L54.99 716.99 L55.79 716.99 L56.58 716.99 L57.38 716.99 L58.17 716.98 L58.97 716.98 L59.76 716.98 L60.56 716.98 L61.35 716.98 L62.15 716.97 L62.94 716.97 L63.74 716.97 L64.53 716.97 L65.32 716.97 L66.12 716.96 L66.91 716.96 L67.71 716.96 L68.5 716.96 L69.3 716.95 L70.09 716.95 L70.89 716.95 L71.68 716.94 L72.48 716.94 L73.27 716.94 L74.07 716.94 L74.86 716.93 L75.66 716.93 L76.45 716.93 L77.25 716.92 L78.04 716.92 L78.84 716.92 L79.63 716.91 L80.43 716.91 L81.22 716.91 L82.02 716.9 L82.81 716.9 L83.61 716.9 L84.4 716.89 L85.2 716.89 L85.99 716.88 L86.79 716.88 L87.58 716.88 L88.38 716.87 L89.17 716.87 L89.97 716.86 L90.76 716.86 L91.56 716.85 L92.35 716.85 L93.15 716.84 L93.94 716.84 L94.74 716.83 L95.53 716.83 L96.33 716.82 L97.12 716.82 L97.92 716.81 L98.71 716.8 L99.5 716.8 L100.3 716.79 L101.09 716.79 L101.89 716.78 L102.68 716.77 L103.48 716.77 L104.27 716.76 L105.07 716.75 L105.86 716.74 L106.66 716.74 L107.45 716.73 L108.25 716.72 L109.04 716.71 L109.84 716.7 L110.63 716.7 L111.43 716.69 L112.22 716.68 L113.02 716.67 L113.81 716.66 L114.61 716.65 L115.4 716.64 L116.2 716.63 L116.99 716.62 L117.79 716.61 L118.58 716.59 L119.38 716.58 L120.17 716.57 L120.97 716.56 L121.76 716.54 L122.56 716.53 L123.35 716.52 L124.15 716.5 L124.94 716.49 L125.74 716.47 L126.53 716.45 L127.33 716.44 L128.12 716.42 L128.92 716.4 L129.71 716.38 L130.51 716.35 L131.3 716.33 L132.1 716.3 L132.89 716.26 L133.69 716.23 L134.48 716.19 L135.27 716.14 L136.07 716.09 L136.86 716.03 L137.66 715.96 L138.45 715.88 L139.25 715.78 L140.04 715.67 L140.84 715.54 L141.63 715.39 L142.43 715.21 L143.22 715 L144.02 714.76 L144.81 714.49 L145.61 714.16 L146.4 713.79 L147.2 713.36 L147.99 712.86 L148.79 712.3 L149.58 711.65 L150.38 710.91 L151.17 710.08 L151.97 709.14 L152.76 708.09 L153.56 706.9 L154.35 705.59 L155.15 704.13 L155.94 702.52 L156.74 700.75 L157.53 698.81 L158.33 696.71 L159.12 694.42 L159.92 691.96 L160.71 689.32 L161.51 686.51 L162.3 683.52 L163.1 680.36 L163.89 677.05 L164.69 673.59 L165.48 670 L166.28 666.3 L167.07 662.51 L167.87 658.65 L168.66 654.74 L169.45 650.83 L170.25 646.93 L171.04 643.08 L171.84 639.32 L172.63 635.68 L173.43 632.21 L174.22 628.92 L175.02 625.88 L175.81 623.11 L176.61 620.64 L177.4 618.52 L178.2 616.76 L178.99 615.4 L179.79 614.46 L180.58 613.95 L181.38 613.89 L182.17 614.27 L182.97 615.09 L183.76 616.35 L184.56 618.01 L185.35 620.08 L186.15 622.51 L186.94 625.27 L187.74 628.34 L188.53 631.67 L189.33 635.24 L190.12 638.99 L190.92 642.9 L191.71 646.93 L192.51 651.03 L193.3 655.17 L194.1 659.33 L194.89 663.46 L195.69 667.54 L196.48 671.55 L197.28 675.45 L198.07 679.23 L198.87 682.88 L199.66 686.37 L200.46 689.69 L201.25 692.84 L202.05 695.81 L202.84 698.59 L203.64 701.19 L204.43 703.6 L205.22 705.83 L206.02 707.88 L206.81 709.76 L207.61 711.47 L208.4 713.03 L209.2 714.43 L209.99 715.7 L210.79 716.83 L211.58 717.84 L212.38 718.75 L213.17 719.55 L213.97 720.25 L214.76 720.87 L215.56 721.42 L216.35 721.9 L217.15 722.32 L217.94 722.68 L218.74 723 L219.53 723.28 L220.33 723.52 L221.12 723.72 L221.92 723.91 L222.71 724.06 L223.51 724.2 L224.3 724.32 L225.1 724.42 L225.89 724.51 L226.69 724.59 L227.48 724.66 L228.28 724.72 L229.07 724.78 L229.87 724.83 L230.66 724.87 L231.46 724.91 L232.25 724.95 L233.05 724.98 L233.84 725.02 L234.64 725.04 L235.43 725.07 L236.23 725.1 L237.02 725.12 L237.82 725.14 L238.61 725.16 L239.4 725.18 L240.2 725.2 L240.99 725.22 L241.79 725.24 L242.58 725.26 L243.38 725.27 L244.17 725.29 L244.97 725.3 L245.76 725.32 L246.56 725.33 L247.35 725.34 L248.15 725.36 L248.94 725.37 L249.74 725.38 L250.53 725.39 L251.33 725.4 L252.12 725.41 L252.92 725.42 L253.71 725.43 L254.51 725.44 L255.3 725.45 L256.1 725.46" fill="none" stroke="#5a3cf0" stroke-width="1.05" stroke-linejoin="round" />
<g fill="none" stroke="#222" stroke-width="0.7">
<circle cx="51.16" cy="716.48" r="1.45"/>
<circle cx="53.12" cy="718.48" r="1.45"/>
<circle cx="55.08" cy="716.75" r="1.45"/>
<circle cx="57.04" cy="713.61" r="1.45"/>
<circle cx="59.01" cy="715.4" r="1.45"/>
<circle cx="60.97" cy="715.58" r="1.45"/>
<circle cx="62.93" cy="719.24" r="1.45"/>
<circle cx="64.89" cy="717.8" r="1.45"/>
<circle cx="66.85" cy="715.36" r="1.45"/>
<circle cx="68.82" cy="714.89" r="1.45"/>
<circle cx="70.78" cy="720.4" r="1.45"/>
<circle cx="72.74" cy="716.9" r="1.45"/>
<circle cx="74.7" cy="712.43" r="1.45"/>
<circle cx="76.67" cy="716.06" r="1.45"/>
<circle cx="78.63" cy="715.31" r="1.45"/>
<circle cx="80.59" cy="713.93" r="1.45"/>
<circle cx="82.55" cy="720.24" r="1.45"/>
<circle cx="84.52" cy="716.97" r="1.45"/>
<circle cx="86.48" cy="716.15" r="1.45"/>
<circle cx="88.44" cy="715.34" r="1.45"/>
<circle cx="90.4" cy="714.1" r="1.45"/>
<circle cx="92.36" cy="715.13" r="1.45"/>
<circle cx="94.33" cy="717.93" r="1.45"/>
<circle cx="96.29" cy="716.98" r="1.45"/>
<circle cx="98.25" cy="716.43" r="1.45"/>
<circle cx="100.21" cy="715.99" r="1.45"/>
<circle cx="102.18" cy="715.94" r="1.45"/>
<circle cx="104.14" cy="714.44" r="1.45"/>
<circle cx="106.1" cy="719.2" r="1.45"/>
<circle cx="108.06" cy="715.5" r="1.45"/>
<circle cx="110.02" cy="713.49" r="1.45"/>
<circle cx="111.99" cy="714.92" r="1.45"/>
<circle cx="113.95" cy="713.53" r="1.45"/>
<circle cx="115.91" cy="716.75" r="1.45"/>
<circle cx="117.87" cy="716.52" r="1.45"/>
<circle cx="119.84" cy="719.8" r="1.45"/>
<circle cx="121.8" cy="714.57" r="1.45"/>
<circle cx="123.76" cy="715" r="1.45"/>
<circle cx="125.72" cy="713.25" r="1.45"/>
<circle cx="127.69" cy="714.34" r="1.45"/>
<circle cx="129.65" cy="716.45" r="1.45"/>
<circle cx="131.61" cy="715.53" r="1.45"/>
<circle cx="133.57" cy="717.88" r="1.45"/>
<circle cx="135.53" cy="713.39" r="1.45"/>
<circle cx="137.5" cy="714.67" r="1.45"/>
<circle cx="139.46" cy="713.25" r="1.45"/>
<circle cx="141.42" cy="711.31" r="1.45"/>
<circle cx="143.38" cy="710.75" r="1.45"/>
<circle cx="145.35" cy="706.12" r="1.45"/>
<circle cx="147.31" cy="710.74" r="1.45"/>
<circle cx="149.27" cy="704.05" r="1.45"/>
<circle cx="151.23" cy="705.25" r="1.45"/>
<circle cx="153.19" cy="698.33" r="1.45"/>
<circle cx="155.16" cy="692.8" r="1.45"/>
<circle cx="157.12" cy="690.14" r="1.45"/>
<circle cx="159.08" cy="680.6" r="1.45"/>
<circle cx="161.04" cy="673.99" r="1.45"/>
<circle cx="163.01" cy="668.3" r="1.45"/>
<circle cx="164.97" cy="657.83" r="1.45"/>
<circle cx="166.93" cy="649.76" r="1.45"/>
<circle cx="168.89" cy="641.3" r="1.45"/>
<circle cx="170.86" cy="632.17" r="1.45"/>
<circle cx="172.82" cy="627.63" r="1.45"/>
<circle cx="174.78" cy="613.16" r="1.45"/>
<circle cx="176.74" cy="608.27" r="1.45"/>
<circle cx="178.7" cy="605.44" r="1.45"/>
<circle cx="180.67" cy="605.94" r="1.45"/>
<circle cx="182.63" cy="611.57" r="1.45"/>
<circle cx="184.59" cy="612.45" r="1.45"/>
<circle cx="186.55" cy="620.23" r="1.45"/>
<circle cx="188.52" cy="629.59" r="1.45"/>
<circle cx="190.48" cy="639.7" r="1.45"/>
<circle cx="192.44" cy="649.56" r="1.45"/>
<circle cx="194.4" cy="659.13" r="1.45"/>
<circle cx="196.36" cy="667.95" r="1.45"/>
<circle cx="198.33" cy="683.13" r="1.45"/>
<circle cx="200.29" cy="685.86" r="1.45"/>
<circle cx="202.25" cy="697.54" r="1.45"/>
<circle cx="204.21" cy="703.21" r="1.45"/>
<circle cx="206.18" cy="708.28" r="1.45"/>
<circle cx="208.14" cy="715.3" r="1.45"/>
<circle cx="210.1" cy="715.29" r="1.45"/>
<circle cx="212.06" cy="718.19" r="1.45"/>
<circle cx="214.03" cy="720.54" r="1.45"/>
<circle cx="215.99" cy="720.75" r="1.45"/>
<circle cx="217.95" cy="722.49" r="1.45"/>
<circle cx="219.91" cy="722.47" r="1.45"/>
<circle cx="221.87" cy="724.17" r="1.45"/>
<circle cx="223.84" cy="725.7" r="1.45"/>
<circle cx="225.8" cy="723.08" r="1.45"/>
<circle cx="227.76" cy="723.85" r="1.45"/>
<circle cx="229.72" cy="725.36" r="1.45"/>
<circle cx="231.69" cy="725.05" r="1.45"/>
<circle cx="233.65" cy="721.83" r="1.45"/>
<circle cx="235.61" cy="724.06" r="1.45"/>
<circle cx="237.57" cy="724.5" r="1.45"/>
<circle cx="239.53" cy="720.63" r="1.45"/>
<circle cx="241.5" cy="724.44" r="1.45"/>
<circle cx="243.46" cy="724.98" r="1.45"/>
<circle cx="245.42" cy="723.13" r="1.45"/>
<circle cx="247.38" cy="728.96" r="1.45"/>
<circle cx="249.35" cy="721.81" r="1.45"/>
<circle cx="251.31" cy="725.92" r="1.45"/>
<circle cx="253.27" cy="727.74" r="1.45"/>
<circle cx="255.23" cy="726.81" r="1.45"/>
</g>
<path d="M49.43 716.97 L50.22 716.97 L51.02 716.96 L51.81 716.96 L52.61 716.96 L53.4 716.96 L54.2 716.95 L54.99 716.95 L55.79 716.95 L56.58 716.95 L57.38 716.94 L58.17 716.94 L58.97 716.94 L59.76 716.94 L60.56 716.93 L61.35 716.93 L62.15 716.93 L62.94 716.92 L63.74 716.92 L64.53 716.92 L65.32 716.92 L66.12 716.91 L66.91 716.91 L67.71 716.91 L68.5 716.9 L69.3 716.9 L70.09 716.9 L70.89 716.89 L71.68 716.89 L72.48 716.88 L73.27 716.88 L74.07 716.88 L74.86 716.87 L75.66 716.87 L76.45 716.86 L77.25 716.86 L78.04 716.86 L78.84 716.85 L79.63 716.85 L80.43 716.84 L81.22 716.84 L82.02 716.83 L82.81 716.83 L83.61 716.82 L84.4 716.82 L85.2 716.81 L85.99 716.81 L86.79 716.8 L87.58 716.79 L88.38 716.79 L89.17 716.78 L89.97 716.78 L90.76 716.77 L91.56 716.76 L92.35 716.76 L93.15 716.75 L93.94 716.74 L94.74 716.73 L95.53 716.73 L96.33 716.72 L97.12 716.71 L97.92 716.7 L98.71 716.69 L99.5 716.69 L100.3 716.68 L101.09 716.67 L101.89 716.66 L102.68 716.65 L103.48 716.64 L104.27 716.63 L105.07 716.62 L105.86 716.61 L106.66 716.59 L107.45 716.58 L108.25 716.57 L109.04 716.56 L109.84 716.54 L110.63 716.53 L111.43 716.52 L112.22 716.5 L113.02 716.48 L113.81 716.47 L114.61 716.45 L115.4 716.43 L116.2 716.41 L116.99 716.39 L117.79 716.37 L118.58 716.35 L119.38 716.32 L120.17 716.29 L120.97 716.26 L121.76 716.23 L122.56 716.19 L123.35 716.15 L124.15 716.11 L124.94 716.06 L125.74 716 L126.53 715.94 L127.33 715.87 L128.12 715.79 L128.92 715.71 L129.71 715.61 L130.51 715.5 L131.3 715.38 L132.1 715.25 L132.89 715.1 L133.69 714.93 L134.48 714.74 L135.27 714.53 L136.07 714.29 L136.86 714.03 L137.66 713.74 L138.45 713.41 L139.25 713.06 L140.04 712.66 L140.84 712.23 L141.63 711.75 L142.43 711.22 L143.22 710.64 L144.02 710 L144.81 709.31 L145.61 708.55 L146.4 707.72 L147.2 706.82 L147.99 705.83 L148.79 704.77 L149.58 703.61 L150.38 702.36 L151.17 701.01 L151.97 699.56 L152.76 697.99 L153.56 696.31 L154.35 694.5 L155.15 692.58 L155.94 690.52 L156.74 688.34 L157.53 686.02 L158.33 683.57 L159.12 680.98 L159.92 678.27 L160.71 675.42 L161.51 672.45 L162.3 669.37 L163.1 666.18 L163.89 662.88 L164.69 659.5 L165.48 656.05 L166.28 652.53 L167.07 648.98 L167.87 645.4 L168.66 641.83 L169.45 638.29 L170.25 634.79 L171.04 631.38 L171.84 628.08 L172.63 624.93 L173.43 621.94 L174.22 619.17 L175.02 616.64 L175.81 614.39 L176.61 612.44 L177.4 610.82 L178.2 609.57 L178.99 608.7 L179.79 608.24 L180.58 608.19 L181.38 608.57 L182.17 609.37 L182.97 610.6 L183.76 612.23 L184.56 614.26 L185.35 616.66 L186.15 619.4 L186.94 622.46 L187.74 625.8 L188.53 629.38 L189.33 633.17 L190.12 637.13 L190.92 641.23 L191.71 645.42 L192.51 649.68 L193.3 653.96 L194.1 658.24 L194.89 662.48 L195.69 666.66 L196.48 670.76 L197.28 674.74 L198.07 678.59 L198.87 682.3 L199.66 685.84 L200.46 689.21 L201.25 692.4 L202.05 695.4 L202.84 698.22 L203.64 700.84 L204.43 703.28 L205.22 705.53 L206.02 707.6 L206.81 709.49 L207.61 711.22 L208.4 712.79 L209.2 714.2 L209.99 715.48 L210.79 716.62 L211.58 717.64 L212.38 718.55 L213.17 719.36 L213.97 720.07 L214.76 720.7 L215.56 721.25 L216.35 721.74 L217.15 722.16 L217.94 722.53 L218.74 722.85 L219.53 723.13 L220.33 723.38 L221.12 723.59 L221.92 723.77 L222.71 723.93 L223.51 724.07 L224.3 724.19 L225.1 724.3 L225.89 724.39 L226.69 724.48 L227.48 724.55 L228.28 724.61 L229.07 724.67 L229.87 724.72 L230.66 724.77 L231.46 724.81 L232.25 724.85 L233.05 724.89 L233.84 724.92 L234.64 724.95 L235.43 724.98 L236.23 725.01 L237.02 725.03 L237.82 725.06 L238.61 725.08 L239.4 725.1 L240.2 725.12 L240.99 725.14 L241.79 725.16 L242.58 725.18 L243.38 725.2 L244.17 725.22 L244.97 725.23 L245.76 725.25 L246.56 725.26 L247.35 725.28 L248.15 725.29 L248.94 725.3 L249.74 725.32 L250.53 725.33 L251.33 725.34 L252.12 725.35 L252.92 725.36 L253.71 725.37 L254.51 725.38 L255.3 725.39 L256.1 725.4" fill="none" stroke="#10102a" stroke-width="1.05" stroke-linejoin="round" />
<text x="54.8" y="615.3" font-size="14.6" font-weight="bold" fill="#111" stroke="#111">P2p</text>
<text x="152.7" y="761" font-size="8.6" fill="#3c3c3c" stroke="#3c3c3c" text-anchor="middle">Binding energy, eV</text>
<text transform="translate(31.3 666.1) rotate(-90)" font-size="8.45" fill="#3c3c3c" stroke="#3c3c3c" text-anchor="middle">Intensity, a.u.</text>
<text x="269.4" y="781.8" font-size="12" letter-spacing="0.75" fill="#111" stroke="#111">(<tspan font-weight="bold">b</tspan>)</text>
<rect x="548.6" y="766" width="1.4" height="2.2" fill="#888"/>
</svg></body></html>
